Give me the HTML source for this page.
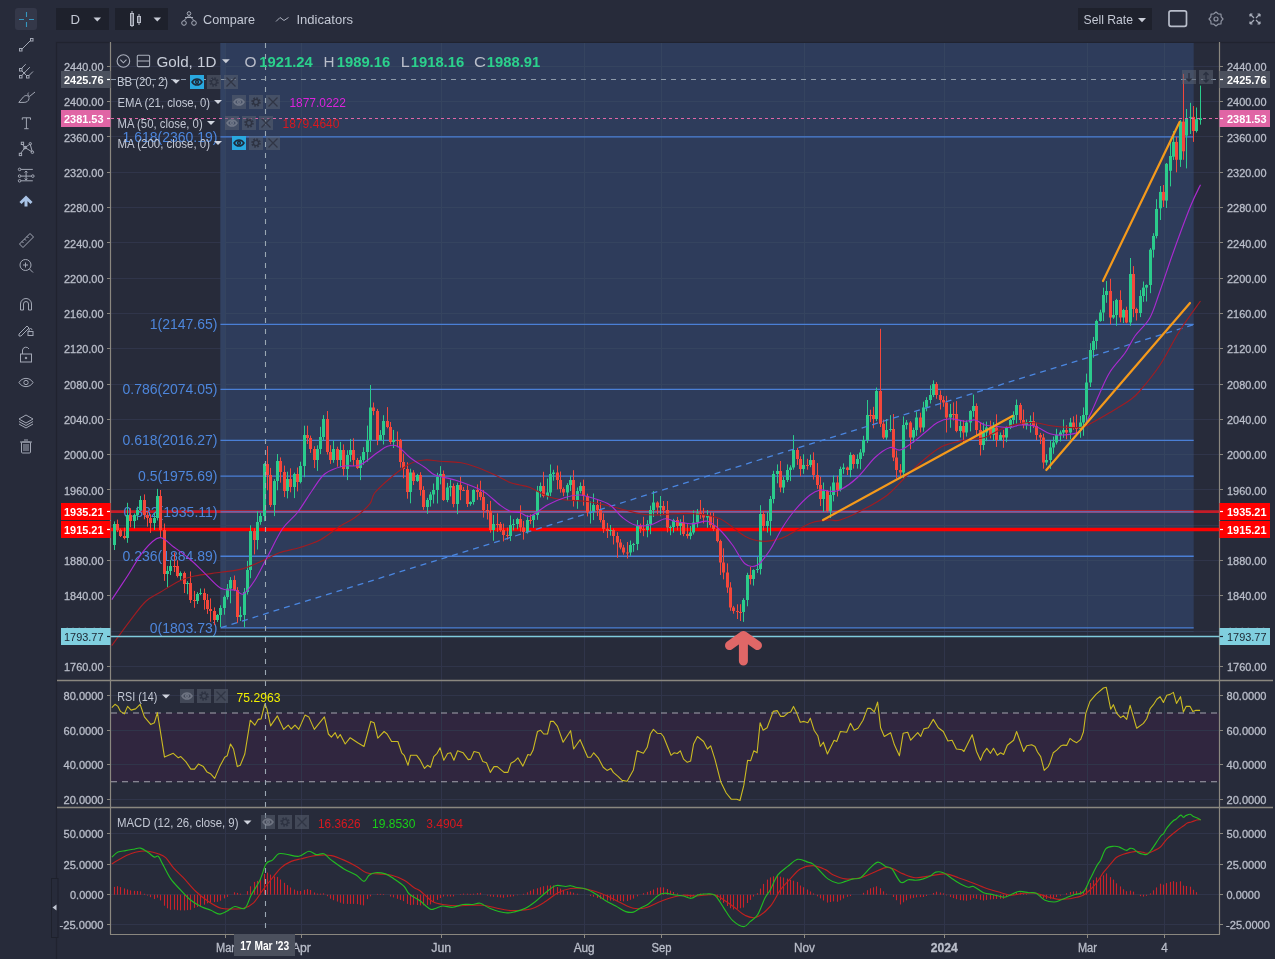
<!DOCTYPE html>
<html><head><meta charset="utf-8"><style>html,body{margin:0;padding:0;background:#272b3a;overflow:hidden;width:1275px;height:959px}svg{display:block;will-change:transform}text{font-family:"Liberation Sans",sans-serif}</style></head><body>
<svg width="1275" height="959" viewBox="0 0 1275 959" font-family="Liberation Sans, sans-serif">
<rect width="1275" height="959" fill="#272b3a"/>
<defs><clipPath id="cm"><rect x="111" y="43" width="1108" height="637"/></clipPath><clipPath id="cr"><rect x="111" y="681" width="1108" height="126"/></clipPath><clipPath id="cd"><rect x="111" y="808" width="1108" height="126"/></clipPath></defs>
<rect x="56.5" y="42.5" width="1300" height="1000" fill="none" stroke="#20232f" stroke-width="1.2"/>
<rect x="220.5" y="136.8" width="973.2" height="0" fill="none"/>
<rect x="220.5" y="43" width="973.2" height="584.8" fill="#2e3c5b"/>
<line x1="225.5" y1="43" x2="225.5" y2="934" stroke="#30354a" stroke-width="1"/>
<line x1="301.5" y1="43" x2="301.5" y2="934" stroke="#30354a" stroke-width="1"/>
<line x1="441.5" y1="43" x2="441.5" y2="934" stroke="#30354a" stroke-width="1"/>
<line x1="584.5" y1="43" x2="584.5" y2="934" stroke="#30354a" stroke-width="1"/>
<line x1="661.5" y1="43" x2="661.5" y2="934" stroke="#30354a" stroke-width="1"/>
<line x1="804.5" y1="43" x2="804.5" y2="934" stroke="#30354a" stroke-width="1"/>
<line x1="944.5" y1="43" x2="944.5" y2="934" stroke="#30354a" stroke-width="1"/>
<line x1="1087.5" y1="43" x2="1087.5" y2="934" stroke="#30354a" stroke-width="1"/>
<line x1="1164.5" y1="43" x2="1164.5" y2="934" stroke="#30354a" stroke-width="1"/>
<line x1="111" y1="666.5" x2="1219" y2="666.5" stroke="#30354a" stroke-width="1"/>
<line x1="111" y1="631.5" x2="1219" y2="631.5" stroke="#30354a" stroke-width="1"/>
<line x1="111" y1="595.5" x2="1219" y2="595.5" stroke="#30354a" stroke-width="1"/>
<line x1="111" y1="560.5" x2="1219" y2="560.5" stroke="#30354a" stroke-width="1"/>
<line x1="111" y1="525.5" x2="1219" y2="525.5" stroke="#30354a" stroke-width="1"/>
<line x1="111" y1="489.5" x2="1219" y2="489.5" stroke="#30354a" stroke-width="1"/>
<line x1="111" y1="454.5" x2="1219" y2="454.5" stroke="#30354a" stroke-width="1"/>
<line x1="111" y1="419.5" x2="1219" y2="419.5" stroke="#30354a" stroke-width="1"/>
<line x1="111" y1="384.5" x2="1219" y2="384.5" stroke="#30354a" stroke-width="1"/>
<line x1="111" y1="348.5" x2="1219" y2="348.5" stroke="#30354a" stroke-width="1"/>
<line x1="111" y1="313.5" x2="1219" y2="313.5" stroke="#30354a" stroke-width="1"/>
<line x1="111" y1="278.5" x2="1219" y2="278.5" stroke="#30354a" stroke-width="1"/>
<line x1="111" y1="242.5" x2="1219" y2="242.5" stroke="#30354a" stroke-width="1"/>
<line x1="111" y1="207.5" x2="1219" y2="207.5" stroke="#30354a" stroke-width="1"/>
<line x1="111" y1="172.5" x2="1219" y2="172.5" stroke="#30354a" stroke-width="1"/>
<line x1="111" y1="136.5" x2="1219" y2="136.5" stroke="#30354a" stroke-width="1"/>
<line x1="111" y1="101.5" x2="1219" y2="101.5" stroke="#30354a" stroke-width="1"/>
<line x1="111" y1="66.5" x2="1219" y2="66.5" stroke="#30354a" stroke-width="1"/>
<line x1="220.5" y1="631.5" x2="1193.7" y2="631.5" stroke="#35445f" stroke-width="1"/>
<line x1="220.5" y1="595.5" x2="1193.7" y2="595.5" stroke="#35445f" stroke-width="1"/>
<line x1="220.5" y1="560.5" x2="1193.7" y2="560.5" stroke="#35445f" stroke-width="1"/>
<line x1="220.5" y1="525.5" x2="1193.7" y2="525.5" stroke="#35445f" stroke-width="1"/>
<line x1="220.5" y1="489.5" x2="1193.7" y2="489.5" stroke="#35445f" stroke-width="1"/>
<line x1="220.5" y1="454.5" x2="1193.7" y2="454.5" stroke="#35445f" stroke-width="1"/>
<line x1="220.5" y1="419.5" x2="1193.7" y2="419.5" stroke="#35445f" stroke-width="1"/>
<line x1="220.5" y1="384.5" x2="1193.7" y2="384.5" stroke="#35445f" stroke-width="1"/>
<line x1="220.5" y1="348.5" x2="1193.7" y2="348.5" stroke="#35445f" stroke-width="1"/>
<line x1="220.5" y1="313.5" x2="1193.7" y2="313.5" stroke="#35445f" stroke-width="1"/>
<line x1="220.5" y1="278.5" x2="1193.7" y2="278.5" stroke="#35445f" stroke-width="1"/>
<line x1="220.5" y1="242.5" x2="1193.7" y2="242.5" stroke="#35445f" stroke-width="1"/>
<line x1="220.5" y1="207.5" x2="1193.7" y2="207.5" stroke="#35445f" stroke-width="1"/>
<line x1="220.5" y1="172.5" x2="1193.7" y2="172.5" stroke="#35445f" stroke-width="1"/>
<line x1="220.5" y1="136.5" x2="1193.7" y2="136.5" stroke="#35445f" stroke-width="1"/>
<line x1="220.5" y1="101.5" x2="1193.7" y2="101.5" stroke="#35445f" stroke-width="1"/>
<line x1="220.5" y1="66.5" x2="1193.7" y2="66.5" stroke="#35445f" stroke-width="1"/>
<rect x="220.5" y="43" width="5" height="584.8" fill="#324262"/>
<line x1="225.5" y1="43" x2="225.5" y2="627.8" stroke="#35445f" stroke-width="1"/>
<line x1="301.5" y1="43" x2="301.5" y2="627.8" stroke="#35445f" stroke-width="1"/>
<line x1="441.5" y1="43" x2="441.5" y2="627.8" stroke="#35445f" stroke-width="1"/>
<line x1="584.5" y1="43" x2="584.5" y2="627.8" stroke="#35445f" stroke-width="1"/>
<line x1="661.5" y1="43" x2="661.5" y2="627.8" stroke="#35445f" stroke-width="1"/>
<line x1="804.5" y1="43" x2="804.5" y2="627.8" stroke="#35445f" stroke-width="1"/>
<line x1="944.5" y1="43" x2="944.5" y2="627.8" stroke="#35445f" stroke-width="1"/>
<line x1="1087.5" y1="43" x2="1087.5" y2="627.8" stroke="#35445f" stroke-width="1"/>
<line x1="1164.5" y1="43" x2="1164.5" y2="627.8" stroke="#35445f" stroke-width="1"/>
<g clip-path="url(#cm)">
<line x1="111" y1="511.6" x2="1219" y2="511.6" stroke="#e01a26" stroke-width="2.6" opacity="0.85"/>
<line x1="111" y1="529.5" x2="1219" y2="529.5" stroke="#ff0000" stroke-width="3.4"/>
<line x1="220.5" y1="136.8" x2="1193.7" y2="136.8" stroke="#4a7fd6" stroke-width="1.35"/>
<line x1="220.5" y1="324.4" x2="1193.7" y2="324.4" stroke="#4a7fd6" stroke-width="1.35"/>
<line x1="220.5" y1="389.3" x2="1193.7" y2="389.3" stroke="#4a7fd6" stroke-width="1.35"/>
<line x1="220.5" y1="440.3" x2="1193.7" y2="440.3" stroke="#4a7fd6" stroke-width="1.35"/>
<line x1="220.5" y1="476.1" x2="1193.7" y2="476.1" stroke="#4a7fd6" stroke-width="1.35"/>
<line x1="220.5" y1="511.9" x2="1193.7" y2="511.9" stroke="#4a7fd6" stroke-width="1.35"/>
<line x1="220.5" y1="556.2" x2="1193.7" y2="556.2" stroke="#4a7fd6" stroke-width="1.35"/>
<line x1="220.5" y1="627.8" x2="1193.7" y2="627.8" stroke="#4a7fd6" stroke-width="1.35"/>
<text x="217.5" y="141.8" font-size="14" fill="#4d86dc" text-anchor="end" font-weight="normal" >1.618(2360.19)</text>
<text x="217.5" y="329.4" font-size="14" fill="#4d86dc" text-anchor="end" font-weight="normal" >1(2147.65)</text>
<text x="217.5" y="394.3" font-size="14" fill="#4d86dc" text-anchor="end" font-weight="normal" >0.786(2074.05)</text>
<text x="217.5" y="445.3" font-size="14" fill="#4d86dc" text-anchor="end" font-weight="normal" >0.618(2016.27)</text>
<text x="217.5" y="481.1" font-size="14" fill="#4d86dc" text-anchor="end" font-weight="normal" >0.5(1975.69)</text>
<text x="217.5" y="516.9" font-size="14" fill="#4d86dc" text-anchor="end" font-weight="normal" >0.382(1935.11)</text>
<text x="217.5" y="561.2" font-size="14" fill="#4d86dc" text-anchor="end" font-weight="normal" >0.236(1884.89)</text>
<text x="217.5" y="632.8" font-size="14" fill="#4d86dc" text-anchor="end" font-weight="normal" >0(1803.73)</text>
<line x1="114.5" y1="521.4" x2="114.5" y2="550.0" stroke="#2bcb8c" stroke-width="1"/>
<rect x="113.0" y="524.0" width="3" height="21.0" fill="#2bcb8c"/>
<line x1="117.5" y1="519.6" x2="117.5" y2="532.1" stroke="#f4473b" stroke-width="1"/>
<rect x="116.0" y="524.0" width="3" height="6.0" fill="#f4473b"/>
<line x1="120.5" y1="528.5" x2="120.5" y2="537.0" stroke="#f4473b" stroke-width="1"/>
<rect x="119.0" y="530.0" width="3" height="6.0" fill="#f4473b"/>
<line x1="124.5" y1="527.7" x2="124.5" y2="539.4" stroke="#f4473b" stroke-width="1"/>
<rect x="123.0" y="536.0" width="3" height="2.0" fill="#f4473b"/>
<line x1="127.5" y1="502.8" x2="127.5" y2="542.8" stroke="#2bcb8c" stroke-width="1"/>
<rect x="126.0" y="515.0" width="3" height="23.0" fill="#2bcb8c"/>
<line x1="130.5" y1="508.2" x2="130.5" y2="527.3" stroke="#f4473b" stroke-width="1"/>
<rect x="129.0" y="515.0" width="3" height="6.0" fill="#f4473b"/>
<line x1="134.5" y1="513.5" x2="134.5" y2="528.4" stroke="#2bcb8c" stroke-width="1"/>
<rect x="133.0" y="515.0" width="3" height="6.0" fill="#2bcb8c"/>
<line x1="137.5" y1="506.6" x2="137.5" y2="520.1" stroke="#2bcb8c" stroke-width="1"/>
<rect x="136.0" y="510.0" width="3" height="5.0" fill="#2bcb8c"/>
<line x1="140.5" y1="495.9" x2="140.5" y2="511.0" stroke="#2bcb8c" stroke-width="1"/>
<rect x="139.0" y="500.0" width="3" height="10.0" fill="#2bcb8c"/>
<line x1="144.5" y1="494.4" x2="144.5" y2="519.3" stroke="#f4473b" stroke-width="1"/>
<rect x="143.0" y="500.0" width="3" height="15.0" fill="#f4473b"/>
<line x1="147.5" y1="511.3" x2="147.5" y2="526.7" stroke="#f4473b" stroke-width="1"/>
<rect x="146.0" y="515.0" width="3" height="3.0" fill="#f4473b"/>
<line x1="150.5" y1="514.2" x2="150.5" y2="532.9" stroke="#f4473b" stroke-width="1"/>
<rect x="149.0" y="518.0" width="3" height="5.0" fill="#f4473b"/>
<line x1="154.5" y1="512.5" x2="154.5" y2="529.9" stroke="#2bcb8c" stroke-width="1"/>
<rect x="153.0" y="518.0" width="3" height="5.0" fill="#2bcb8c"/>
<line x1="157.5" y1="488.9" x2="157.5" y2="520.5" stroke="#2bcb8c" stroke-width="1"/>
<rect x="156.0" y="496.0" width="3" height="22.0" fill="#2bcb8c"/>
<line x1="160.5" y1="490.0" x2="160.5" y2="537.2" stroke="#f4473b" stroke-width="1"/>
<rect x="159.0" y="496.0" width="3" height="34.0" fill="#f4473b"/>
<line x1="164.5" y1="523.5" x2="164.5" y2="580.9" stroke="#f4473b" stroke-width="1"/>
<rect x="163.0" y="530.0" width="3" height="44.0" fill="#f4473b"/>
<line x1="167.5" y1="565.9" x2="167.5" y2="587.5" stroke="#2bcb8c" stroke-width="1"/>
<rect x="166.0" y="571.0" width="3" height="3.0" fill="#2bcb8c"/>
<line x1="170.5" y1="559.8" x2="170.5" y2="575.0" stroke="#2bcb8c" stroke-width="1"/>
<rect x="169.0" y="566.0" width="3" height="5.0" fill="#2bcb8c"/>
<line x1="174.5" y1="552.5" x2="174.5" y2="572.0" stroke="#f4473b" stroke-width="1"/>
<rect x="173.0" y="566.0" width="3" height="1.0" fill="#f4473b"/>
<line x1="177.5" y1="560.3" x2="177.5" y2="577.5" stroke="#f4473b" stroke-width="1"/>
<rect x="176.0" y="566.0" width="3" height="10.0" fill="#f4473b"/>
<line x1="180.5" y1="571.4" x2="180.5" y2="581.0" stroke="#2bcb8c" stroke-width="1"/>
<rect x="179.0" y="573.0" width="3" height="3.0" fill="#2bcb8c"/>
<line x1="184.5" y1="571.5" x2="184.5" y2="593.0" stroke="#f4473b" stroke-width="1"/>
<rect x="183.0" y="573.0" width="3" height="11.0" fill="#f4473b"/>
<line x1="187.5" y1="581.2" x2="187.5" y2="594.3" stroke="#2bcb8c" stroke-width="1"/>
<rect x="186.0" y="583.0" width="3" height="1.0" fill="#2bcb8c"/>
<line x1="190.5" y1="571.4" x2="190.5" y2="603.0" stroke="#f4473b" stroke-width="1"/>
<rect x="189.0" y="583.0" width="3" height="17.0" fill="#f4473b"/>
<line x1="194.5" y1="590.9" x2="194.5" y2="607.8" stroke="#f4473b" stroke-width="1"/>
<rect x="193.0" y="600.0" width="3" height="1.0" fill="#f4473b"/>
<line x1="197.5" y1="592.2" x2="197.5" y2="604.0" stroke="#2bcb8c" stroke-width="1"/>
<rect x="196.0" y="594.0" width="3" height="7.0" fill="#2bcb8c"/>
<line x1="200.5" y1="588.5" x2="200.5" y2="595.2" stroke="#2bcb8c" stroke-width="1"/>
<rect x="199.0" y="593.0" width="3" height="1.0" fill="#2bcb8c"/>
<line x1="204.5" y1="588.5" x2="204.5" y2="609.7" stroke="#f4473b" stroke-width="1"/>
<rect x="203.0" y="593.0" width="3" height="7.0" fill="#f4473b"/>
<line x1="207.5" y1="594.0" x2="207.5" y2="613.9" stroke="#f4473b" stroke-width="1"/>
<rect x="206.0" y="600.0" width="3" height="9.0" fill="#f4473b"/>
<line x1="210.5" y1="598.4" x2="210.5" y2="621.8" stroke="#f4473b" stroke-width="1"/>
<rect x="209.0" y="609.0" width="3" height="2.0" fill="#f4473b"/>
<line x1="214.5" y1="607.4" x2="214.5" y2="625.0" stroke="#f4473b" stroke-width="1"/>
<rect x="213.0" y="611.0" width="3" height="9.0" fill="#f4473b"/>
<line x1="217.5" y1="614.1" x2="217.5" y2="621.9" stroke="#2bcb8c" stroke-width="1"/>
<rect x="216.0" y="615.0" width="3" height="5.0" fill="#2bcb8c"/>
<line x1="220.5" y1="605.3" x2="220.5" y2="627.0" stroke="#2bcb8c" stroke-width="1"/>
<rect x="219.0" y="608.0" width="3" height="7.0" fill="#2bcb8c"/>
<line x1="224.5" y1="595.4" x2="224.5" y2="614.7" stroke="#2bcb8c" stroke-width="1"/>
<rect x="223.0" y="597.0" width="3" height="11.0" fill="#2bcb8c"/>
<line x1="227.5" y1="584.0" x2="227.5" y2="599.5" stroke="#2bcb8c" stroke-width="1"/>
<rect x="226.0" y="588.5" width="3" height="8.5" fill="#2bcb8c"/>
<line x1="230.5" y1="577.1" x2="230.5" y2="603.3" stroke="#2bcb8c" stroke-width="1"/>
<rect x="229.0" y="580.0" width="3" height="8.5" fill="#2bcb8c"/>
<line x1="234.5" y1="575.5" x2="234.5" y2="591.1" stroke="#f4473b" stroke-width="1"/>
<rect x="233.0" y="580.0" width="3" height="10.0" fill="#f4473b"/>
<line x1="237.5" y1="587.1" x2="237.5" y2="622.9" stroke="#f4473b" stroke-width="1"/>
<rect x="236.0" y="590.0" width="3" height="27.0" fill="#f4473b"/>
<line x1="240.5" y1="606.6" x2="240.5" y2="621.0" stroke="#2bcb8c" stroke-width="1"/>
<rect x="239.0" y="615.0" width="3" height="2.0" fill="#2bcb8c"/>
<line x1="244.5" y1="588.0" x2="244.5" y2="627.4" stroke="#2bcb8c" stroke-width="1"/>
<rect x="243.0" y="592.0" width="3" height="23.0" fill="#2bcb8c"/>
<line x1="247.5" y1="560.9" x2="247.5" y2="594.6" stroke="#2bcb8c" stroke-width="1"/>
<rect x="246.0" y="570.0" width="3" height="22.0" fill="#2bcb8c"/>
<line x1="250.5" y1="525.3" x2="250.5" y2="578.2" stroke="#2bcb8c" stroke-width="1"/>
<rect x="249.0" y="531.0" width="3" height="39.0" fill="#2bcb8c"/>
<line x1="254.5" y1="528.3" x2="254.5" y2="554.4" stroke="#f4473b" stroke-width="1"/>
<rect x="253.0" y="531.0" width="3" height="9.0" fill="#f4473b"/>
<line x1="257.5" y1="511.2" x2="257.5" y2="549.5" stroke="#2bcb8c" stroke-width="1"/>
<rect x="256.0" y="522.0" width="3" height="18.0" fill="#2bcb8c"/>
<line x1="260.5" y1="512.8" x2="260.5" y2="524.8" stroke="#2bcb8c" stroke-width="1"/>
<rect x="259.0" y="516.0" width="3" height="6.0" fill="#2bcb8c"/>
<line x1="264.5" y1="463.1" x2="264.5" y2="521.2" stroke="#2bcb8c" stroke-width="1"/>
<rect x="263.0" y="464.0" width="3" height="52.0" fill="#2bcb8c"/>
<line x1="267.5" y1="446.0" x2="267.5" y2="490.3" stroke="#f4473b" stroke-width="1"/>
<rect x="266.0" y="464.0" width="3" height="11.0" fill="#f4473b"/>
<line x1="270.5" y1="467.9" x2="270.5" y2="507.0" stroke="#f4473b" stroke-width="1"/>
<rect x="269.0" y="475.0" width="3" height="30.0" fill="#f4473b"/>
<line x1="274.5" y1="479.1" x2="274.5" y2="516.1" stroke="#2bcb8c" stroke-width="1"/>
<rect x="273.0" y="481.0" width="3" height="24.0" fill="#2bcb8c"/>
<line x1="277.5" y1="454.0" x2="277.5" y2="490.3" stroke="#2bcb8c" stroke-width="1"/>
<rect x="276.0" y="461.0" width="3" height="20.0" fill="#2bcb8c"/>
<line x1="280.5" y1="457.4" x2="280.5" y2="482.7" stroke="#f4473b" stroke-width="1"/>
<rect x="279.0" y="461.0" width="3" height="11.0" fill="#f4473b"/>
<line x1="284.5" y1="465.6" x2="284.5" y2="497.1" stroke="#f4473b" stroke-width="1"/>
<rect x="283.0" y="472.0" width="3" height="19.0" fill="#f4473b"/>
<line x1="287.5" y1="471.7" x2="287.5" y2="498.4" stroke="#2bcb8c" stroke-width="1"/>
<rect x="286.0" y="479.0" width="3" height="12.0" fill="#2bcb8c"/>
<line x1="290.5" y1="468.3" x2="290.5" y2="492.3" stroke="#f4473b" stroke-width="1"/>
<rect x="289.0" y="479.0" width="3" height="8.0" fill="#f4473b"/>
<line x1="294.5" y1="472.6" x2="294.5" y2="498.1" stroke="#2bcb8c" stroke-width="1"/>
<rect x="293.0" y="474.0" width="3" height="13.0" fill="#2bcb8c"/>
<line x1="297.5" y1="467.5" x2="297.5" y2="491.4" stroke="#f4473b" stroke-width="1"/>
<rect x="296.0" y="474.0" width="3" height="8.0" fill="#f4473b"/>
<line x1="300.5" y1="461.7" x2="300.5" y2="483.4" stroke="#2bcb8c" stroke-width="1"/>
<rect x="299.0" y="466.0" width="3" height="16.0" fill="#2bcb8c"/>
<line x1="304.5" y1="425.7" x2="304.5" y2="477.2" stroke="#2bcb8c" stroke-width="1"/>
<rect x="303.0" y="435.0" width="3" height="31.0" fill="#2bcb8c"/>
<line x1="307.5" y1="425.7" x2="307.5" y2="444.0" stroke="#f4473b" stroke-width="1"/>
<rect x="306.0" y="435.0" width="3" height="3.0" fill="#f4473b"/>
<line x1="310.5" y1="435.6" x2="310.5" y2="452.9" stroke="#f4473b" stroke-width="1"/>
<rect x="309.0" y="438.0" width="3" height="11.0" fill="#f4473b"/>
<line x1="314.5" y1="446.2" x2="314.5" y2="468.1" stroke="#f4473b" stroke-width="1"/>
<rect x="313.0" y="449.0" width="3" height="11.0" fill="#f4473b"/>
<line x1="317.5" y1="445.3" x2="317.5" y2="470.9" stroke="#2bcb8c" stroke-width="1"/>
<rect x="316.0" y="449.0" width="3" height="11.0" fill="#2bcb8c"/>
<line x1="320.5" y1="426.8" x2="320.5" y2="454.1" stroke="#2bcb8c" stroke-width="1"/>
<rect x="319.0" y="437.0" width="3" height="12.0" fill="#2bcb8c"/>
<line x1="323.5" y1="415.1" x2="323.5" y2="440.4" stroke="#2bcb8c" stroke-width="1"/>
<rect x="322.0" y="419.0" width="3" height="18.0" fill="#2bcb8c"/>
<line x1="327.5" y1="411.0" x2="327.5" y2="454.6" stroke="#f4473b" stroke-width="1"/>
<rect x="326.0" y="419.0" width="3" height="33.0" fill="#f4473b"/>
<line x1="330.5" y1="445.2" x2="330.5" y2="463.9" stroke="#f4473b" stroke-width="1"/>
<rect x="329.0" y="452.0" width="3" height="8.0" fill="#f4473b"/>
<line x1="333.5" y1="440.5" x2="333.5" y2="462.8" stroke="#2bcb8c" stroke-width="1"/>
<rect x="332.0" y="449.0" width="3" height="11.0" fill="#2bcb8c"/>
<line x1="337.5" y1="446.7" x2="337.5" y2="466.7" stroke="#f4473b" stroke-width="1"/>
<rect x="336.0" y="449.0" width="3" height="11.0" fill="#f4473b"/>
<line x1="340.5" y1="441.9" x2="340.5" y2="467.2" stroke="#2bcb8c" stroke-width="1"/>
<rect x="339.0" y="450.0" width="3" height="10.0" fill="#2bcb8c"/>
<line x1="343.5" y1="444.4" x2="343.5" y2="475.8" stroke="#f4473b" stroke-width="1"/>
<rect x="342.0" y="450.0" width="3" height="19.0" fill="#f4473b"/>
<line x1="347.5" y1="450.2" x2="347.5" y2="480.1" stroke="#2bcb8c" stroke-width="1"/>
<rect x="346.0" y="455.0" width="3" height="14.0" fill="#2bcb8c"/>
<line x1="350.5" y1="438.9" x2="350.5" y2="461.8" stroke="#2bcb8c" stroke-width="1"/>
<rect x="349.0" y="450.0" width="3" height="5.0" fill="#2bcb8c"/>
<line x1="353.5" y1="438.3" x2="353.5" y2="466.0" stroke="#f4473b" stroke-width="1"/>
<rect x="352.0" y="450.0" width="3" height="10.0" fill="#f4473b"/>
<line x1="357.5" y1="457.9" x2="357.5" y2="469.1" stroke="#f4473b" stroke-width="1"/>
<rect x="356.0" y="460.0" width="3" height="8.0" fill="#f4473b"/>
<line x1="360.5" y1="456.3" x2="360.5" y2="480.1" stroke="#2bcb8c" stroke-width="1"/>
<rect x="359.0" y="460.0" width="3" height="8.0" fill="#2bcb8c"/>
<line x1="363.5" y1="447.2" x2="363.5" y2="464.8" stroke="#2bcb8c" stroke-width="1"/>
<rect x="362.0" y="452.0" width="3" height="8.0" fill="#2bcb8c"/>
<line x1="367.5" y1="425.6" x2="367.5" y2="461.7" stroke="#2bcb8c" stroke-width="1"/>
<rect x="366.0" y="440.0" width="3" height="12.0" fill="#2bcb8c"/>
<line x1="370.5" y1="385.0" x2="370.5" y2="452.1" stroke="#2bcb8c" stroke-width="1"/>
<rect x="369.0" y="407.5" width="3" height="32.5" fill="#2bcb8c"/>
<line x1="373.5" y1="402.5" x2="373.5" y2="415.2" stroke="#f4473b" stroke-width="1"/>
<rect x="372.0" y="407.5" width="3" height="3.5" fill="#f4473b"/>
<line x1="377.5" y1="408.9" x2="377.5" y2="445.2" stroke="#f4473b" stroke-width="1"/>
<rect x="376.0" y="411.0" width="3" height="29.0" fill="#f4473b"/>
<line x1="380.5" y1="430.1" x2="380.5" y2="440.9" stroke="#2bcb8c" stroke-width="1"/>
<rect x="379.0" y="435.0" width="3" height="5.0" fill="#2bcb8c"/>
<line x1="383.5" y1="415.2" x2="383.5" y2="444.5" stroke="#2bcb8c" stroke-width="1"/>
<rect x="382.0" y="421.0" width="3" height="14.0" fill="#2bcb8c"/>
<line x1="387.5" y1="407.1" x2="387.5" y2="428.3" stroke="#f4473b" stroke-width="1"/>
<rect x="386.0" y="421.0" width="3" height="6.0" fill="#f4473b"/>
<line x1="390.5" y1="422.0" x2="390.5" y2="444.3" stroke="#f4473b" stroke-width="1"/>
<rect x="389.0" y="427.0" width="3" height="15.0" fill="#f4473b"/>
<line x1="393.5" y1="429.9" x2="393.5" y2="448.0" stroke="#2bcb8c" stroke-width="1"/>
<rect x="392.0" y="440.0" width="3" height="2.0" fill="#2bcb8c"/>
<line x1="397.5" y1="431.5" x2="397.5" y2="447.3" stroke="#f4473b" stroke-width="1"/>
<rect x="396.0" y="440.0" width="3" height="1.0" fill="#f4473b"/>
<line x1="400.5" y1="438.9" x2="400.5" y2="467.7" stroke="#f4473b" stroke-width="1"/>
<rect x="399.0" y="440.0" width="3" height="22.0" fill="#f4473b"/>
<line x1="403.5" y1="453.6" x2="403.5" y2="478.3" stroke="#f4473b" stroke-width="1"/>
<rect x="402.0" y="462.0" width="3" height="7.0" fill="#f4473b"/>
<line x1="407.5" y1="462.3" x2="407.5" y2="498.7" stroke="#f4473b" stroke-width="1"/>
<rect x="406.0" y="469.0" width="3" height="23.0" fill="#f4473b"/>
<line x1="410.5" y1="468.7" x2="410.5" y2="503.3" stroke="#2bcb8c" stroke-width="1"/>
<rect x="409.0" y="472.5" width="3" height="19.5" fill="#2bcb8c"/>
<line x1="413.5" y1="470.2" x2="413.5" y2="485.0" stroke="#f4473b" stroke-width="1"/>
<rect x="412.0" y="472.5" width="3" height="8.5" fill="#f4473b"/>
<line x1="417.5" y1="473.8" x2="417.5" y2="481.9" stroke="#2bcb8c" stroke-width="1"/>
<rect x="416.0" y="475.0" width="3" height="6.0" fill="#2bcb8c"/>
<line x1="420.5" y1="472.2" x2="420.5" y2="495.7" stroke="#f4473b" stroke-width="1"/>
<rect x="419.0" y="475.0" width="3" height="15.0" fill="#f4473b"/>
<line x1="423.5" y1="486.2" x2="423.5" y2="509.8" stroke="#f4473b" stroke-width="1"/>
<rect x="422.0" y="490.0" width="3" height="17.0" fill="#f4473b"/>
<line x1="427.5" y1="497.9" x2="427.5" y2="513.8" stroke="#2bcb8c" stroke-width="1"/>
<rect x="426.0" y="500.0" width="3" height="7.0" fill="#2bcb8c"/>
<line x1="430.5" y1="491.9" x2="430.5" y2="506.6" stroke="#2bcb8c" stroke-width="1"/>
<rect x="429.0" y="494.5" width="3" height="5.5" fill="#2bcb8c"/>
<line x1="433.5" y1="483.5" x2="433.5" y2="503.5" stroke="#2bcb8c" stroke-width="1"/>
<rect x="432.0" y="490.0" width="3" height="4.5" fill="#2bcb8c"/>
<line x1="437.5" y1="472.8" x2="437.5" y2="503.5" stroke="#2bcb8c" stroke-width="1"/>
<rect x="436.0" y="477.0" width="3" height="13.0" fill="#2bcb8c"/>
<line x1="440.5" y1="466.1" x2="440.5" y2="484.4" stroke="#2bcb8c" stroke-width="1"/>
<rect x="439.0" y="474.0" width="3" height="3.0" fill="#2bcb8c"/>
<line x1="443.5" y1="470.5" x2="443.5" y2="500.9" stroke="#f4473b" stroke-width="1"/>
<rect x="442.0" y="474.0" width="3" height="26.0" fill="#f4473b"/>
<line x1="447.5" y1="482.9" x2="447.5" y2="502.2" stroke="#2bcb8c" stroke-width="1"/>
<rect x="446.0" y="487.5" width="3" height="12.5" fill="#2bcb8c"/>
<line x1="450.5" y1="479.6" x2="450.5" y2="496.4" stroke="#2bcb8c" stroke-width="1"/>
<rect x="449.0" y="486.0" width="3" height="1.5" fill="#2bcb8c"/>
<line x1="453.5" y1="483.5" x2="453.5" y2="507.3" stroke="#f4473b" stroke-width="1"/>
<rect x="452.0" y="486.0" width="3" height="18.0" fill="#f4473b"/>
<line x1="457.5" y1="482.7" x2="457.5" y2="514.2" stroke="#2bcb8c" stroke-width="1"/>
<rect x="456.0" y="485.0" width="3" height="19.0" fill="#2bcb8c"/>
<line x1="460.5" y1="476.7" x2="460.5" y2="500.2" stroke="#f4473b" stroke-width="1"/>
<rect x="459.0" y="485.0" width="3" height="5.0" fill="#f4473b"/>
<line x1="463.5" y1="487.1" x2="463.5" y2="491.0" stroke="#f4473b" stroke-width="1"/>
<rect x="462.0" y="490.0" width="3" height="1.0" fill="#f4473b"/>
<line x1="467.5" y1="485.3" x2="467.5" y2="507.0" stroke="#f4473b" stroke-width="1"/>
<rect x="466.0" y="490.0" width="3" height="14.0" fill="#f4473b"/>
<line x1="470.5" y1="501.3" x2="470.5" y2="505.7" stroke="#2bcb8c" stroke-width="1"/>
<rect x="469.0" y="502.0" width="3" height="2.0" fill="#2bcb8c"/>
<line x1="473.5" y1="489.2" x2="473.5" y2="504.6" stroke="#2bcb8c" stroke-width="1"/>
<rect x="472.0" y="490.0" width="3" height="12.0" fill="#2bcb8c"/>
<line x1="477.5" y1="484.4" x2="477.5" y2="499.9" stroke="#f4473b" stroke-width="1"/>
<rect x="476.0" y="490.0" width="3" height="2.0" fill="#f4473b"/>
<line x1="480.5" y1="480.7" x2="480.5" y2="500.3" stroke="#f4473b" stroke-width="1"/>
<rect x="479.0" y="492.0" width="3" height="5.0" fill="#f4473b"/>
<line x1="483.5" y1="490.1" x2="483.5" y2="517.6" stroke="#f4473b" stroke-width="1"/>
<rect x="482.0" y="497.0" width="3" height="13.0" fill="#f4473b"/>
<line x1="487.5" y1="504.0" x2="487.5" y2="519.5" stroke="#f4473b" stroke-width="1"/>
<rect x="486.0" y="510.0" width="3" height="1.0" fill="#f4473b"/>
<line x1="490.5" y1="500.9" x2="490.5" y2="532.7" stroke="#f4473b" stroke-width="1"/>
<rect x="489.0" y="511.0" width="3" height="19.0" fill="#f4473b"/>
<line x1="493.5" y1="515.0" x2="493.5" y2="540.8" stroke="#2bcb8c" stroke-width="1"/>
<rect x="492.0" y="524.0" width="3" height="6.0" fill="#2bcb8c"/>
<line x1="497.5" y1="513.3" x2="497.5" y2="531.9" stroke="#f4473b" stroke-width="1"/>
<rect x="496.0" y="524.0" width="3" height="1.0" fill="#f4473b"/>
<line x1="500.5" y1="522.0" x2="500.5" y2="531.8" stroke="#f4473b" stroke-width="1"/>
<rect x="499.0" y="524.0" width="3" height="6.0" fill="#f4473b"/>
<line x1="503.5" y1="523.6" x2="503.5" y2="541.4" stroke="#f4473b" stroke-width="1"/>
<rect x="502.0" y="530.0" width="3" height="5.0" fill="#f4473b"/>
<line x1="507.5" y1="527.6" x2="507.5" y2="539.7" stroke="#f4473b" stroke-width="1"/>
<rect x="506.0" y="535.0" width="3" height="1.0" fill="#f4473b"/>
<line x1="510.5" y1="515.5" x2="510.5" y2="541.1" stroke="#2bcb8c" stroke-width="1"/>
<rect x="509.0" y="525.0" width="3" height="11.0" fill="#2bcb8c"/>
<line x1="513.5" y1="519.2" x2="513.5" y2="530.4" stroke="#2bcb8c" stroke-width="1"/>
<rect x="512.0" y="524.0" width="3" height="1.0" fill="#2bcb8c"/>
<line x1="517.5" y1="517.8" x2="517.5" y2="529.3" stroke="#2bcb8c" stroke-width="1"/>
<rect x="516.0" y="519.0" width="3" height="5.0" fill="#2bcb8c"/>
<line x1="520.5" y1="505.3" x2="520.5" y2="531.7" stroke="#f4473b" stroke-width="1"/>
<rect x="519.0" y="519.0" width="3" height="8.5" fill="#f4473b"/>
<line x1="523.5" y1="521.0" x2="523.5" y2="539.6" stroke="#f4473b" stroke-width="1"/>
<rect x="522.0" y="527.5" width="3" height="4.5" fill="#f4473b"/>
<line x1="527.5" y1="515.3" x2="527.5" y2="533.6" stroke="#2bcb8c" stroke-width="1"/>
<rect x="526.0" y="520.0" width="3" height="12.0" fill="#2bcb8c"/>
<line x1="530.5" y1="514.4" x2="530.5" y2="524.2" stroke="#f4473b" stroke-width="1"/>
<rect x="529.0" y="520.0" width="3" height="1.0" fill="#f4473b"/>
<line x1="533.5" y1="513.9" x2="533.5" y2="527.9" stroke="#2bcb8c" stroke-width="1"/>
<rect x="532.0" y="515.0" width="3" height="5.0" fill="#2bcb8c"/>
<line x1="537.5" y1="485.9" x2="537.5" y2="519.8" stroke="#2bcb8c" stroke-width="1"/>
<rect x="536.0" y="491.0" width="3" height="24.0" fill="#2bcb8c"/>
<line x1="540.5" y1="482.5" x2="540.5" y2="497.4" stroke="#2bcb8c" stroke-width="1"/>
<rect x="539.0" y="486.0" width="3" height="5.0" fill="#2bcb8c"/>
<line x1="543.5" y1="471.8" x2="543.5" y2="497.5" stroke="#f4473b" stroke-width="1"/>
<rect x="542.0" y="486.0" width="3" height="10.0" fill="#f4473b"/>
<line x1="547.5" y1="478.5" x2="547.5" y2="499.6" stroke="#2bcb8c" stroke-width="1"/>
<rect x="546.0" y="492.5" width="3" height="3.5" fill="#2bcb8c"/>
<line x1="550.5" y1="464.5" x2="550.5" y2="496.1" stroke="#2bcb8c" stroke-width="1"/>
<rect x="549.0" y="474.0" width="3" height="18.5" fill="#2bcb8c"/>
<line x1="553.5" y1="469.8" x2="553.5" y2="480.7" stroke="#2bcb8c" stroke-width="1"/>
<rect x="552.0" y="472.5" width="3" height="1.5" fill="#2bcb8c"/>
<line x1="557.5" y1="465.5" x2="557.5" y2="489.4" stroke="#f4473b" stroke-width="1"/>
<rect x="556.0" y="472.5" width="3" height="7.5" fill="#f4473b"/>
<line x1="560.5" y1="471.5" x2="560.5" y2="492.7" stroke="#f4473b" stroke-width="1"/>
<rect x="559.0" y="480.0" width="3" height="9.0" fill="#f4473b"/>
<line x1="563.5" y1="487.4" x2="563.5" y2="496.2" stroke="#f4473b" stroke-width="1"/>
<rect x="562.0" y="489.0" width="3" height="3.5" fill="#f4473b"/>
<line x1="567.5" y1="483.2" x2="567.5" y2="500.4" stroke="#2bcb8c" stroke-width="1"/>
<rect x="566.0" y="485.0" width="3" height="7.5" fill="#2bcb8c"/>
<line x1="570.5" y1="475.7" x2="570.5" y2="491.0" stroke="#2bcb8c" stroke-width="1"/>
<rect x="569.0" y="480.0" width="3" height="5.0" fill="#2bcb8c"/>
<line x1="573.5" y1="470.2" x2="573.5" y2="506.6" stroke="#f4473b" stroke-width="1"/>
<rect x="572.0" y="480.0" width="3" height="20.0" fill="#f4473b"/>
<line x1="577.5" y1="487.5" x2="577.5" y2="508.8" stroke="#2bcb8c" stroke-width="1"/>
<rect x="576.0" y="491.0" width="3" height="9.0" fill="#2bcb8c"/>
<line x1="580.5" y1="482.4" x2="580.5" y2="493.3" stroke="#2bcb8c" stroke-width="1"/>
<rect x="579.0" y="486.0" width="3" height="5.0" fill="#2bcb8c"/>
<line x1="583.5" y1="479.6" x2="583.5" y2="505.7" stroke="#f4473b" stroke-width="1"/>
<rect x="582.0" y="486.0" width="3" height="10.0" fill="#f4473b"/>
<line x1="587.5" y1="493.7" x2="587.5" y2="516.4" stroke="#f4473b" stroke-width="1"/>
<rect x="586.0" y="496.0" width="3" height="16.5" fill="#f4473b"/>
<line x1="590.5" y1="501.2" x2="590.5" y2="523.6" stroke="#2bcb8c" stroke-width="1"/>
<rect x="589.0" y="512.0" width="3" height="1.0" fill="#2bcb8c"/>
<line x1="593.5" y1="493.5" x2="593.5" y2="520.1" stroke="#2bcb8c" stroke-width="1"/>
<rect x="592.0" y="505.0" width="3" height="7.0" fill="#2bcb8c"/>
<line x1="597.5" y1="499.8" x2="597.5" y2="516.1" stroke="#f4473b" stroke-width="1"/>
<rect x="596.0" y="505.0" width="3" height="5.0" fill="#f4473b"/>
<line x1="600.5" y1="502.2" x2="600.5" y2="522.4" stroke="#f4473b" stroke-width="1"/>
<rect x="599.0" y="510.0" width="3" height="10.0" fill="#f4473b"/>
<line x1="603.5" y1="513.5" x2="603.5" y2="532.9" stroke="#f4473b" stroke-width="1"/>
<rect x="602.0" y="520.0" width="3" height="9.0" fill="#f4473b"/>
<line x1="607.5" y1="522.9" x2="607.5" y2="538.0" stroke="#f4473b" stroke-width="1"/>
<rect x="606.0" y="529.0" width="3" height="2.0" fill="#f4473b"/>
<line x1="610.5" y1="525.0" x2="610.5" y2="535.7" stroke="#2bcb8c" stroke-width="1"/>
<rect x="609.0" y="530.0" width="3" height="1.0" fill="#2bcb8c"/>
<line x1="613.5" y1="528.4" x2="613.5" y2="544.5" stroke="#f4473b" stroke-width="1"/>
<rect x="612.0" y="530.0" width="3" height="6.0" fill="#f4473b"/>
<line x1="617.5" y1="532.2" x2="617.5" y2="557.8" stroke="#f4473b" stroke-width="1"/>
<rect x="616.0" y="536.0" width="3" height="6.5" fill="#f4473b"/>
<line x1="620.5" y1="539.1" x2="620.5" y2="549.3" stroke="#f4473b" stroke-width="1"/>
<rect x="619.0" y="542.5" width="3" height="5.0" fill="#f4473b"/>
<line x1="623.5" y1="544.8" x2="623.5" y2="554.7" stroke="#f4473b" stroke-width="1"/>
<rect x="622.0" y="547.5" width="3" height="5.0" fill="#f4473b"/>
<line x1="627.5" y1="542.0" x2="627.5" y2="558.5" stroke="#f4473b" stroke-width="1"/>
<rect x="626.0" y="552.5" width="3" height="1.0" fill="#f4473b"/>
<line x1="630.5" y1="540.5" x2="630.5" y2="555.8" stroke="#2bcb8c" stroke-width="1"/>
<rect x="629.0" y="545.0" width="3" height="7.5" fill="#2bcb8c"/>
<line x1="633.5" y1="542.9" x2="633.5" y2="551.8" stroke="#2bcb8c" stroke-width="1"/>
<rect x="632.0" y="544.0" width="3" height="1.0" fill="#2bcb8c"/>
<line x1="637.5" y1="520.0" x2="637.5" y2="550.2" stroke="#2bcb8c" stroke-width="1"/>
<rect x="636.0" y="526.0" width="3" height="18.0" fill="#2bcb8c"/>
<line x1="640.5" y1="523.6" x2="640.5" y2="532.9" stroke="#f4473b" stroke-width="1"/>
<rect x="639.0" y="526.0" width="3" height="3.0" fill="#f4473b"/>
<line x1="643.5" y1="516.8" x2="643.5" y2="536.2" stroke="#f4473b" stroke-width="1"/>
<rect x="642.0" y="529.0" width="3" height="1.0" fill="#f4473b"/>
<line x1="647.5" y1="520.1" x2="647.5" y2="537.3" stroke="#2bcb8c" stroke-width="1"/>
<rect x="646.0" y="524.0" width="3" height="6.0" fill="#2bcb8c"/>
<line x1="650.5" y1="505.7" x2="650.5" y2="534.2" stroke="#2bcb8c" stroke-width="1"/>
<rect x="649.0" y="510.0" width="3" height="14.0" fill="#2bcb8c"/>
<line x1="653.5" y1="491.0" x2="653.5" y2="517.0" stroke="#2bcb8c" stroke-width="1"/>
<rect x="652.0" y="502.5" width="3" height="7.5" fill="#2bcb8c"/>
<line x1="657.5" y1="501.3" x2="657.5" y2="514.3" stroke="#f4473b" stroke-width="1"/>
<rect x="656.0" y="502.5" width="3" height="5.0" fill="#f4473b"/>
<line x1="660.5" y1="496.0" x2="660.5" y2="516.2" stroke="#2bcb8c" stroke-width="1"/>
<rect x="659.0" y="506.0" width="3" height="1.5" fill="#2bcb8c"/>
<line x1="663.5" y1="501.0" x2="663.5" y2="515.1" stroke="#f4473b" stroke-width="1"/>
<rect x="662.0" y="506.0" width="3" height="4.0" fill="#f4473b"/>
<line x1="667.5" y1="501.0" x2="667.5" y2="532.4" stroke="#f4473b" stroke-width="1"/>
<rect x="666.0" y="510.0" width="3" height="17.5" fill="#f4473b"/>
<line x1="670.5" y1="525.5" x2="670.5" y2="535.2" stroke="#2bcb8c" stroke-width="1"/>
<rect x="669.0" y="527.0" width="3" height="1.0" fill="#2bcb8c"/>
<line x1="673.5" y1="518.8" x2="673.5" y2="532.7" stroke="#2bcb8c" stroke-width="1"/>
<rect x="672.0" y="520.0" width="3" height="7.0" fill="#2bcb8c"/>
<line x1="677.5" y1="516.9" x2="677.5" y2="530.4" stroke="#f4473b" stroke-width="1"/>
<rect x="676.0" y="520.0" width="3" height="6.0" fill="#f4473b"/>
<line x1="680.5" y1="519.2" x2="680.5" y2="535.1" stroke="#2bcb8c" stroke-width="1"/>
<rect x="679.0" y="522.5" width="3" height="3.5" fill="#2bcb8c"/>
<line x1="683.5" y1="515.3" x2="683.5" y2="536.2" stroke="#f4473b" stroke-width="1"/>
<rect x="682.0" y="522.5" width="3" height="11.5" fill="#f4473b"/>
<line x1="687.5" y1="524.1" x2="687.5" y2="538.5" stroke="#f4473b" stroke-width="1"/>
<rect x="686.0" y="534.0" width="3" height="2.0" fill="#f4473b"/>
<line x1="690.5" y1="526.0" x2="690.5" y2="539.4" stroke="#2bcb8c" stroke-width="1"/>
<rect x="689.0" y="532.5" width="3" height="3.5" fill="#2bcb8c"/>
<line x1="693.5" y1="510.5" x2="693.5" y2="534.5" stroke="#2bcb8c" stroke-width="1"/>
<rect x="692.0" y="522.5" width="3" height="10.0" fill="#2bcb8c"/>
<line x1="697.5" y1="509.1" x2="697.5" y2="527.5" stroke="#2bcb8c" stroke-width="1"/>
<rect x="696.0" y="512.5" width="3" height="10.0" fill="#2bcb8c"/>
<line x1="700.5" y1="500.0" x2="700.5" y2="518.9" stroke="#f4473b" stroke-width="1"/>
<rect x="699.0" y="512.5" width="3" height="2.5" fill="#f4473b"/>
<line x1="703.5" y1="507.9" x2="703.5" y2="523.4" stroke="#f4473b" stroke-width="1"/>
<rect x="702.0" y="515.0" width="3" height="2.5" fill="#f4473b"/>
<line x1="707.5" y1="510.1" x2="707.5" y2="527.7" stroke="#2bcb8c" stroke-width="1"/>
<rect x="706.0" y="516.0" width="3" height="1.5" fill="#2bcb8c"/>
<line x1="710.5" y1="512.2" x2="710.5" y2="527.6" stroke="#f4473b" stroke-width="1"/>
<rect x="709.0" y="516.0" width="3" height="9.0" fill="#f4473b"/>
<line x1="713.5" y1="512.5" x2="713.5" y2="531.0" stroke="#f4473b" stroke-width="1"/>
<rect x="712.0" y="525.0" width="3" height="4.0" fill="#f4473b"/>
<line x1="717.5" y1="518.8" x2="717.5" y2="542.4" stroke="#f4473b" stroke-width="1"/>
<rect x="716.0" y="529.0" width="3" height="12.0" fill="#f4473b"/>
<line x1="720.5" y1="539.6" x2="720.5" y2="575.0" stroke="#f4473b" stroke-width="1"/>
<rect x="719.0" y="541.0" width="3" height="21.5" fill="#f4473b"/>
<line x1="723.5" y1="548.3" x2="723.5" y2="579.4" stroke="#f4473b" stroke-width="1"/>
<rect x="722.0" y="562.5" width="3" height="10.0" fill="#f4473b"/>
<line x1="727.5" y1="563.4" x2="727.5" y2="592.9" stroke="#f4473b" stroke-width="1"/>
<rect x="726.0" y="572.5" width="3" height="15.0" fill="#f4473b"/>
<line x1="730.5" y1="582.2" x2="730.5" y2="610.8" stroke="#f4473b" stroke-width="1"/>
<rect x="729.0" y="587.5" width="3" height="20.0" fill="#f4473b"/>
<line x1="733.5" y1="605.9" x2="733.5" y2="613.7" stroke="#f4473b" stroke-width="1"/>
<rect x="732.0" y="607.5" width="3" height="3.5" fill="#f4473b"/>
<line x1="737.5" y1="604.3" x2="737.5" y2="619.0" stroke="#f4473b" stroke-width="1"/>
<rect x="736.0" y="611.0" width="3" height="1.0" fill="#f4473b"/>
<line x1="740.5" y1="604.2" x2="740.5" y2="621.0" stroke="#f4473b" stroke-width="1"/>
<rect x="739.0" y="612.0" width="3" height="1.0" fill="#f4473b"/>
<line x1="743.5" y1="598.2" x2="743.5" y2="621.9" stroke="#2bcb8c" stroke-width="1"/>
<rect x="742.0" y="600.0" width="3" height="12.0" fill="#2bcb8c"/>
<line x1="747.5" y1="572.8" x2="747.5" y2="606.3" stroke="#2bcb8c" stroke-width="1"/>
<rect x="746.0" y="575.0" width="3" height="25.0" fill="#2bcb8c"/>
<line x1="750.5" y1="567.0" x2="750.5" y2="584.5" stroke="#f4473b" stroke-width="1"/>
<rect x="749.0" y="575.0" width="3" height="4.0" fill="#f4473b"/>
<line x1="753.5" y1="569.3" x2="753.5" y2="585.6" stroke="#2bcb8c" stroke-width="1"/>
<rect x="752.0" y="570.0" width="3" height="9.0" fill="#2bcb8c"/>
<line x1="757.5" y1="557.1" x2="757.5" y2="572.9" stroke="#2bcb8c" stroke-width="1"/>
<rect x="756.0" y="569.0" width="3" height="1.0" fill="#2bcb8c"/>
<line x1="760.5" y1="505.2" x2="760.5" y2="574.5" stroke="#2bcb8c" stroke-width="1"/>
<rect x="759.0" y="514.0" width="3" height="55.0" fill="#2bcb8c"/>
<line x1="763.5" y1="511.3" x2="763.5" y2="530.4" stroke="#f4473b" stroke-width="1"/>
<rect x="762.0" y="514.0" width="3" height="12.0" fill="#f4473b"/>
<line x1="767.5" y1="512.2" x2="767.5" y2="532.6" stroke="#2bcb8c" stroke-width="1"/>
<rect x="766.0" y="521.0" width="3" height="5.0" fill="#2bcb8c"/>
<line x1="770.5" y1="496.0" x2="770.5" y2="535.5" stroke="#2bcb8c" stroke-width="1"/>
<rect x="769.0" y="499.0" width="3" height="22.0" fill="#2bcb8c"/>
<line x1="773.5" y1="470.8" x2="773.5" y2="503.4" stroke="#2bcb8c" stroke-width="1"/>
<rect x="772.0" y="474.0" width="3" height="25.0" fill="#2bcb8c"/>
<line x1="777.5" y1="464.4" x2="777.5" y2="483.3" stroke="#2bcb8c" stroke-width="1"/>
<rect x="776.0" y="471.0" width="3" height="3.0" fill="#2bcb8c"/>
<line x1="780.5" y1="461.0" x2="780.5" y2="492.3" stroke="#f4473b" stroke-width="1"/>
<rect x="779.0" y="471.0" width="3" height="16.5" fill="#f4473b"/>
<line x1="783.5" y1="477.0" x2="783.5" y2="493.1" stroke="#2bcb8c" stroke-width="1"/>
<rect x="782.0" y="480.0" width="3" height="7.5" fill="#2bcb8c"/>
<line x1="787.5" y1="464.4" x2="787.5" y2="482.1" stroke="#2bcb8c" stroke-width="1"/>
<rect x="786.0" y="470.0" width="3" height="10.0" fill="#2bcb8c"/>
<line x1="790.5" y1="465.3" x2="790.5" y2="481.1" stroke="#2bcb8c" stroke-width="1"/>
<rect x="789.0" y="467.5" width="3" height="2.5" fill="#2bcb8c"/>
<line x1="793.5" y1="435.1" x2="793.5" y2="469.7" stroke="#2bcb8c" stroke-width="1"/>
<rect x="792.0" y="450.0" width="3" height="17.5" fill="#2bcb8c"/>
<line x1="797.5" y1="447.8" x2="797.5" y2="464.9" stroke="#f4473b" stroke-width="1"/>
<rect x="796.0" y="450.0" width="3" height="9.0" fill="#f4473b"/>
<line x1="800.5" y1="456.3" x2="800.5" y2="476.3" stroke="#f4473b" stroke-width="1"/>
<rect x="799.0" y="459.0" width="3" height="10.0" fill="#f4473b"/>
<line x1="803.5" y1="454.2" x2="803.5" y2="473.8" stroke="#2bcb8c" stroke-width="1"/>
<rect x="802.0" y="465.0" width="3" height="4.0" fill="#2bcb8c"/>
<line x1="807.5" y1="458.8" x2="807.5" y2="469.7" stroke="#f4473b" stroke-width="1"/>
<rect x="806.0" y="465.0" width="3" height="1.0" fill="#f4473b"/>
<line x1="810.5" y1="454.6" x2="810.5" y2="467.2" stroke="#2bcb8c" stroke-width="1"/>
<rect x="809.0" y="460.0" width="3" height="5.0" fill="#2bcb8c"/>
<line x1="813.5" y1="452.3" x2="813.5" y2="479.6" stroke="#f4473b" stroke-width="1"/>
<rect x="812.0" y="460.0" width="3" height="15.0" fill="#f4473b"/>
<line x1="817.5" y1="463.1" x2="817.5" y2="488.9" stroke="#f4473b" stroke-width="1"/>
<rect x="816.0" y="475.0" width="3" height="10.0" fill="#f4473b"/>
<line x1="820.5" y1="476.7" x2="820.5" y2="506.0" stroke="#f4473b" stroke-width="1"/>
<rect x="819.0" y="485.0" width="3" height="14.0" fill="#f4473b"/>
<line x1="823.5" y1="482.5" x2="823.5" y2="511.8" stroke="#2bcb8c" stroke-width="1"/>
<rect x="822.0" y="491.0" width="3" height="8.0" fill="#2bcb8c"/>
<line x1="827.5" y1="490.0" x2="827.5" y2="512.3" stroke="#f4473b" stroke-width="1"/>
<rect x="826.0" y="491.0" width="3" height="20.0" fill="#f4473b"/>
<line x1="830.5" y1="486.4" x2="830.5" y2="518.0" stroke="#2bcb8c" stroke-width="1"/>
<rect x="829.0" y="495.0" width="3" height="16.0" fill="#2bcb8c"/>
<line x1="833.5" y1="475.6" x2="833.5" y2="501.4" stroke="#2bcb8c" stroke-width="1"/>
<rect x="832.0" y="482.5" width="3" height="12.5" fill="#2bcb8c"/>
<line x1="837.5" y1="475.8" x2="837.5" y2="496.5" stroke="#f4473b" stroke-width="1"/>
<rect x="836.0" y="482.5" width="3" height="7.5" fill="#f4473b"/>
<line x1="840.5" y1="466.6" x2="840.5" y2="491.5" stroke="#2bcb8c" stroke-width="1"/>
<rect x="839.0" y="469.0" width="3" height="21.0" fill="#2bcb8c"/>
<line x1="843.5" y1="463.4" x2="843.5" y2="473.8" stroke="#2bcb8c" stroke-width="1"/>
<rect x="842.0" y="467.5" width="3" height="1.5" fill="#2bcb8c"/>
<line x1="847.5" y1="466.6" x2="847.5" y2="475.0" stroke="#f4473b" stroke-width="1"/>
<rect x="846.0" y="467.5" width="3" height="2.5" fill="#f4473b"/>
<line x1="850.5" y1="452.4" x2="850.5" y2="477.2" stroke="#2bcb8c" stroke-width="1"/>
<rect x="849.0" y="455.0" width="3" height="15.0" fill="#2bcb8c"/>
<line x1="853.5" y1="454.1" x2="853.5" y2="468.6" stroke="#f4473b" stroke-width="1"/>
<rect x="852.0" y="455.0" width="3" height="9.0" fill="#f4473b"/>
<line x1="857.5" y1="454.3" x2="857.5" y2="468.6" stroke="#2bcb8c" stroke-width="1"/>
<rect x="856.0" y="459.0" width="3" height="5.0" fill="#2bcb8c"/>
<line x1="860.5" y1="449.1" x2="860.5" y2="469.3" stroke="#2bcb8c" stroke-width="1"/>
<rect x="859.0" y="452.5" width="3" height="6.5" fill="#2bcb8c"/>
<line x1="863.5" y1="435.8" x2="863.5" y2="456.0" stroke="#2bcb8c" stroke-width="1"/>
<rect x="862.0" y="440.0" width="3" height="12.5" fill="#2bcb8c"/>
<line x1="867.5" y1="400.0" x2="867.5" y2="442.9" stroke="#2bcb8c" stroke-width="1"/>
<rect x="866.0" y="415.0" width="3" height="25.0" fill="#2bcb8c"/>
<line x1="870.5" y1="409.7" x2="870.5" y2="422.1" stroke="#f4473b" stroke-width="1"/>
<rect x="869.0" y="415.0" width="3" height="1.0" fill="#f4473b"/>
<line x1="873.5" y1="406.8" x2="873.5" y2="428.3" stroke="#f4473b" stroke-width="1"/>
<rect x="872.0" y="415.0" width="3" height="4.0" fill="#f4473b"/>
<line x1="876.5" y1="387.5" x2="876.5" y2="421.1" stroke="#2bcb8c" stroke-width="1"/>
<rect x="875.0" y="391.0" width="3" height="28.0" fill="#2bcb8c"/>
<line x1="880.5" y1="328.8" x2="880.5" y2="427.0" stroke="#f4473b" stroke-width="1"/>
<rect x="879.0" y="391.0" width="3" height="32.8" fill="#f4473b"/>
<line x1="883.5" y1="419.7" x2="883.5" y2="439.2" stroke="#f4473b" stroke-width="1"/>
<rect x="882.0" y="423.8" width="3" height="13.8" fill="#f4473b"/>
<line x1="886.5" y1="419.0" x2="886.5" y2="439.8" stroke="#2bcb8c" stroke-width="1"/>
<rect x="885.0" y="430.0" width="3" height="7.5" fill="#2bcb8c"/>
<line x1="890.5" y1="415.1" x2="890.5" y2="431.8" stroke="#2bcb8c" stroke-width="1"/>
<rect x="889.0" y="429.0" width="3" height="1.0" fill="#2bcb8c"/>
<line x1="893.5" y1="414.0" x2="893.5" y2="461.1" stroke="#f4473b" stroke-width="1"/>
<rect x="892.0" y="429.0" width="3" height="28.5" fill="#f4473b"/>
<line x1="896.5" y1="450.5" x2="896.5" y2="478.5" stroke="#f4473b" stroke-width="1"/>
<rect x="895.0" y="457.5" width="3" height="12.5" fill="#f4473b"/>
<line x1="900.5" y1="464.1" x2="900.5" y2="478.2" stroke="#f4473b" stroke-width="1"/>
<rect x="899.0" y="470.0" width="3" height="2.5" fill="#f4473b"/>
<line x1="903.5" y1="416.4" x2="903.5" y2="478.4" stroke="#2bcb8c" stroke-width="1"/>
<rect x="902.0" y="425.0" width="3" height="47.5" fill="#2bcb8c"/>
<line x1="906.5" y1="420.0" x2="906.5" y2="429.4" stroke="#2bcb8c" stroke-width="1"/>
<rect x="905.0" y="422.5" width="3" height="2.5" fill="#2bcb8c"/>
<line x1="910.5" y1="421.1" x2="910.5" y2="449.2" stroke="#f4473b" stroke-width="1"/>
<rect x="909.0" y="422.5" width="3" height="15.0" fill="#f4473b"/>
<line x1="913.5" y1="427.6" x2="913.5" y2="442.9" stroke="#2bcb8c" stroke-width="1"/>
<rect x="912.0" y="430.0" width="3" height="7.5" fill="#2bcb8c"/>
<line x1="916.5" y1="411.5" x2="916.5" y2="435.9" stroke="#2bcb8c" stroke-width="1"/>
<rect x="915.0" y="417.5" width="3" height="12.5" fill="#2bcb8c"/>
<line x1="920.5" y1="412.7" x2="920.5" y2="432.5" stroke="#f4473b" stroke-width="1"/>
<rect x="919.0" y="417.5" width="3" height="10.0" fill="#f4473b"/>
<line x1="923.5" y1="401.7" x2="923.5" y2="431.7" stroke="#2bcb8c" stroke-width="1"/>
<rect x="922.0" y="407.5" width="3" height="20.0" fill="#2bcb8c"/>
<line x1="926.5" y1="397.2" x2="926.5" y2="411.3" stroke="#2bcb8c" stroke-width="1"/>
<rect x="925.0" y="400.0" width="3" height="7.5" fill="#2bcb8c"/>
<line x1="930.5" y1="385.3" x2="930.5" y2="403.5" stroke="#2bcb8c" stroke-width="1"/>
<rect x="929.0" y="395.0" width="3" height="5.0" fill="#2bcb8c"/>
<line x1="933.5" y1="380.4" x2="933.5" y2="397.1" stroke="#2bcb8c" stroke-width="1"/>
<rect x="932.0" y="384.0" width="3" height="11.0" fill="#2bcb8c"/>
<line x1="936.5" y1="382.1" x2="936.5" y2="398.8" stroke="#f4473b" stroke-width="1"/>
<rect x="935.0" y="384.0" width="3" height="11.0" fill="#f4473b"/>
<line x1="940.5" y1="390.4" x2="940.5" y2="409.5" stroke="#f4473b" stroke-width="1"/>
<rect x="939.0" y="395.0" width="3" height="5.0" fill="#f4473b"/>
<line x1="943.5" y1="396.2" x2="943.5" y2="406.8" stroke="#f4473b" stroke-width="1"/>
<rect x="942.0" y="400.0" width="3" height="2.5" fill="#f4473b"/>
<line x1="946.5" y1="395.8" x2="946.5" y2="432.5" stroke="#f4473b" stroke-width="1"/>
<rect x="945.0" y="402.5" width="3" height="15.0" fill="#f4473b"/>
<line x1="950.5" y1="403.9" x2="950.5" y2="427.8" stroke="#2bcb8c" stroke-width="1"/>
<rect x="949.0" y="414.0" width="3" height="3.5" fill="#2bcb8c"/>
<line x1="953.5" y1="402.4" x2="953.5" y2="420.5" stroke="#f4473b" stroke-width="1"/>
<rect x="952.0" y="414.0" width="3" height="1.0" fill="#f4473b"/>
<line x1="956.5" y1="401.1" x2="956.5" y2="432.3" stroke="#f4473b" stroke-width="1"/>
<rect x="955.0" y="414.0" width="3" height="17.0" fill="#f4473b"/>
<line x1="960.5" y1="420.5" x2="960.5" y2="437.5" stroke="#2bcb8c" stroke-width="1"/>
<rect x="959.0" y="426.0" width="3" height="5.0" fill="#2bcb8c"/>
<line x1="963.5" y1="420.2" x2="963.5" y2="443.3" stroke="#f4473b" stroke-width="1"/>
<rect x="962.0" y="426.0" width="3" height="6.5" fill="#f4473b"/>
<line x1="966.5" y1="420.5" x2="966.5" y2="436.6" stroke="#2bcb8c" stroke-width="1"/>
<rect x="965.0" y="422.5" width="3" height="10.0" fill="#2bcb8c"/>
<line x1="970.5" y1="410.2" x2="970.5" y2="431.4" stroke="#2bcb8c" stroke-width="1"/>
<rect x="969.0" y="411.0" width="3" height="11.5" fill="#2bcb8c"/>
<line x1="973.5" y1="394.6" x2="973.5" y2="416.9" stroke="#2bcb8c" stroke-width="1"/>
<rect x="972.0" y="406.0" width="3" height="5.0" fill="#2bcb8c"/>
<line x1="976.5" y1="403.4" x2="976.5" y2="435.1" stroke="#f4473b" stroke-width="1"/>
<rect x="975.0" y="406.0" width="3" height="24.0" fill="#f4473b"/>
<line x1="980.5" y1="422.3" x2="980.5" y2="455.5" stroke="#f4473b" stroke-width="1"/>
<rect x="979.0" y="430.0" width="3" height="15.0" fill="#f4473b"/>
<line x1="983.5" y1="422.5" x2="983.5" y2="450.1" stroke="#2bcb8c" stroke-width="1"/>
<rect x="982.0" y="432.5" width="3" height="12.5" fill="#2bcb8c"/>
<line x1="986.5" y1="421.6" x2="986.5" y2="441.2" stroke="#2bcb8c" stroke-width="1"/>
<rect x="985.0" y="427.5" width="3" height="5.0" fill="#2bcb8c"/>
<line x1="990.5" y1="420.6" x2="990.5" y2="438.4" stroke="#f4473b" stroke-width="1"/>
<rect x="989.0" y="427.5" width="3" height="7.5" fill="#f4473b"/>
<line x1="993.5" y1="422.2" x2="993.5" y2="441.0" stroke="#2bcb8c" stroke-width="1"/>
<rect x="992.0" y="427.5" width="3" height="7.5" fill="#2bcb8c"/>
<line x1="996.5" y1="414.3" x2="996.5" y2="446.9" stroke="#f4473b" stroke-width="1"/>
<rect x="995.0" y="427.5" width="3" height="12.5" fill="#f4473b"/>
<line x1="1000.5" y1="432.5" x2="1000.5" y2="440.7" stroke="#2bcb8c" stroke-width="1"/>
<rect x="999.0" y="435.0" width="3" height="5.0" fill="#2bcb8c"/>
<line x1="1003.5" y1="429.8" x2="1003.5" y2="447.8" stroke="#f4473b" stroke-width="1"/>
<rect x="1002.0" y="435.0" width="3" height="2.5" fill="#f4473b"/>
<line x1="1006.5" y1="426.0" x2="1006.5" y2="442.2" stroke="#2bcb8c" stroke-width="1"/>
<rect x="1005.0" y="427.5" width="3" height="10.0" fill="#2bcb8c"/>
<line x1="1010.5" y1="419.1" x2="1010.5" y2="429.1" stroke="#2bcb8c" stroke-width="1"/>
<rect x="1009.0" y="420.0" width="3" height="7.5" fill="#2bcb8c"/>
<line x1="1013.5" y1="411.3" x2="1013.5" y2="424.4" stroke="#2bcb8c" stroke-width="1"/>
<rect x="1012.0" y="415.0" width="3" height="5.0" fill="#2bcb8c"/>
<line x1="1016.5" y1="399.5" x2="1016.5" y2="423.8" stroke="#2bcb8c" stroke-width="1"/>
<rect x="1015.0" y="405.0" width="3" height="10.0" fill="#2bcb8c"/>
<line x1="1020.5" y1="402.9" x2="1020.5" y2="423.5" stroke="#f4473b" stroke-width="1"/>
<rect x="1019.0" y="405.0" width="3" height="15.0" fill="#f4473b"/>
<line x1="1023.5" y1="409.5" x2="1023.5" y2="428.3" stroke="#f4473b" stroke-width="1"/>
<rect x="1022.0" y="420.0" width="3" height="5.0" fill="#f4473b"/>
<line x1="1026.5" y1="419.5" x2="1026.5" y2="429.5" stroke="#2bcb8c" stroke-width="1"/>
<rect x="1025.0" y="422.5" width="3" height="2.5" fill="#2bcb8c"/>
<line x1="1030.5" y1="415.5" x2="1030.5" y2="432.6" stroke="#2bcb8c" stroke-width="1"/>
<rect x="1029.0" y="421.0" width="3" height="1.5" fill="#2bcb8c"/>
<line x1="1033.5" y1="412.2" x2="1033.5" y2="428.1" stroke="#f4473b" stroke-width="1"/>
<rect x="1032.0" y="421.0" width="3" height="5.0" fill="#f4473b"/>
<line x1="1036.5" y1="422.7" x2="1036.5" y2="440.1" stroke="#f4473b" stroke-width="1"/>
<rect x="1035.0" y="426.0" width="3" height="9.0" fill="#f4473b"/>
<line x1="1040.5" y1="432.9" x2="1040.5" y2="444.1" stroke="#f4473b" stroke-width="1"/>
<rect x="1039.0" y="435.0" width="3" height="2.5" fill="#f4473b"/>
<line x1="1043.5" y1="433.7" x2="1043.5" y2="468.7" stroke="#f4473b" stroke-width="1"/>
<rect x="1042.0" y="437.5" width="3" height="25.0" fill="#f4473b"/>
<line x1="1046.5" y1="454.2" x2="1046.5" y2="465.3" stroke="#2bcb8c" stroke-width="1"/>
<rect x="1045.0" y="460.0" width="3" height="2.5" fill="#2bcb8c"/>
<line x1="1050.5" y1="440.4" x2="1050.5" y2="468.9" stroke="#2bcb8c" stroke-width="1"/>
<rect x="1049.0" y="447.5" width="3" height="12.5" fill="#2bcb8c"/>
<line x1="1053.5" y1="436.5" x2="1053.5" y2="453.8" stroke="#2bcb8c" stroke-width="1"/>
<rect x="1052.0" y="442.5" width="3" height="5.0" fill="#2bcb8c"/>
<line x1="1056.5" y1="428.8" x2="1056.5" y2="444.5" stroke="#2bcb8c" stroke-width="1"/>
<rect x="1055.0" y="435.0" width="3" height="7.5" fill="#2bcb8c"/>
<line x1="1060.5" y1="430.5" x2="1060.5" y2="441.5" stroke="#2bcb8c" stroke-width="1"/>
<rect x="1059.0" y="432.5" width="3" height="2.5" fill="#2bcb8c"/>
<line x1="1063.5" y1="419.5" x2="1063.5" y2="437.8" stroke="#2bcb8c" stroke-width="1"/>
<rect x="1062.0" y="430.0" width="3" height="2.5" fill="#2bcb8c"/>
<line x1="1066.5" y1="425.2" x2="1066.5" y2="439.4" stroke="#f4473b" stroke-width="1"/>
<rect x="1065.0" y="430.0" width="3" height="2.5" fill="#f4473b"/>
<line x1="1070.5" y1="417.9" x2="1070.5" y2="439.4" stroke="#2bcb8c" stroke-width="1"/>
<rect x="1069.0" y="422.5" width="3" height="10.0" fill="#2bcb8c"/>
<line x1="1073.5" y1="416.3" x2="1073.5" y2="429.8" stroke="#f4473b" stroke-width="1"/>
<rect x="1072.0" y="422.5" width="3" height="5.0" fill="#f4473b"/>
<line x1="1076.5" y1="414.6" x2="1076.5" y2="434.7" stroke="#f4473b" stroke-width="1"/>
<rect x="1075.0" y="427.5" width="3" height="1.5" fill="#f4473b"/>
<line x1="1080.5" y1="416.0" x2="1080.5" y2="437.8" stroke="#2bcb8c" stroke-width="1"/>
<rect x="1079.0" y="422.5" width="3" height="6.5" fill="#2bcb8c"/>
<line x1="1083.5" y1="407.4" x2="1083.5" y2="435.8" stroke="#2bcb8c" stroke-width="1"/>
<rect x="1082.0" y="415.0" width="3" height="7.5" fill="#2bcb8c"/>
<line x1="1086.5" y1="373.6" x2="1086.5" y2="425.7" stroke="#2bcb8c" stroke-width="1"/>
<rect x="1085.0" y="382.5" width="3" height="32.5" fill="#2bcb8c"/>
<line x1="1090.5" y1="343.2" x2="1090.5" y2="387.0" stroke="#2bcb8c" stroke-width="1"/>
<rect x="1089.0" y="350.0" width="3" height="32.5" fill="#2bcb8c"/>
<line x1="1093.5" y1="336.9" x2="1093.5" y2="357.8" stroke="#2bcb8c" stroke-width="1"/>
<rect x="1092.0" y="341.0" width="3" height="9.0" fill="#2bcb8c"/>
<line x1="1096.5" y1="319.6" x2="1096.5" y2="349.4" stroke="#2bcb8c" stroke-width="1"/>
<rect x="1095.0" y="321.0" width="3" height="20.0" fill="#2bcb8c"/>
<line x1="1100.5" y1="309.7" x2="1100.5" y2="321.7" stroke="#2bcb8c" stroke-width="1"/>
<rect x="1099.0" y="312.5" width="3" height="8.5" fill="#2bcb8c"/>
<line x1="1103.5" y1="287.7" x2="1103.5" y2="321.1" stroke="#2bcb8c" stroke-width="1"/>
<rect x="1102.0" y="295.0" width="3" height="17.5" fill="#2bcb8c"/>
<line x1="1106.5" y1="281.0" x2="1106.5" y2="302.8" stroke="#2bcb8c" stroke-width="1"/>
<rect x="1105.0" y="291.0" width="3" height="4.0" fill="#2bcb8c"/>
<line x1="1110.5" y1="278.8" x2="1110.5" y2="324.3" stroke="#f4473b" stroke-width="1"/>
<rect x="1109.0" y="291.0" width="3" height="26.5" fill="#f4473b"/>
<line x1="1113.5" y1="301.0" x2="1113.5" y2="318.8" stroke="#2bcb8c" stroke-width="1"/>
<rect x="1112.0" y="315.0" width="3" height="2.5" fill="#2bcb8c"/>
<line x1="1116.5" y1="298.8" x2="1116.5" y2="325.8" stroke="#2bcb8c" stroke-width="1"/>
<rect x="1115.0" y="300.0" width="3" height="15.0" fill="#2bcb8c"/>
<line x1="1120.5" y1="290.3" x2="1120.5" y2="322.3" stroke="#f4473b" stroke-width="1"/>
<rect x="1119.0" y="300.0" width="3" height="17.5" fill="#f4473b"/>
<line x1="1123.5" y1="308.8" x2="1123.5" y2="323.0" stroke="#2bcb8c" stroke-width="1"/>
<rect x="1122.0" y="310.0" width="3" height="7.5" fill="#2bcb8c"/>
<line x1="1126.5" y1="306.7" x2="1126.5" y2="323.3" stroke="#f4473b" stroke-width="1"/>
<rect x="1125.0" y="310.0" width="3" height="12.5" fill="#f4473b"/>
<line x1="1130.5" y1="258.0" x2="1130.5" y2="325.7" stroke="#2bcb8c" stroke-width="1"/>
<rect x="1129.0" y="274.0" width="3" height="48.5" fill="#2bcb8c"/>
<line x1="1133.5" y1="266.1" x2="1133.5" y2="317.2" stroke="#f4473b" stroke-width="1"/>
<rect x="1132.0" y="274.0" width="3" height="35.0" fill="#f4473b"/>
<line x1="1136.5" y1="307.7" x2="1136.5" y2="320.5" stroke="#f4473b" stroke-width="1"/>
<rect x="1135.0" y="309.0" width="3" height="4.0" fill="#f4473b"/>
<line x1="1140.5" y1="290.1" x2="1140.5" y2="317.1" stroke="#2bcb8c" stroke-width="1"/>
<rect x="1139.0" y="296.0" width="3" height="17.0" fill="#2bcb8c"/>
<line x1="1143.5" y1="281.5" x2="1143.5" y2="301.9" stroke="#2bcb8c" stroke-width="1"/>
<rect x="1142.0" y="287.6" width="3" height="8.4" fill="#2bcb8c"/>
<line x1="1146.5" y1="284.4" x2="1146.5" y2="301.5" stroke="#2bcb8c" stroke-width="1"/>
<rect x="1145.0" y="285.0" width="3" height="2.6" fill="#2bcb8c"/>
<line x1="1150.5" y1="248.1" x2="1150.5" y2="293.2" stroke="#2bcb8c" stroke-width="1"/>
<rect x="1149.0" y="249.7" width="3" height="35.3" fill="#2bcb8c"/>
<line x1="1153.5" y1="233.2" x2="1153.5" y2="257.6" stroke="#2bcb8c" stroke-width="1"/>
<rect x="1152.0" y="236.0" width="3" height="13.7" fill="#2bcb8c"/>
<line x1="1156.5" y1="199.2" x2="1156.5" y2="238.4" stroke="#2bcb8c" stroke-width="1"/>
<rect x="1155.0" y="209.0" width="3" height="27.0" fill="#2bcb8c"/>
<line x1="1160.5" y1="186.0" x2="1160.5" y2="220.0" stroke="#2bcb8c" stroke-width="1"/>
<rect x="1159.0" y="191.9" width="3" height="16.4" fill="#2bcb8c"/>
<line x1="1163.5" y1="185.0" x2="1163.5" y2="207.0" stroke="#f4473b" stroke-width="1"/>
<rect x="1162.0" y="191.9" width="3" height="8.6" fill="#f4473b"/>
<line x1="1166.5" y1="163.0" x2="1166.5" y2="208.0" stroke="#2bcb8c" stroke-width="1"/>
<rect x="1165.0" y="163.8" width="3" height="36.8" fill="#2bcb8c"/>
<line x1="1170.5" y1="141.9" x2="1170.5" y2="186.4" stroke="#2bcb8c" stroke-width="1"/>
<rect x="1169.0" y="156.0" width="3" height="14.8" fill="#2bcb8c"/>
<line x1="1173.5" y1="131.0" x2="1173.5" y2="160.0" stroke="#2bcb8c" stroke-width="1"/>
<rect x="1172.0" y="141.9" width="3" height="14.8" fill="#2bcb8c"/>
<line x1="1176.5" y1="137.0" x2="1176.5" y2="172.3" stroke="#f4473b" stroke-width="1"/>
<rect x="1175.0" y="141.9" width="3" height="17.9" fill="#f4473b"/>
<line x1="1180.5" y1="120.0" x2="1180.5" y2="166.9" stroke="#2bcb8c" stroke-width="1"/>
<rect x="1179.0" y="121.6" width="3" height="38.2" fill="#2bcb8c"/>
<line x1="1183.5" y1="73.9" x2="1183.5" y2="159.8" stroke="#f4473b" stroke-width="1"/>
<rect x="1182.0" y="121.6" width="3" height="29.7" fill="#f4473b"/>
<line x1="1186.5" y1="109.0" x2="1186.5" y2="168.4" stroke="#2bcb8c" stroke-width="1"/>
<rect x="1185.0" y="118.4" width="3" height="17.2" fill="#2bcb8c"/>
<line x1="1190.5" y1="102.8" x2="1190.5" y2="134.0" stroke="#2bcb8c" stroke-width="1"/>
<rect x="1189.0" y="116.9" width="3" height="1.0" fill="#2bcb8c"/>
<line x1="1193.5" y1="106.0" x2="1193.5" y2="141.9" stroke="#f4473b" stroke-width="1"/>
<rect x="1192.0" y="116.9" width="3" height="14.1" fill="#f4473b"/>
<line x1="1196.5" y1="107.5" x2="1196.5" y2="132.5" stroke="#2bcb8c" stroke-width="1"/>
<rect x="1195.0" y="119.2" width="3" height="11.8" fill="#2bcb8c"/>
<line x1="1200.5" y1="85.6" x2="1200.5" y2="124.7" stroke="#2bcb8c" stroke-width="1"/>
<rect x="1199.0" y="118.4" width="3" height="1.6" fill="#2bcb8c"/>
<line x1="221" y1="627.6" x2="1193.7" y2="324.6" stroke="#4a86e0" stroke-width="1.3" stroke-dasharray="6 5"/>
<path d="M111.8 645.6 C114.9 641.4 124.9 627.6 130.5 620.2 C136.1 612.9 140.6 606.2 145.6 601.5 C150.6 596.8 155.0 595.4 160.6 592.0 C166.2 588.6 173.8 583.7 179.4 581.0 C185.0 578.3 187.5 577.5 194.4 576.0 C201.3 574.5 212.6 573.5 220.7 572.3 C228.8 571.1 235.3 570.9 243.2 568.6 C251.1 566.3 261.9 561.0 268.0 558.3 C274.1 555.6 274.7 554.3 280.0 552.5 C285.3 550.7 293.3 549.6 300.0 547.5 C306.7 545.4 313.3 543.5 320.0 540.0 C326.7 536.5 334.2 530.0 340.0 526.2 C345.8 522.5 350.0 521.2 355.0 517.5 C360.0 513.8 366.4 507.9 369.8 503.8 C373.1 499.6 371.2 497.1 375.0 492.5 C378.8 487.9 386.7 481.0 392.5 476.2 C398.3 471.5 404.6 466.5 410.0 463.8 C415.4 461.0 420.0 460.4 425.0 460.0 C430.0 459.6 434.2 460.8 440.0 461.2 C445.8 461.7 453.8 461.5 460.0 462.5 C466.2 463.5 471.7 465.4 477.5 467.5 C483.3 469.6 489.6 472.5 495.0 475.0 C500.4 477.5 505.9 480.8 510.0 482.5 C514.1 484.2 516.4 484.2 519.8 485.0 C523.1 485.8 525.4 485.6 530.0 487.5 C534.6 489.4 541.7 494.2 547.5 496.2 C553.3 498.3 558.8 499.2 565.0 500.0 C571.2 500.8 578.3 500.4 585.0 501.2 C591.7 502.1 598.3 503.5 605.0 505.0 C611.7 506.5 619.2 508.5 625.0 510.0 C630.8 511.5 635.0 512.9 640.0 513.8 C645.0 514.6 649.2 515.0 655.0 515.0 C660.8 515.0 668.1 514.0 674.8 513.8 C681.4 513.5 687.5 512.9 695.0 513.8 C702.5 514.6 711.7 515.0 720.0 518.8 C728.3 522.5 737.9 532.5 745.0 536.2 C752.1 540.0 756.7 540.8 762.5 541.2 C768.3 541.7 774.6 540.4 780.0 538.8 C785.4 537.1 789.6 534.0 795.0 531.2 C800.4 528.5 806.7 524.4 812.5 522.5 C818.3 520.6 825.2 520.4 829.8 520.0 C834.3 519.6 834.5 521.7 840.0 520.0 C845.5 518.3 854.6 514.2 862.5 510.0 C870.4 505.8 880.0 500.8 887.5 495.0 C895.0 489.2 901.2 481.0 907.5 475.0 C913.8 469.0 919.2 463.5 925.0 458.8 C930.8 454.0 935.8 449.4 942.5 446.2 C949.2 443.1 958.0 441.5 965.0 440.0 C972.0 438.5 978.1 439.6 984.8 437.5 C991.4 435.4 997.5 430.0 1005.0 427.5 C1012.5 425.0 1021.7 422.7 1030.0 422.5 C1038.3 422.3 1046.7 425.4 1055.0 426.2 C1063.3 427.1 1073.8 428.1 1080.0 427.5 C1086.2 426.9 1087.5 425.0 1092.5 422.5 C1097.5 420.0 1103.8 416.2 1110.0 412.5 C1116.2 408.8 1125.0 403.6 1130.0 400.0 C1135.0 396.4 1134.8 396.8 1139.8 391.0 C1144.8 385.2 1153.4 375.0 1160.0 365.0 C1166.6 355.0 1172.8 341.7 1179.6 331.0 C1186.3 320.3 1197.0 306.0 1200.5 301.0" fill="none" stroke="#a01c22" stroke-width="1.15" stroke-linejoin="round" />
<path d="M111.8 599.6 C114.3 595.8 121.5 585.1 126.8 577.0 C132.1 568.9 138.2 557.4 143.7 550.8 C149.2 544.2 154.6 538.2 159.6 537.6 C164.6 537.0 168.8 543.5 173.7 547.0 C178.6 550.5 183.8 554.1 188.8 558.3 C193.8 562.5 198.5 567.3 203.8 572.3 C209.1 577.3 215.4 585.3 220.7 588.3 C226.0 591.3 231.9 589.2 235.7 590.2 C239.4 591.2 240.1 595.6 243.2 594.0 C246.3 592.4 250.4 587.1 254.5 580.8 C258.6 574.5 262.9 565.1 267.6 556.4 C272.3 547.7 277.5 536.1 282.5 528.8 C287.5 521.4 292.5 519.0 297.5 512.5 C302.5 506.0 307.9 496.5 312.5 490.0 C317.1 483.5 320.0 477.7 325.0 473.8 C330.0 469.8 336.7 467.7 342.5 466.2 C348.3 464.8 354.2 467.3 360.0 465.0 C365.8 462.7 372.9 455.6 377.5 452.5 C382.1 449.4 384.2 447.3 387.5 446.2 C390.8 445.2 393.8 444.4 397.5 446.2 C401.2 448.1 405.4 454.0 410.0 457.5 C414.6 461.0 420.8 464.6 425.0 467.5 C429.2 470.4 430.0 472.9 435.0 475.0 C440.0 477.1 448.8 478.1 455.0 480.0 C461.2 481.9 467.5 484.2 472.5 486.2 C477.5 488.3 480.4 489.4 485.0 492.5 C489.6 495.6 495.8 501.9 500.0 505.0 C504.2 508.1 506.7 510.0 510.0 511.2 C513.3 512.5 516.4 511.7 519.8 512.5 C523.1 513.3 525.4 517.5 530.0 516.2 C534.6 515.0 541.7 508.1 547.5 505.0 C553.3 501.9 559.6 499.2 565.0 497.5 C570.4 495.8 575.0 494.8 580.0 495.0 C585.0 495.2 590.0 497.1 595.0 498.8 C600.0 500.4 605.4 501.9 610.0 505.0 C614.6 508.1 618.3 514.2 622.5 517.5 C626.7 520.8 630.4 523.8 635.0 525.0 C639.6 526.2 645.0 526.0 650.0 525.0 C655.0 524.0 660.9 519.4 665.0 518.8 C669.1 518.1 670.2 520.4 674.8 521.2 C679.3 522.1 687.0 523.8 692.5 523.8 C698.0 523.8 702.9 520.2 707.5 521.2 C712.1 522.3 715.8 526.0 720.0 530.0 C724.2 534.0 728.3 539.4 732.5 545.0 C736.7 550.6 740.8 560.4 745.0 563.8 C749.2 567.1 753.3 567.3 757.5 565.0 C761.7 562.7 765.8 556.2 770.0 550.0 C774.2 543.8 778.3 534.2 782.5 527.5 C786.7 520.8 790.4 515.4 795.0 510.0 C799.6 504.6 805.8 498.3 810.0 495.0 C814.2 491.7 816.7 490.6 820.0 490.0 C823.3 489.4 826.4 491.2 829.8 491.2 C833.1 491.2 835.4 492.3 840.0 490.0 C844.6 487.7 851.7 482.9 857.5 477.5 C863.3 472.1 869.6 462.5 875.0 457.5 C880.4 452.5 885.8 448.8 890.0 447.5 C894.2 446.2 896.2 450.8 900.0 450.0 C903.8 449.2 908.3 445.4 912.5 442.5 C916.7 439.6 920.8 435.8 925.0 432.5 C929.2 429.2 933.3 424.8 937.5 422.5 C941.7 420.2 945.4 419.0 950.0 418.8 C954.6 418.5 960.8 421.0 965.0 421.2 C969.2 421.5 971.7 419.4 975.0 420.0 C978.3 420.6 981.4 424.0 984.8 425.0 C988.1 426.0 990.8 425.8 995.0 426.2 C999.2 426.7 1005.8 427.7 1010.0 427.5 C1014.2 427.3 1015.8 425.2 1020.0 425.0 C1024.2 424.8 1030.0 424.8 1035.0 426.2 C1040.0 427.7 1045.4 432.3 1050.0 433.8 C1054.6 435.2 1057.5 435.4 1062.5 435.0 C1067.5 434.6 1075.4 434.6 1080.0 431.2 C1084.6 427.9 1086.7 421.5 1090.0 415.0 C1093.3 408.5 1096.7 399.7 1100.0 392.5 C1103.3 385.3 1105.8 378.6 1110.0 372.0 C1114.2 365.4 1120.8 359.0 1125.0 353.0 C1129.2 347.0 1130.9 341.8 1135.0 336.0 C1139.1 330.2 1145.6 325.5 1149.8 318.0 C1154.0 310.5 1155.9 302.4 1160.0 291.0 C1164.1 279.6 1169.1 263.8 1174.2 249.7 C1179.3 235.6 1186.1 217.1 1190.5 206.3 C1194.9 195.5 1198.8 188.3 1200.5 184.7" fill="none" stroke="#aa2ad0" stroke-width="1.15" stroke-linejoin="round" />
<line x1="823" y1="520" x2="1012.5" y2="416" stroke="#f59a1b" stroke-width="2.2" stroke-linecap="round"/>
<line x1="1046.3" y1="470" x2="1190" y2="303" stroke="#f59a1b" stroke-width="2.2" stroke-linecap="round"/>
<line x1="1103" y1="281" x2="1179.6" y2="122" stroke="#f59a1b" stroke-width="2.2" stroke-linecap="round"/>
<line x1="111" y1="79.5" x2="1219" y2="79.5" stroke="#8d9aaa" stroke-width="1.2" stroke-dasharray="5 5"/>
<line x1="111" y1="118.5" x2="1219" y2="118.5" stroke="#e066a6" stroke-width="1.2" stroke-dasharray="3 3"/>
<line x1="111" y1="636.4" x2="1219" y2="636.4" stroke="#7fcbdc" stroke-width="1.5"/>
<path d="M743.4 661 L743.4 636.5 M729.5 645.5 L743.4 635.5 L757.5 645.5" fill="none" stroke="#e06767" stroke-width="9" stroke-linecap="round" stroke-linejoin="round"/>
<rect x="1182" y="70" width="14" height="14" fill="#5a6170" opacity="0.55"/>
<rect x="1199" y="70" width="14" height="14" fill="#5a6170" opacity="0.55"/>
<path d="M1189 73 V81 M1186.5 78.5 L1189 81 L1191.5 78.5" stroke="#2a3040" stroke-width="1.4" fill="none"/>
<path d="M1206 72.5 V82 M1203.5 75 L1206 72.5 L1208.5 75 M1203.5 79.5 L1206 82 L1208.5 79.5" stroke="#2a3040" stroke-width="1.4" fill="none"/>
</g>
<g clip-path="url(#cr)">
<rect x="111" y="713.0" width="1108" height="68.8" fill="#30263f"/>
<line x1="111" y1="695.5" x2="1219" y2="695.5" stroke="#30354a" stroke-width="1"/>
<line x1="111" y1="730.5" x2="1219" y2="730.5" stroke="#30354a" stroke-width="1"/>
<line x1="111" y1="764.5" x2="1219" y2="764.5" stroke="#30354a" stroke-width="1"/>
<line x1="111" y1="799.5" x2="1219" y2="799.5" stroke="#30354a" stroke-width="1"/>
<line x1="225.5" y1="681" x2="225.5" y2="807" stroke="#30354a" stroke-width="1"/>
<line x1="301.5" y1="681" x2="301.5" y2="807" stroke="#30354a" stroke-width="1"/>
<line x1="441.5" y1="681" x2="441.5" y2="807" stroke="#30354a" stroke-width="1"/>
<line x1="584.5" y1="681" x2="584.5" y2="807" stroke="#30354a" stroke-width="1"/>
<line x1="661.5" y1="681" x2="661.5" y2="807" stroke="#30354a" stroke-width="1"/>
<line x1="804.5" y1="681" x2="804.5" y2="807" stroke="#30354a" stroke-width="1"/>
<line x1="944.5" y1="681" x2="944.5" y2="807" stroke="#30354a" stroke-width="1"/>
<line x1="1087.5" y1="681" x2="1087.5" y2="807" stroke="#30354a" stroke-width="1"/>
<line x1="1164.5" y1="681" x2="1164.5" y2="807" stroke="#30354a" stroke-width="1"/>
<line x1="111" y1="713.0" x2="1219" y2="713.0" stroke="#a3a3ad" stroke-width="1.1" stroke-dasharray="6 5"/>
<line x1="111" y1="781.8" x2="1219" y2="781.8" stroke="#a3a3ad" stroke-width="1.1" stroke-dasharray="6 5"/>
<path d="M111.8 707.6 L115.0 704.3 L118.0 706.4 L120.5 711.4 L124.3 713.9 L127.6 706.4 L131.1 710.1 L135.6 708.9 L140.1 704.3 L144.4 716.9 L150.7 724.4 L154.4 722.7 L157.4 712.6 L164.5 757.1 L173.3 753.3 L178.3 757.8 L180.8 756.6 L185.8 761.6 L190.8 769.1 L194.6 769.1 L198.4 764.1 L203.4 766.6 L207.1 772.1 L210.9 774.1 L214.7 778.4 L219.7 766.6 L224.7 757.3 L227.2 755.8 L230.5 744.0 L233.5 749.0 L237.3 766.6 L240.3 765.3 L244.8 754.0 L250.3 720.2 L254.8 725.2 L258.1 719.4 L261.1 718.9 L264.9 703.8 L266.9 708.9 L270.6 725.9 L277.4 715.9 L283.7 729.4 L288.2 725.2 L291.2 729.0 L295.0 725.2 L298.8 729.4 L305.0 715.1 L308.8 716.9 L314.3 729.4 L324.4 716.9 L328.4 734.0 L331.4 737.2 L335.2 732.7 L337.7 738.2 L340.2 734.5 L345.2 744.0 L350.2 737.7 L357.7 742.8 L364.0 746.5 L370.8 721.4 L374.1 722.7 L377.8 738.2 L384.1 731.5 L387.1 734.0 L391.6 741.5 L397.9 741.5 L401.7 752.8 L404.2 755.3 L408.0 765.3 L410.5 755.3 L416.7 755.3 L420.0 759.8 L424.5 768.4 L427.5 765.3 L430.5 767.3 L433.8 756.6 L437.1 753.3 L440.1 747.8 L443.8 760.3 L447.6 753.5 L450.6 752.8 L453.9 760.3 L457.6 750.8 L463.2 752.8 L468.2 759.6 L470.7 759.1 L474.0 751.5 L479.0 752.8 L482.8 761.6 L486.5 762.8 L490.3 772.4 L494.0 766.6 L497.3 766.6 L504.1 772.4 L507.9 772.4 L510.9 763.3 L514.1 761.6 L517.9 757.8 L522.9 766.1 L527.9 754.5 L530.4 755.3 L533.0 750.3 L537.5 731.5 L540.5 730.2 L543.7 734.0 L547.5 734.0 L550.5 721.4 L553.5 721.4 L557.5 726.4 L563.1 742.2 L570.6 730.7 L573.6 749.0 L580.1 739.7 L587.7 757.3 L590.7 757.3 L593.7 752.8 L598.2 757.8 L603.2 767.3 L607.0 770.4 L610.8 768.4 L613.3 772.4 L618.3 776.6 L622.1 780.4 L627.1 781.2 L633.4 769.9 L637.1 750.8 L643.4 753.3 L647.2 747.3 L650.4 734.0 L653.4 729.4 L657.2 733.2 L661.0 733.5 L663.5 736.5 L671.0 755.3 L674.0 752.8 L677.3 753.5 L680.3 750.8 L683.6 759.1 L687.3 762.3 L690.6 761.1 L693.6 744.0 L697.4 736.5 L703.6 741.5 L707.4 749.0 L710.7 745.8 L714.9 759.1 L720.7 781.7 L726.2 793.0 L731.2 799.2 L736.8 799.2 L740.0 800.5 L743.8 785.4 L747.6 760.3 L750.6 760.8 L753.8 750.8 L757.1 752.8 L760.1 722.7 L763.1 730.2 L767.1 727.7 L773.2 711.4 L777.2 710.6 L780.7 716.4 L783.9 716.4 L787.7 713.1 L790.7 712.1 L793.5 706.4 L796.5 712.6 L800.3 722.2 L804.0 721.4 L807.8 722.7 L810.3 718.2 L814.1 730.2 L817.8 735.7 L820.3 746.5 L823.4 742.2 L827.4 754.0 L834.1 740.2 L836.7 741.5 L840.4 731.5 L846.7 732.2 L850.5 723.2 L854.2 730.2 L858.0 728.2 L863.0 720.2 L867.5 708.4 L870.5 708.4 L874.3 711.9 L877.6 702.1 L880.6 727.7 L884.3 736.5 L890.6 732.7 L894.4 744.8 L899.4 755.8 L903.2 733.2 L907.7 732.2 L910.7 740.2 L917.7 732.7 L920.7 736.5 L923.8 728.9 L928.3 727.7 L933.3 719.4 L938.3 727.7 L943.3 731.5 L947.9 741.0 L952.1 740.2 L956.4 749.0 L962.2 749.8 L963.9 751.5 L972.2 734.7 L976.5 751.5 L980.5 760.3 L983.5 752.8 L986.8 748.3 L990.5 753.3 L993.5 748.3 L997.3 755.3 L1000.6 752.8 L1003.6 754.5 L1007.3 745.3 L1013.6 740.2 L1016.6 731.5 L1023.7 751.5 L1026.7 745.8 L1031.7 744.8 L1035.0 746.5 L1037.5 752.0 L1040.7 756.6 L1044.2 770.4 L1048.2 766.6 L1050.0 762.7 L1053.3 752.7 L1056.7 750.1 L1060.7 746.1 L1063.3 745.1 L1066.7 745.4 L1070.0 738.4 L1073.4 741.1 L1076.7 742.7 L1080.7 739.4 L1083.4 732.0 L1085.8 713.4 L1090.0 701.4 L1096.0 694.4 L1103.4 688.0 L1106.3 687.3 L1110.7 709.1 L1113.4 704.7 L1116.7 713.4 L1120.7 717.6 L1123.4 715.8 L1126.7 719.4 L1130.1 705.4 L1136.7 728.3 L1143.4 723.4 L1146.7 718.7 L1150.1 708.7 L1153.4 704.7 L1156.8 699.3 L1160.1 696.7 L1163.4 702.4 L1166.8 695.3 L1170.1 694.4 L1173.4 692.4 L1176.5 703.4 L1180.5 696.7 L1183.4 712.0 L1186.1 706.4 L1190.1 706.4 L1192.8 711.4 L1195.5 710.4 L1200.1 710.4" fill="none" stroke="#cbbb22" stroke-width="1.1" stroke-linejoin="round" />
</g>
<g clip-path="url(#cd)">
<line x1="111" y1="833.5" x2="1219" y2="833.5" stroke="#30354a" stroke-width="1"/>
<line x1="111" y1="864.5" x2="1219" y2="864.5" stroke="#30354a" stroke-width="1"/>
<line x1="111" y1="894.5" x2="1219" y2="894.5" stroke="#30354a" stroke-width="1"/>
<line x1="111" y1="924.5" x2="1219" y2="924.5" stroke="#30354a" stroke-width="1"/>
<line x1="114.50" y1="894.7" x2="114.50" y2="886.9" stroke="#c8222a" stroke-width="1.1"/>
<line x1="117.50" y1="894.7" x2="117.50" y2="886.2" stroke="#c8222a" stroke-width="1.1"/>
<line x1="120.50" y1="894.7" x2="120.50" y2="887.1" stroke="#c8222a" stroke-width="1.1"/>
<line x1="124.50" y1="894.7" x2="124.50" y2="888.4" stroke="#c8222a" stroke-width="1.1"/>
<line x1="127.50" y1="894.7" x2="127.50" y2="889.4" stroke="#c8222a" stroke-width="1.1"/>
<line x1="130.50" y1="894.7" x2="130.50" y2="890.4" stroke="#c8222a" stroke-width="1.1"/>
<line x1="134.50" y1="894.7" x2="134.50" y2="890.8" stroke="#c8222a" stroke-width="1.1"/>
<line x1="137.50" y1="894.7" x2="137.50" y2="891.0" stroke="#c8222a" stroke-width="1.1"/>
<line x1="140.50" y1="894.7" x2="140.50" y2="891.3" stroke="#c8222a" stroke-width="1.1"/>
<line x1="144.50" y1="894.7" x2="144.50" y2="893.8" stroke="#c8222a" stroke-width="1.1"/>
<line x1="147.50" y1="894.7" x2="147.50" y2="895.6" stroke="#c8222a" stroke-width="1.1"/>
<line x1="150.50" y1="894.7" x2="150.50" y2="897.2" stroke="#c8222a" stroke-width="1.1"/>
<line x1="154.50" y1="894.7" x2="154.50" y2="899.1" stroke="#c8222a" stroke-width="1.1"/>
<line x1="157.50" y1="894.7" x2="157.50" y2="897.7" stroke="#c8222a" stroke-width="1.1"/>
<line x1="160.50" y1="894.7" x2="160.50" y2="900.4" stroke="#c8222a" stroke-width="1.1"/>
<line x1="164.50" y1="894.7" x2="164.50" y2="905.7" stroke="#c8222a" stroke-width="1.1"/>
<line x1="167.50" y1="894.7" x2="167.50" y2="908.3" stroke="#c8222a" stroke-width="1.1"/>
<line x1="170.50" y1="894.7" x2="170.50" y2="909.9" stroke="#c8222a" stroke-width="1.1"/>
<line x1="174.50" y1="894.7" x2="174.50" y2="909.7" stroke="#c8222a" stroke-width="1.1"/>
<line x1="177.50" y1="894.7" x2="177.50" y2="910.1" stroke="#c8222a" stroke-width="1.1"/>
<line x1="180.50" y1="894.7" x2="180.50" y2="910.4" stroke="#c8222a" stroke-width="1.1"/>
<line x1="184.50" y1="894.7" x2="184.50" y2="910.4" stroke="#c8222a" stroke-width="1.1"/>
<line x1="187.50" y1="894.7" x2="187.50" y2="910.1" stroke="#c8222a" stroke-width="1.1"/>
<line x1="190.50" y1="894.7" x2="190.50" y2="909.8" stroke="#c8222a" stroke-width="1.1"/>
<line x1="194.50" y1="894.7" x2="194.50" y2="907.9" stroke="#c8222a" stroke-width="1.1"/>
<line x1="197.50" y1="894.7" x2="197.50" y2="906.9" stroke="#c8222a" stroke-width="1.1"/>
<line x1="200.50" y1="894.7" x2="200.50" y2="906.3" stroke="#c8222a" stroke-width="1.1"/>
<line x1="204.50" y1="894.7" x2="204.50" y2="904.7" stroke="#c8222a" stroke-width="1.1"/>
<line x1="207.50" y1="894.7" x2="207.50" y2="903.3" stroke="#c8222a" stroke-width="1.1"/>
<line x1="210.50" y1="894.7" x2="210.50" y2="902.6" stroke="#c8222a" stroke-width="1.1"/>
<line x1="214.50" y1="894.7" x2="214.50" y2="902.1" stroke="#c8222a" stroke-width="1.1"/>
<line x1="217.50" y1="894.7" x2="217.50" y2="901.8" stroke="#c8222a" stroke-width="1.1"/>
<line x1="220.50" y1="894.7" x2="220.50" y2="900.7" stroke="#c8222a" stroke-width="1.1"/>
<line x1="224.50" y1="894.7" x2="224.50" y2="898.4" stroke="#c8222a" stroke-width="1.1"/>
<line x1="227.50" y1="894.7" x2="227.50" y2="896.9" stroke="#c8222a" stroke-width="1.1"/>
<line x1="234.50" y1="894.7" x2="234.50" y2="892.3" stroke="#c8222a" stroke-width="1.1"/>
<line x1="237.50" y1="894.7" x2="237.50" y2="892.9" stroke="#c8222a" stroke-width="1.1"/>
<line x1="240.50" y1="894.7" x2="240.50" y2="893.7" stroke="#c8222a" stroke-width="1.1"/>
<line x1="247.50" y1="894.7" x2="247.50" y2="891.1" stroke="#c8222a" stroke-width="1.1"/>
<line x1="250.50" y1="894.7" x2="250.50" y2="886.3" stroke="#c8222a" stroke-width="1.1"/>
<line x1="254.50" y1="894.7" x2="254.50" y2="881.9" stroke="#c8222a" stroke-width="1.1"/>
<line x1="257.50" y1="894.7" x2="257.50" y2="880.9" stroke="#c8222a" stroke-width="1.1"/>
<line x1="260.50" y1="894.7" x2="260.50" y2="879.3" stroke="#c8222a" stroke-width="1.1"/>
<line x1="264.50" y1="894.7" x2="264.50" y2="873.9" stroke="#c8222a" stroke-width="1.1"/>
<line x1="267.50" y1="894.7" x2="267.50" y2="872.6" stroke="#c8222a" stroke-width="1.1"/>
<line x1="270.50" y1="894.7" x2="270.50" y2="874.6" stroke="#c8222a" stroke-width="1.1"/>
<line x1="274.50" y1="894.7" x2="274.50" y2="876.4" stroke="#c8222a" stroke-width="1.1"/>
<line x1="277.50" y1="894.7" x2="277.50" y2="876.9" stroke="#c8222a" stroke-width="1.1"/>
<line x1="280.50" y1="894.7" x2="280.50" y2="879.5" stroke="#c8222a" stroke-width="1.1"/>
<line x1="284.50" y1="894.7" x2="284.50" y2="882.8" stroke="#c8222a" stroke-width="1.1"/>
<line x1="287.50" y1="894.7" x2="287.50" y2="885.1" stroke="#c8222a" stroke-width="1.1"/>
<line x1="290.50" y1="894.7" x2="290.50" y2="887.5" stroke="#c8222a" stroke-width="1.1"/>
<line x1="294.50" y1="894.7" x2="294.50" y2="889.5" stroke="#c8222a" stroke-width="1.1"/>
<line x1="297.50" y1="894.7" x2="297.50" y2="890.8" stroke="#c8222a" stroke-width="1.1"/>
<line x1="300.50" y1="894.7" x2="300.50" y2="891.0" stroke="#c8222a" stroke-width="1.1"/>
<line x1="304.50" y1="894.7" x2="304.50" y2="889.9" stroke="#c8222a" stroke-width="1.1"/>
<line x1="307.50" y1="894.7" x2="307.50" y2="889.1" stroke="#c8222a" stroke-width="1.1"/>
<line x1="310.50" y1="894.7" x2="310.50" y2="890.0" stroke="#c8222a" stroke-width="1.1"/>
<line x1="314.50" y1="894.7" x2="314.50" y2="892.5" stroke="#c8222a" stroke-width="1.1"/>
<line x1="317.50" y1="894.7" x2="317.50" y2="893.6" stroke="#c8222a" stroke-width="1.1"/>
<line x1="320.50" y1="894.7" x2="320.50" y2="893.6" stroke="#c8222a" stroke-width="1.1"/>
<line x1="323.50" y1="894.7" x2="323.50" y2="893.3" stroke="#c8222a" stroke-width="1.1"/>
<line x1="327.50" y1="894.7" x2="327.50" y2="896.2" stroke="#c8222a" stroke-width="1.1"/>
<line x1="330.50" y1="894.7" x2="330.50" y2="898.7" stroke="#c8222a" stroke-width="1.1"/>
<line x1="333.50" y1="894.7" x2="333.50" y2="900.2" stroke="#c8222a" stroke-width="1.1"/>
<line x1="337.50" y1="894.7" x2="337.50" y2="901.6" stroke="#c8222a" stroke-width="1.1"/>
<line x1="340.50" y1="894.7" x2="340.50" y2="902.7" stroke="#c8222a" stroke-width="1.1"/>
<line x1="343.50" y1="894.7" x2="343.50" y2="903.8" stroke="#c8222a" stroke-width="1.1"/>
<line x1="347.50" y1="894.7" x2="347.50" y2="903.9" stroke="#c8222a" stroke-width="1.1"/>
<line x1="350.50" y1="894.7" x2="350.50" y2="903.9" stroke="#c8222a" stroke-width="1.1"/>
<line x1="353.50" y1="894.7" x2="353.50" y2="903.9" stroke="#c8222a" stroke-width="1.1"/>
<line x1="357.50" y1="894.7" x2="357.50" y2="904.1" stroke="#c8222a" stroke-width="1.1"/>
<line x1="360.50" y1="894.7" x2="360.50" y2="904.8" stroke="#c8222a" stroke-width="1.1"/>
<line x1="363.50" y1="894.7" x2="363.50" y2="905.4" stroke="#c8222a" stroke-width="1.1"/>
<line x1="367.50" y1="894.7" x2="367.50" y2="899.2" stroke="#c8222a" stroke-width="1.1"/>
<line x1="370.50" y1="894.7" x2="370.50" y2="896.3" stroke="#c8222a" stroke-width="1.1"/>
<line x1="377.50" y1="894.7" x2="377.50" y2="893.9" stroke="#c8222a" stroke-width="1.1"/>
<line x1="380.50" y1="894.7" x2="380.50" y2="893.9" stroke="#c8222a" stroke-width="1.1"/>
<line x1="383.50" y1="894.7" x2="383.50" y2="894.0" stroke="#c8222a" stroke-width="1.1"/>
<line x1="390.50" y1="894.7" x2="390.50" y2="896.5" stroke="#c8222a" stroke-width="1.1"/>
<line x1="393.50" y1="894.7" x2="393.50" y2="897.4" stroke="#c8222a" stroke-width="1.1"/>
<line x1="397.50" y1="894.7" x2="397.50" y2="898.8" stroke="#c8222a" stroke-width="1.1"/>
<line x1="400.50" y1="894.7" x2="400.50" y2="899.9" stroke="#c8222a" stroke-width="1.1"/>
<line x1="403.50" y1="894.7" x2="403.50" y2="901.1" stroke="#c8222a" stroke-width="1.1"/>
<line x1="407.50" y1="894.7" x2="407.50" y2="903.9" stroke="#c8222a" stroke-width="1.1"/>
<line x1="410.50" y1="894.7" x2="410.50" y2="905.1" stroke="#c8222a" stroke-width="1.1"/>
<line x1="413.50" y1="894.7" x2="413.50" y2="904.7" stroke="#c8222a" stroke-width="1.1"/>
<line x1="417.50" y1="894.7" x2="417.50" y2="905.0" stroke="#c8222a" stroke-width="1.1"/>
<line x1="420.50" y1="894.7" x2="420.50" y2="905.4" stroke="#c8222a" stroke-width="1.1"/>
<line x1="423.50" y1="894.7" x2="423.50" y2="905.3" stroke="#c8222a" stroke-width="1.1"/>
<line x1="427.50" y1="894.7" x2="427.50" y2="905.1" stroke="#c8222a" stroke-width="1.1"/>
<line x1="430.50" y1="894.7" x2="430.50" y2="904.4" stroke="#c8222a" stroke-width="1.1"/>
<line x1="433.50" y1="894.7" x2="433.50" y2="902.0" stroke="#c8222a" stroke-width="1.1"/>
<line x1="437.50" y1="894.7" x2="437.50" y2="899.9" stroke="#c8222a" stroke-width="1.1"/>
<line x1="440.50" y1="894.7" x2="440.50" y2="898.0" stroke="#c8222a" stroke-width="1.1"/>
<line x1="443.50" y1="894.7" x2="443.50" y2="896.5" stroke="#c8222a" stroke-width="1.1"/>
<line x1="447.50" y1="894.7" x2="447.50" y2="896.4" stroke="#c8222a" stroke-width="1.1"/>
<line x1="450.50" y1="894.7" x2="450.50" y2="896.6" stroke="#c8222a" stroke-width="1.1"/>
<line x1="453.50" y1="894.7" x2="453.50" y2="896.4" stroke="#c8222a" stroke-width="1.1"/>
<line x1="460.50" y1="894.7" x2="460.50" y2="894.1" stroke="#c8222a" stroke-width="1.1"/>
<line x1="463.50" y1="894.7" x2="463.50" y2="893.6" stroke="#c8222a" stroke-width="1.1"/>
<line x1="467.50" y1="894.7" x2="467.50" y2="893.7" stroke="#c8222a" stroke-width="1.1"/>
<line x1="470.50" y1="894.7" x2="470.50" y2="893.9" stroke="#c8222a" stroke-width="1.1"/>
<line x1="473.50" y1="894.7" x2="473.50" y2="893.7" stroke="#c8222a" stroke-width="1.1"/>
<line x1="477.50" y1="894.7" x2="477.50" y2="893.1" stroke="#c8222a" stroke-width="1.1"/>
<line x1="480.50" y1="894.7" x2="480.50" y2="892.8" stroke="#c8222a" stroke-width="1.1"/>
<line x1="487.50" y1="894.7" x2="487.50" y2="895.6" stroke="#c8222a" stroke-width="1.1"/>
<line x1="490.50" y1="894.7" x2="490.50" y2="896.5" stroke="#c8222a" stroke-width="1.1"/>
<line x1="493.50" y1="894.7" x2="493.50" y2="896.8" stroke="#c8222a" stroke-width="1.1"/>
<line x1="497.50" y1="894.7" x2="497.50" y2="897.1" stroke="#c8222a" stroke-width="1.1"/>
<line x1="500.50" y1="894.7" x2="500.50" y2="897.4" stroke="#c8222a" stroke-width="1.1"/>
<line x1="503.50" y1="894.7" x2="503.50" y2="897.7" stroke="#c8222a" stroke-width="1.1"/>
<line x1="507.50" y1="894.7" x2="507.50" y2="897.1" stroke="#c8222a" stroke-width="1.1"/>
<line x1="510.50" y1="894.7" x2="510.50" y2="896.7" stroke="#c8222a" stroke-width="1.1"/>
<line x1="513.50" y1="894.7" x2="513.50" y2="896.3" stroke="#c8222a" stroke-width="1.1"/>
<line x1="517.50" y1="894.7" x2="517.50" y2="895.3" stroke="#c8222a" stroke-width="1.1"/>
<line x1="523.50" y1="894.7" x2="523.50" y2="893.8" stroke="#c8222a" stroke-width="1.1"/>
<line x1="527.50" y1="894.7" x2="527.50" y2="892.3" stroke="#c8222a" stroke-width="1.1"/>
<line x1="530.50" y1="894.7" x2="530.50" y2="890.7" stroke="#c8222a" stroke-width="1.1"/>
<line x1="533.50" y1="894.7" x2="533.50" y2="889.3" stroke="#c8222a" stroke-width="1.1"/>
<line x1="537.50" y1="894.7" x2="537.50" y2="888.3" stroke="#c8222a" stroke-width="1.1"/>
<line x1="540.50" y1="894.7" x2="540.50" y2="887.2" stroke="#c8222a" stroke-width="1.1"/>
<line x1="543.50" y1="894.7" x2="543.50" y2="886.2" stroke="#c8222a" stroke-width="1.1"/>
<line x1="547.50" y1="894.7" x2="547.50" y2="885.5" stroke="#c8222a" stroke-width="1.1"/>
<line x1="550.50" y1="894.7" x2="550.50" y2="885.5" stroke="#c8222a" stroke-width="1.1"/>
<line x1="553.50" y1="894.7" x2="553.50" y2="885.5" stroke="#c8222a" stroke-width="1.1"/>
<line x1="557.50" y1="894.7" x2="557.50" y2="887.1" stroke="#c8222a" stroke-width="1.1"/>
<line x1="560.50" y1="894.7" x2="560.50" y2="888.6" stroke="#c8222a" stroke-width="1.1"/>
<line x1="563.50" y1="894.7" x2="563.50" y2="889.9" stroke="#c8222a" stroke-width="1.1"/>
<line x1="567.50" y1="894.7" x2="567.50" y2="891.2" stroke="#c8222a" stroke-width="1.1"/>
<line x1="570.50" y1="894.7" x2="570.50" y2="891.7" stroke="#c8222a" stroke-width="1.1"/>
<line x1="573.50" y1="894.7" x2="573.50" y2="892.7" stroke="#c8222a" stroke-width="1.1"/>
<line x1="577.50" y1="894.7" x2="577.50" y2="893.7" stroke="#c8222a" stroke-width="1.1"/>
<line x1="590.50" y1="894.7" x2="590.50" y2="895.9" stroke="#c8222a" stroke-width="1.1"/>
<line x1="593.50" y1="894.7" x2="593.50" y2="896.7" stroke="#c8222a" stroke-width="1.1"/>
<line x1="597.50" y1="894.7" x2="597.50" y2="897.9" stroke="#c8222a" stroke-width="1.1"/>
<line x1="600.50" y1="894.7" x2="600.50" y2="898.8" stroke="#c8222a" stroke-width="1.1"/>
<line x1="603.50" y1="894.7" x2="603.50" y2="899.6" stroke="#c8222a" stroke-width="1.1"/>
<line x1="607.50" y1="894.7" x2="607.50" y2="900.5" stroke="#c8222a" stroke-width="1.1"/>
<line x1="610.50" y1="894.7" x2="610.50" y2="900.6" stroke="#c8222a" stroke-width="1.1"/>
<line x1="613.50" y1="894.7" x2="613.50" y2="900.7" stroke="#c8222a" stroke-width="1.1"/>
<line x1="617.50" y1="894.7" x2="617.50" y2="900.8" stroke="#c8222a" stroke-width="1.1"/>
<line x1="620.50" y1="894.7" x2="620.50" y2="901.0" stroke="#c8222a" stroke-width="1.1"/>
<line x1="623.50" y1="894.7" x2="623.50" y2="901.4" stroke="#c8222a" stroke-width="1.1"/>
<line x1="627.50" y1="894.7" x2="627.50" y2="901.0" stroke="#c8222a" stroke-width="1.1"/>
<line x1="630.50" y1="894.7" x2="630.50" y2="899.8" stroke="#c8222a" stroke-width="1.1"/>
<line x1="633.50" y1="894.7" x2="633.50" y2="898.6" stroke="#c8222a" stroke-width="1.1"/>
<line x1="637.50" y1="894.7" x2="637.50" y2="896.4" stroke="#c8222a" stroke-width="1.1"/>
<line x1="643.50" y1="894.7" x2="643.50" y2="893.2" stroke="#c8222a" stroke-width="1.1"/>
<line x1="647.50" y1="894.7" x2="647.50" y2="891.9" stroke="#c8222a" stroke-width="1.1"/>
<line x1="650.50" y1="894.7" x2="650.50" y2="890.9" stroke="#c8222a" stroke-width="1.1"/>
<line x1="653.50" y1="894.7" x2="653.50" y2="889.5" stroke="#c8222a" stroke-width="1.1"/>
<line x1="657.50" y1="894.7" x2="657.50" y2="887.7" stroke="#c8222a" stroke-width="1.1"/>
<line x1="660.50" y1="894.7" x2="660.50" y2="887.3" stroke="#c8222a" stroke-width="1.1"/>
<line x1="663.50" y1="894.7" x2="663.50" y2="887.4" stroke="#c8222a" stroke-width="1.1"/>
<line x1="667.50" y1="894.7" x2="667.50" y2="889.0" stroke="#c8222a" stroke-width="1.1"/>
<line x1="670.50" y1="894.7" x2="670.50" y2="890.7" stroke="#c8222a" stroke-width="1.1"/>
<line x1="673.50" y1="894.7" x2="673.50" y2="892.0" stroke="#c8222a" stroke-width="1.1"/>
<line x1="677.50" y1="894.7" x2="677.50" y2="893.4" stroke="#c8222a" stroke-width="1.1"/>
<line x1="683.50" y1="894.7" x2="683.50" y2="895.5" stroke="#c8222a" stroke-width="1.1"/>
<line x1="687.50" y1="894.7" x2="687.50" y2="896.5" stroke="#c8222a" stroke-width="1.1"/>
<line x1="690.50" y1="894.7" x2="690.50" y2="897.3" stroke="#c8222a" stroke-width="1.1"/>
<line x1="693.50" y1="894.7" x2="693.50" y2="896.1" stroke="#c8222a" stroke-width="1.1"/>
<line x1="697.50" y1="894.7" x2="697.50" y2="894.0" stroke="#c8222a" stroke-width="1.1"/>
<line x1="700.50" y1="894.7" x2="700.50" y2="893.6" stroke="#c8222a" stroke-width="1.1"/>
<line x1="703.50" y1="894.7" x2="703.50" y2="893.7" stroke="#c8222a" stroke-width="1.1"/>
<line x1="707.50" y1="894.7" x2="707.50" y2="894.0" stroke="#c8222a" stroke-width="1.1"/>
<line x1="717.50" y1="894.7" x2="717.50" y2="897.7" stroke="#c8222a" stroke-width="1.1"/>
<line x1="720.50" y1="894.7" x2="720.50" y2="900.3" stroke="#c8222a" stroke-width="1.1"/>
<line x1="723.50" y1="894.7" x2="723.50" y2="902.8" stroke="#c8222a" stroke-width="1.1"/>
<line x1="727.50" y1="894.7" x2="727.50" y2="906.0" stroke="#c8222a" stroke-width="1.1"/>
<line x1="730.50" y1="894.7" x2="730.50" y2="908.2" stroke="#c8222a" stroke-width="1.1"/>
<line x1="733.50" y1="894.7" x2="733.50" y2="909.5" stroke="#c8222a" stroke-width="1.1"/>
<line x1="737.50" y1="894.7" x2="737.50" y2="908.8" stroke="#c8222a" stroke-width="1.1"/>
<line x1="740.50" y1="894.7" x2="740.50" y2="908.2" stroke="#c8222a" stroke-width="1.1"/>
<line x1="743.50" y1="894.7" x2="743.50" y2="907.6" stroke="#c8222a" stroke-width="1.1"/>
<line x1="747.50" y1="894.7" x2="747.50" y2="903.0" stroke="#c8222a" stroke-width="1.1"/>
<line x1="750.50" y1="894.7" x2="750.50" y2="899.9" stroke="#c8222a" stroke-width="1.1"/>
<line x1="753.50" y1="894.7" x2="753.50" y2="896.5" stroke="#c8222a" stroke-width="1.1"/>
<line x1="757.50" y1="894.7" x2="757.50" y2="893.2" stroke="#c8222a" stroke-width="1.1"/>
<line x1="760.50" y1="894.7" x2="760.50" y2="888.6" stroke="#c8222a" stroke-width="1.1"/>
<line x1="763.50" y1="894.7" x2="763.50" y2="883.9" stroke="#c8222a" stroke-width="1.1"/>
<line x1="767.50" y1="894.7" x2="767.50" y2="879.6" stroke="#c8222a" stroke-width="1.1"/>
<line x1="770.50" y1="894.7" x2="770.50" y2="877.4" stroke="#c8222a" stroke-width="1.1"/>
<line x1="773.50" y1="894.7" x2="773.50" y2="876.3" stroke="#c8222a" stroke-width="1.1"/>
<line x1="777.50" y1="894.7" x2="777.50" y2="874.8" stroke="#c8222a" stroke-width="1.1"/>
<line x1="780.50" y1="894.7" x2="780.50" y2="876.7" stroke="#c8222a" stroke-width="1.1"/>
<line x1="783.50" y1="894.7" x2="783.50" y2="877.5" stroke="#c8222a" stroke-width="1.1"/>
<line x1="787.50" y1="894.7" x2="787.50" y2="878.6" stroke="#c8222a" stroke-width="1.1"/>
<line x1="790.50" y1="894.7" x2="790.50" y2="879.8" stroke="#c8222a" stroke-width="1.1"/>
<line x1="793.50" y1="894.7" x2="793.50" y2="880.7" stroke="#c8222a" stroke-width="1.1"/>
<line x1="797.50" y1="894.7" x2="797.50" y2="881.9" stroke="#c8222a" stroke-width="1.1"/>
<line x1="800.50" y1="894.7" x2="800.50" y2="885.5" stroke="#c8222a" stroke-width="1.1"/>
<line x1="803.50" y1="894.7" x2="803.50" y2="887.2" stroke="#c8222a" stroke-width="1.1"/>
<line x1="807.50" y1="894.7" x2="807.50" y2="889.5" stroke="#c8222a" stroke-width="1.1"/>
<line x1="810.50" y1="894.7" x2="810.50" y2="891.4" stroke="#c8222a" stroke-width="1.1"/>
<line x1="813.50" y1="894.7" x2="813.50" y2="893.4" stroke="#c8222a" stroke-width="1.1"/>
<line x1="817.50" y1="894.7" x2="817.50" y2="896.3" stroke="#c8222a" stroke-width="1.1"/>
<line x1="820.50" y1="894.7" x2="820.50" y2="898.4" stroke="#c8222a" stroke-width="1.1"/>
<line x1="823.50" y1="894.7" x2="823.50" y2="900.5" stroke="#c8222a" stroke-width="1.1"/>
<line x1="827.50" y1="894.7" x2="827.50" y2="902.6" stroke="#c8222a" stroke-width="1.1"/>
<line x1="830.50" y1="894.7" x2="830.50" y2="902.0" stroke="#c8222a" stroke-width="1.1"/>
<line x1="833.50" y1="894.7" x2="833.50" y2="901.4" stroke="#c8222a" stroke-width="1.1"/>
<line x1="837.50" y1="894.7" x2="837.50" y2="901.8" stroke="#c8222a" stroke-width="1.1"/>
<line x1="840.50" y1="894.7" x2="840.50" y2="900.3" stroke="#c8222a" stroke-width="1.1"/>
<line x1="843.50" y1="894.7" x2="843.50" y2="898.5" stroke="#c8222a" stroke-width="1.1"/>
<line x1="847.50" y1="894.7" x2="847.50" y2="896.8" stroke="#c8222a" stroke-width="1.1"/>
<line x1="850.50" y1="894.7" x2="850.50" y2="896.0" stroke="#c8222a" stroke-width="1.1"/>
<line x1="863.50" y1="894.7" x2="863.50" y2="892.8" stroke="#c8222a" stroke-width="1.1"/>
<line x1="867.50" y1="894.7" x2="867.50" y2="890.2" stroke="#c8222a" stroke-width="1.1"/>
<line x1="870.50" y1="894.7" x2="870.50" y2="888.3" stroke="#c8222a" stroke-width="1.1"/>
<line x1="873.50" y1="894.7" x2="873.50" y2="887.3" stroke="#c8222a" stroke-width="1.1"/>
<line x1="876.50" y1="894.7" x2="876.50" y2="886.3" stroke="#c8222a" stroke-width="1.1"/>
<line x1="880.50" y1="894.7" x2="880.50" y2="888.2" stroke="#c8222a" stroke-width="1.1"/>
<line x1="883.50" y1="894.7" x2="883.50" y2="891.3" stroke="#c8222a" stroke-width="1.1"/>
<line x1="886.50" y1="894.7" x2="886.50" y2="893.7" stroke="#c8222a" stroke-width="1.1"/>
<line x1="893.50" y1="894.7" x2="893.50" y2="897.0" stroke="#c8222a" stroke-width="1.1"/>
<line x1="896.50" y1="894.7" x2="896.50" y2="900.2" stroke="#c8222a" stroke-width="1.1"/>
<line x1="900.50" y1="894.7" x2="900.50" y2="904.5" stroke="#c8222a" stroke-width="1.1"/>
<line x1="903.50" y1="894.7" x2="903.50" y2="902.3" stroke="#c8222a" stroke-width="1.1"/>
<line x1="906.50" y1="894.7" x2="906.50" y2="900.3" stroke="#c8222a" stroke-width="1.1"/>
<line x1="910.50" y1="894.7" x2="910.50" y2="898.6" stroke="#c8222a" stroke-width="1.1"/>
<line x1="913.50" y1="894.7" x2="913.50" y2="897.9" stroke="#c8222a" stroke-width="1.1"/>
<line x1="916.50" y1="894.7" x2="916.50" y2="897.3" stroke="#c8222a" stroke-width="1.1"/>
<line x1="920.50" y1="894.7" x2="920.50" y2="897.1" stroke="#c8222a" stroke-width="1.1"/>
<line x1="923.50" y1="894.7" x2="923.50" y2="897.0" stroke="#c8222a" stroke-width="1.1"/>
<line x1="926.50" y1="894.7" x2="926.50" y2="896.0" stroke="#c8222a" stroke-width="1.1"/>
<line x1="933.50" y1="894.7" x2="933.50" y2="893.0" stroke="#c8222a" stroke-width="1.1"/>
<line x1="936.50" y1="894.7" x2="936.50" y2="891.7" stroke="#c8222a" stroke-width="1.1"/>
<line x1="940.50" y1="894.7" x2="940.50" y2="892.5" stroke="#c8222a" stroke-width="1.1"/>
<line x1="943.50" y1="894.7" x2="943.50" y2="893.3" stroke="#c8222a" stroke-width="1.1"/>
<line x1="946.50" y1="894.7" x2="946.50" y2="895.4" stroke="#c8222a" stroke-width="1.1"/>
<line x1="950.50" y1="894.7" x2="950.50" y2="896.9" stroke="#c8222a" stroke-width="1.1"/>
<line x1="953.50" y1="894.7" x2="953.50" y2="898.1" stroke="#c8222a" stroke-width="1.1"/>
<line x1="956.50" y1="894.7" x2="956.50" y2="899.2" stroke="#c8222a" stroke-width="1.1"/>
<line x1="960.50" y1="894.7" x2="960.50" y2="900.1" stroke="#c8222a" stroke-width="1.1"/>
<line x1="963.50" y1="894.7" x2="963.50" y2="900.4" stroke="#c8222a" stroke-width="1.1"/>
<line x1="966.50" y1="894.7" x2="966.50" y2="900.7" stroke="#c8222a" stroke-width="1.1"/>
<line x1="970.50" y1="894.7" x2="970.50" y2="899.8" stroke="#c8222a" stroke-width="1.1"/>
<line x1="973.50" y1="894.7" x2="973.50" y2="898.1" stroke="#c8222a" stroke-width="1.1"/>
<line x1="976.50" y1="894.7" x2="976.50" y2="898.8" stroke="#c8222a" stroke-width="1.1"/>
<line x1="980.50" y1="894.7" x2="980.50" y2="899.8" stroke="#c8222a" stroke-width="1.1"/>
<line x1="983.50" y1="894.7" x2="983.50" y2="900.5" stroke="#c8222a" stroke-width="1.1"/>
<line x1="986.50" y1="894.7" x2="986.50" y2="899.9" stroke="#c8222a" stroke-width="1.1"/>
<line x1="990.50" y1="894.7" x2="990.50" y2="899.5" stroke="#c8222a" stroke-width="1.1"/>
<line x1="993.50" y1="894.7" x2="993.50" y2="899.2" stroke="#c8222a" stroke-width="1.1"/>
<line x1="996.50" y1="894.7" x2="996.50" y2="899.0" stroke="#c8222a" stroke-width="1.1"/>
<line x1="1000.50" y1="894.7" x2="1000.50" y2="898.8" stroke="#c8222a" stroke-width="1.1"/>
<line x1="1003.50" y1="894.7" x2="1003.50" y2="898.8" stroke="#c8222a" stroke-width="1.1"/>
<line x1="1006.50" y1="894.7" x2="1006.50" y2="897.1" stroke="#c8222a" stroke-width="1.1"/>
<line x1="1013.50" y1="894.7" x2="1013.50" y2="893.5" stroke="#c8222a" stroke-width="1.1"/>
<line x1="1016.50" y1="894.7" x2="1016.50" y2="892.6" stroke="#c8222a" stroke-width="1.1"/>
<line x1="1020.50" y1="894.7" x2="1020.50" y2="892.6" stroke="#c8222a" stroke-width="1.1"/>
<line x1="1023.50" y1="894.7" x2="1023.50" y2="893.5" stroke="#c8222a" stroke-width="1.1"/>
<line x1="1026.50" y1="894.7" x2="1026.50" y2="893.9" stroke="#c8222a" stroke-width="1.1"/>
<line x1="1040.50" y1="894.7" x2="1040.50" y2="896.9" stroke="#c8222a" stroke-width="1.1"/>
<line x1="1043.50" y1="894.7" x2="1043.50" y2="898.4" stroke="#c8222a" stroke-width="1.1"/>
<line x1="1046.50" y1="894.7" x2="1046.50" y2="898.9" stroke="#c8222a" stroke-width="1.1"/>
<line x1="1050.50" y1="894.7" x2="1050.50" y2="898.7" stroke="#c8222a" stroke-width="1.1"/>
<line x1="1053.50" y1="894.7" x2="1053.50" y2="898.5" stroke="#c8222a" stroke-width="1.1"/>
<line x1="1056.50" y1="894.7" x2="1056.50" y2="897.0" stroke="#c8222a" stroke-width="1.1"/>
<line x1="1060.50" y1="894.7" x2="1060.50" y2="895.6" stroke="#c8222a" stroke-width="1.1"/>
<line x1="1066.50" y1="894.7" x2="1066.50" y2="893.2" stroke="#c8222a" stroke-width="1.1"/>
<line x1="1070.50" y1="894.7" x2="1070.50" y2="892.0" stroke="#c8222a" stroke-width="1.1"/>
<line x1="1073.50" y1="894.7" x2="1073.50" y2="891.5" stroke="#c8222a" stroke-width="1.1"/>
<line x1="1076.50" y1="894.7" x2="1076.50" y2="891.2" stroke="#c8222a" stroke-width="1.1"/>
<line x1="1080.50" y1="894.7" x2="1080.50" y2="891.2" stroke="#c8222a" stroke-width="1.1"/>
<line x1="1083.50" y1="894.7" x2="1083.50" y2="891.0" stroke="#c8222a" stroke-width="1.1"/>
<line x1="1086.50" y1="894.7" x2="1086.50" y2="887.5" stroke="#c8222a" stroke-width="1.1"/>
<line x1="1090.50" y1="894.7" x2="1090.50" y2="883.0" stroke="#c8222a" stroke-width="1.1"/>
<line x1="1093.50" y1="894.7" x2="1093.50" y2="880.2" stroke="#c8222a" stroke-width="1.1"/>
<line x1="1096.50" y1="894.7" x2="1096.50" y2="877.4" stroke="#c8222a" stroke-width="1.1"/>
<line x1="1100.50" y1="894.7" x2="1100.50" y2="877.2" stroke="#c8222a" stroke-width="1.1"/>
<line x1="1103.50" y1="894.7" x2="1103.50" y2="875.3" stroke="#c8222a" stroke-width="1.1"/>
<line x1="1106.50" y1="894.7" x2="1106.50" y2="873.4" stroke="#c8222a" stroke-width="1.1"/>
<line x1="1110.50" y1="894.7" x2="1110.50" y2="877.1" stroke="#c8222a" stroke-width="1.1"/>
<line x1="1113.50" y1="894.7" x2="1113.50" y2="879.6" stroke="#c8222a" stroke-width="1.1"/>
<line x1="1116.50" y1="894.7" x2="1116.50" y2="883.3" stroke="#c8222a" stroke-width="1.1"/>
<line x1="1120.50" y1="894.7" x2="1120.50" y2="886.4" stroke="#c8222a" stroke-width="1.1"/>
<line x1="1123.50" y1="894.7" x2="1123.50" y2="889.3" stroke="#c8222a" stroke-width="1.1"/>
<line x1="1126.50" y1="894.7" x2="1126.50" y2="891.2" stroke="#c8222a" stroke-width="1.1"/>
<line x1="1130.50" y1="894.7" x2="1130.50" y2="890.6" stroke="#c8222a" stroke-width="1.1"/>
<line x1="1133.50" y1="894.7" x2="1133.50" y2="891.6" stroke="#c8222a" stroke-width="1.1"/>
<line x1="1140.50" y1="894.7" x2="1140.50" y2="896.1" stroke="#c8222a" stroke-width="1.1"/>
<line x1="1143.50" y1="894.7" x2="1143.50" y2="896.6" stroke="#c8222a" stroke-width="1.1"/>
<line x1="1146.50" y1="894.7" x2="1146.50" y2="895.9" stroke="#c8222a" stroke-width="1.1"/>
<line x1="1150.50" y1="894.7" x2="1150.50" y2="893.4" stroke="#c8222a" stroke-width="1.1"/>
<line x1="1153.50" y1="894.7" x2="1153.50" y2="890.3" stroke="#c8222a" stroke-width="1.1"/>
<line x1="1156.50" y1="894.7" x2="1156.50" y2="887.4" stroke="#c8222a" stroke-width="1.1"/>
<line x1="1160.50" y1="894.7" x2="1160.50" y2="883.7" stroke="#c8222a" stroke-width="1.1"/>
<line x1="1163.50" y1="894.7" x2="1163.50" y2="884.6" stroke="#c8222a" stroke-width="1.1"/>
<line x1="1166.50" y1="894.7" x2="1166.50" y2="883.1" stroke="#c8222a" stroke-width="1.1"/>
<line x1="1170.50" y1="894.7" x2="1170.50" y2="881.9" stroke="#c8222a" stroke-width="1.1"/>
<line x1="1173.50" y1="894.7" x2="1173.50" y2="881.2" stroke="#c8222a" stroke-width="1.1"/>
<line x1="1176.50" y1="894.7" x2="1176.50" y2="882.1" stroke="#c8222a" stroke-width="1.1"/>
<line x1="1180.50" y1="894.7" x2="1180.50" y2="881.3" stroke="#c8222a" stroke-width="1.1"/>
<line x1="1183.50" y1="894.7" x2="1183.50" y2="885.6" stroke="#c8222a" stroke-width="1.1"/>
<line x1="1186.50" y1="894.7" x2="1186.50" y2="886.0" stroke="#c8222a" stroke-width="1.1"/>
<line x1="1190.50" y1="894.7" x2="1190.50" y2="886.7" stroke="#c8222a" stroke-width="1.1"/>
<line x1="1193.50" y1="894.7" x2="1193.50" y2="889.8" stroke="#c8222a" stroke-width="1.1"/>
<line x1="1196.50" y1="894.7" x2="1196.50" y2="892.2" stroke="#c8222a" stroke-width="1.1"/>
<path d="M111.8 863.9 C113.2 863.0 117.4 860.5 120.5 858.8 C123.6 857.1 127.2 855.0 130.6 853.8 C133.9 852.5 137.7 851.7 140.6 851.3 C143.5 850.9 145.3 850.9 148.2 851.3 C151.1 851.7 155.3 852.8 158.2 853.8 C161.1 854.8 163.2 855.3 165.7 857.6 C168.2 859.9 170.4 864.2 173.3 867.6 C176.2 871.0 179.5 873.7 183.3 877.7 C187.1 881.7 191.7 887.5 195.9 891.5 C200.1 895.5 204.2 898.7 208.4 901.5 C212.6 904.3 216.8 907.0 221.0 908.3 C225.2 909.5 229.8 909.0 233.5 909.0 C237.2 909.0 240.2 909.3 243.5 908.3 C246.8 907.3 250.2 906.0 253.6 902.8 C256.9 899.6 260.2 893.4 263.6 889.0 C267.0 884.6 270.8 880.0 273.7 876.4 C276.6 872.8 278.3 870.1 281.2 867.6 C284.1 865.1 287.8 862.9 291.2 861.4 C294.6 859.9 297.9 859.6 301.3 858.8 C304.7 857.9 308.0 856.9 311.3 856.3 C314.6 855.7 318.0 855.2 321.4 855.1 C324.8 855.0 327.6 854.8 331.4 855.6 C335.2 856.4 339.8 858.3 344.0 860.1 C348.2 861.9 352.8 864.3 356.5 866.4 C360.2 868.5 362.7 871.5 366.5 872.7 C370.3 874.0 374.9 873.5 379.1 873.9 C383.3 874.3 387.4 874.2 391.6 875.2 C395.8 876.2 400.4 878.1 404.2 880.2 C408.0 882.3 411.6 886.0 414.2 887.7 C416.8 889.5 416.9 888.4 420.0 890.7 C423.1 893.0 428.4 899.1 432.6 901.5 C436.8 903.9 440.9 904.1 445.1 904.8 C449.3 905.5 453.4 905.7 457.6 905.8 C461.8 905.9 466.0 905.4 470.2 905.3 C474.4 905.2 478.6 904.9 482.8 905.3 C487.0 905.7 491.1 907.0 495.3 907.8 C499.5 908.6 503.7 909.9 507.9 910.3 C512.1 910.7 516.2 910.6 520.4 910.3 C524.6 910.0 528.8 909.8 533.0 908.3 C537.2 906.8 541.3 904.1 545.5 901.5 C549.7 898.9 553.8 894.9 558.0 892.7 C562.2 890.5 566.4 889.2 570.6 888.5 C574.8 887.8 579.0 888.0 583.2 888.5 C587.4 889.0 591.5 890.2 595.7 891.5 C599.9 892.8 604.1 894.6 608.3 896.5 C612.5 898.4 616.6 900.8 620.8 902.8 C625.0 904.8 629.2 907.5 633.4 908.3 C637.6 909.1 641.7 908.8 645.9 907.8 C650.1 906.8 654.3 904.0 658.5 902.3 C662.7 900.6 666.8 899.0 671.0 897.8 C675.2 896.6 679.4 895.5 683.6 895.2 C687.8 894.9 691.9 896.1 696.1 896.0 C700.3 895.9 705.4 894.8 708.7 894.7 C712.1 894.6 713.3 894.1 716.2 895.2 C719.1 896.3 723.1 899.4 726.2 901.5 C729.3 903.6 731.9 905.5 735.0 907.8 C738.1 910.1 741.5 913.7 745.0 915.3 C748.5 916.9 752.1 918.8 756.3 917.3 C760.5 915.8 766.1 911.0 770.1 906.5 C774.1 902.0 776.9 894.8 780.2 890.2 C783.6 885.6 786.9 882.5 790.2 878.9 C793.6 875.3 796.5 871.1 800.3 868.9 C804.1 866.7 808.6 865.5 812.8 865.6 C817.0 865.7 822.0 868.1 825.4 869.6 C828.8 871.1 829.6 873.2 832.9 874.7 C836.2 876.2 840.8 878.4 845.4 878.9 C850.0 879.4 855.9 878.7 860.5 877.7 C865.1 876.7 868.8 874.4 873.0 872.7 C877.2 871.0 882.2 868.2 885.6 867.6 C889.0 867.0 890.2 867.9 893.1 868.9 C896.0 869.9 899.4 872.4 903.2 873.9 C907.0 875.4 911.1 877.4 915.7 877.7 C920.3 878.0 925.8 876.3 930.8 875.7 C935.8 875.1 941.2 873.6 945.8 873.9 C950.4 874.2 954.2 876.3 958.4 877.7 C962.6 879.1 966.3 880.5 970.9 882.2 C975.5 884.0 981.0 886.5 986.0 888.2 C991.0 890.0 996.9 891.5 1001.1 892.7 C1005.3 893.9 1007.3 895.1 1011.1 895.2 C1014.9 895.3 1019.5 893.5 1023.7 893.2 C1027.9 892.9 1032.5 892.7 1036.2 893.2 C1040.0 893.8 1042.8 895.5 1046.2 896.5 C1049.6 897.5 1053.9 898.6 1056.7 899.1 C1059.5 899.6 1061.1 899.4 1063.3 899.3 C1065.5 899.2 1067.8 899.0 1070.0 898.7 C1072.2 898.4 1074.5 897.9 1076.7 897.3 C1078.9 896.7 1081.1 896.5 1083.3 895.3 C1085.5 894.1 1087.8 892.1 1090.0 890.0 C1092.2 887.9 1094.5 885.6 1096.7 882.7 C1098.9 879.8 1101.1 875.7 1103.3 872.7 C1105.5 869.7 1107.8 867.3 1110.0 864.7 C1112.2 862.1 1114.5 859.0 1116.7 857.3 C1118.9 855.6 1121.1 855.1 1123.3 854.3 C1125.5 853.5 1127.8 852.9 1130.0 852.4 C1132.2 851.9 1134.5 851.3 1136.7 851.3 C1138.9 851.3 1141.5 852.1 1143.3 852.4 C1145.1 852.7 1145.5 853.6 1147.3 853.3 C1149.1 853.0 1151.8 851.8 1154.0 850.7 C1156.2 849.6 1158.5 848.7 1160.7 846.7 C1162.9 844.7 1164.6 841.4 1167.3 838.7 C1170.0 836.0 1174.0 832.8 1176.7 830.7 C1179.4 828.6 1181.5 827.3 1183.3 826.0 C1185.1 824.7 1186.0 823.8 1187.3 823.1 C1188.6 822.4 1189.7 822.5 1191.3 822.0 C1192.9 821.5 1195.1 820.4 1196.7 820.0 C1198.3 819.6 1200.0 819.7 1200.7 819.6" fill="none" stroke="#c0201f" stroke-width="1.15" stroke-linejoin="round" />
<path d="M111.8 857.1 C112.8 856.3 115.7 853.2 118.0 852.1 C120.3 851.0 123.1 851.1 125.6 850.6 C128.1 850.1 130.6 849.7 133.1 849.3 C135.6 848.9 138.1 847.5 140.6 848.1 C143.1 848.7 145.9 851.1 148.2 852.6 C150.5 854.1 152.7 856.5 154.4 857.1 C156.1 857.7 156.7 855.0 158.2 856.3 C159.7 857.6 161.1 861.3 163.2 865.1 C165.3 868.9 167.9 874.7 170.8 878.9 C173.7 883.1 177.5 886.6 180.8 890.2 C184.1 893.8 187.5 897.6 190.8 900.3 C194.2 903.0 197.6 904.8 200.9 906.5 C204.2 908.2 207.8 909.0 210.9 910.3 C214.0 911.6 216.8 914.1 219.7 914.1 C222.6 914.1 226.0 911.6 228.5 910.3 C231.0 909.0 232.1 906.8 234.8 906.5 C237.5 906.2 242.1 910.2 244.8 908.3 C247.5 906.4 248.6 899.9 251.1 895.2 C253.6 890.5 257.4 885.4 259.9 880.2 C262.4 875.0 264.0 867.2 266.1 863.9 C268.2 860.5 270.3 861.8 272.4 860.1 C274.5 858.4 276.4 854.8 278.7 853.8 C281.0 852.8 282.8 853.9 286.2 854.3 C289.6 854.7 295.0 856.8 298.8 856.3 C302.6 855.8 305.9 851.6 308.8 851.3 C311.7 851.0 313.8 854.2 316.3 854.6 C318.8 855.0 321.4 852.9 323.9 853.8 C326.4 854.7 328.0 857.6 331.4 860.1 C334.8 862.6 339.8 866.4 344.0 868.9 C348.2 871.4 353.2 873.1 356.5 875.2 C359.8 877.3 361.9 881.4 364.0 881.4 C366.1 881.4 367.1 876.7 369.0 875.2 C370.9 873.8 372.6 872.9 375.3 872.7 C378.0 872.5 382.3 872.9 385.4 873.9 C388.5 874.9 391.0 876.8 394.1 878.9 C397.2 881.0 401.7 884.0 404.2 886.5 C406.7 889.0 406.7 891.7 409.2 894.0 C411.7 896.3 415.7 897.8 419.2 900.3 C422.7 902.8 427.4 907.6 430.0 909.0 C432.6 910.4 433.0 909.0 435.1 908.5 C437.2 908.0 439.7 906.2 442.6 906.0 C445.5 905.8 449.2 907.5 452.6 907.3 C456.0 907.0 459.4 905.0 462.7 904.5 C466.0 904.0 469.8 904.7 472.7 904.5 C475.6 904.3 477.3 902.6 480.2 903.3 C483.1 904.0 486.1 906.9 490.3 908.5 C494.5 910.1 501.1 912.3 505.3 912.8 C509.5 913.3 512.0 912.4 515.4 911.6 C518.8 910.9 522.0 910.0 525.4 908.3 C528.8 906.6 532.1 904.1 535.5 901.5 C538.9 898.9 542.2 895.3 545.5 892.7 C548.8 890.1 552.1 886.7 555.5 885.7 C558.9 884.7 563.1 886.5 565.6 886.5 C568.1 886.5 568.9 885.6 570.6 885.7 C572.3 885.8 573.1 886.7 575.6 887.2 C578.1 887.8 582.4 887.9 585.7 889.0 C589.1 890.1 592.4 892.0 595.7 894.0 C599.0 896.0 602.4 898.8 605.7 900.8 C609.1 902.8 612.4 904.2 615.8 906.0 C619.1 907.8 622.9 910.6 625.8 911.6 C628.7 912.6 630.9 912.7 633.4 912.1 C635.9 911.5 638.4 909.1 640.9 907.8 C643.4 906.4 645.5 906.1 648.4 904.0 C651.3 901.9 655.8 897.0 658.5 895.2 C661.2 893.4 662.2 893.3 664.7 893.2 C667.2 893.1 670.4 894.2 673.5 894.7 C676.6 895.2 680.7 895.4 683.6 896.0 C686.5 896.6 688.6 898.5 691.1 898.3 C693.6 898.1 696.1 895.4 698.6 894.7 C701.1 894.0 703.5 893.9 706.2 894.0 C708.9 894.1 712.0 892.9 714.9 895.2 C717.8 897.5 720.8 903.6 723.7 907.8 C726.6 912.0 729.1 917.2 732.5 920.3 C735.9 923.4 740.9 926.4 743.8 926.6 C746.7 926.8 747.8 923.6 750.1 921.6 C752.4 919.6 755.1 918.8 757.6 914.8 C760.1 910.8 763.0 901.9 765.1 897.8 C767.2 893.7 768.0 894.0 770.1 890.2 C772.2 886.4 774.8 879.2 777.7 875.2 C780.6 871.2 784.4 869.0 787.7 866.4 C791.1 863.8 794.4 860.0 797.8 859.3 C801.1 858.6 805.3 861.3 807.8 862.1 C810.3 862.9 810.7 862.4 812.8 863.9 C814.9 865.4 817.8 868.9 820.3 871.4 C822.8 873.9 825.0 876.9 827.9 878.9 C830.8 880.9 835.0 882.8 837.9 883.2 C840.8 883.6 842.9 882.1 845.4 881.4 C847.9 880.7 850.5 879.5 853.0 878.9 C855.5 878.3 857.6 879.6 860.5 877.7 C863.4 875.8 867.6 870.2 870.5 867.6 C873.4 865.0 875.6 862.3 878.1 862.1 C880.6 861.9 883.3 865.3 885.6 866.4 C887.9 867.5 889.4 866.3 891.9 868.9 C894.4 871.5 898.0 880.4 900.7 882.2 C903.4 884.0 905.7 880.0 908.2 879.7 C910.7 879.4 913.2 880.3 915.7 880.2 C918.2 880.1 920.8 879.6 923.3 878.9 C925.8 878.1 928.7 876.8 930.8 875.7 C932.9 874.6 933.7 872.6 935.8 872.1 C937.9 871.6 940.8 871.8 943.3 872.7 C945.8 873.6 948.4 876.0 950.9 877.7 C953.4 879.4 955.5 881.1 958.4 882.7 C961.3 884.3 965.9 886.6 968.4 887.2 C970.9 887.8 971.0 885.6 973.5 886.5 C976.0 887.4 980.2 891.3 983.5 892.7 C986.8 894.1 990.1 894.0 993.5 894.7 C996.9 895.5 1001.1 897.0 1003.6 897.2 C1006.1 897.4 1006.1 896.7 1008.6 895.7 C1011.1 894.8 1015.2 892.0 1018.6 891.5 C1022.0 891.0 1025.8 892.4 1028.7 892.7 C1031.6 893.0 1033.5 891.9 1036.2 893.2 C1038.9 894.5 1042.0 898.8 1045.0 900.3 C1048.0 901.8 1051.4 902.0 1054.0 902.0 C1056.6 902.0 1058.5 900.8 1060.7 900.0 C1062.9 899.2 1065.1 898.2 1067.3 897.3 C1069.5 896.4 1071.3 895.6 1074.0 894.7 C1076.7 893.8 1080.6 894.6 1083.3 892.0 C1086.0 889.4 1087.8 883.6 1090.0 879.3 C1092.2 875.0 1094.9 869.2 1096.7 866.0 C1098.5 862.8 1099.2 862.9 1100.7 860.0 C1102.2 857.1 1103.8 851.0 1106.0 848.7 C1108.2 846.4 1111.8 846.6 1114.0 846.3 C1116.2 846.0 1117.3 846.4 1119.3 847.1 C1121.3 847.8 1124.2 850.1 1126.0 850.3 C1127.8 850.5 1128.8 848.7 1130.0 848.4 C1131.2 848.1 1132.0 848.0 1133.3 848.7 C1134.6 849.4 1136.3 851.5 1138.0 852.4 C1139.7 853.3 1141.8 854.0 1143.3 854.3 C1144.8 854.6 1146.0 855.0 1147.3 854.3 C1148.6 853.6 1149.1 853.0 1151.3 850.0 C1153.5 847.0 1158.7 838.7 1160.7 836.0 C1162.7 833.3 1162.2 835.5 1163.3 834.0 C1164.4 832.5 1165.6 829.5 1167.3 827.3 C1169.0 825.1 1171.8 822.0 1173.3 820.7 C1174.8 819.4 1174.8 820.2 1176.0 819.3 C1177.2 818.4 1179.5 815.4 1180.7 815.1 C1181.9 814.8 1182.4 817.2 1183.3 817.3 C1184.2 817.4 1184.9 816.1 1186.0 815.6 C1187.1 815.1 1188.8 814.2 1190.0 814.3 C1191.2 814.4 1192.1 815.8 1193.3 816.4 C1194.5 817.0 1196.1 817.4 1197.3 818.0 C1198.5 818.6 1200.1 819.7 1200.7 820.0" fill="none" stroke="#22bb22" stroke-width="1.15" stroke-linejoin="round" />
</g>
<line x1="265.5" y1="43" x2="265.5" y2="934" stroke="#9ba8b3" stroke-width="1.1" stroke-dasharray="5 6"/>
<line x1="110.5" y1="42" x2="110.5" y2="934.5" stroke="#8a877f" stroke-width="1.2"/>
<line x1="1219.5" y1="42" x2="1219.5" y2="934.5" stroke="#8a877f" stroke-width="1.2"/>
<line x1="57" y1="680.5" x2="1273" y2="680.5" stroke="#8a877f" stroke-width="1.4"/>
<line x1="57" y1="807.5" x2="1273" y2="807.5" stroke="#8a877f" stroke-width="1.4"/>
<line x1="110" y1="934.5" x2="1220" y2="934.5" stroke="#8a877f" stroke-width="1.2"/>
<line x1="107" y1="666.5" x2="110" y2="666.5" stroke="#8a877f" stroke-width="1"/>
<line x1="1220" y1="666.5" x2="1223" y2="666.5" stroke="#8a877f" stroke-width="1"/>
<text x="103.5" y="671.0" font-size="11" fill="#b9bdc9" text-anchor="end" font-weight="normal" textLength="39.5" lengthAdjust="spacingAndGlyphs" stroke="#b9bdc9" stroke-width="0.3">1760.00</text>
<text x="1227" y="671.0" font-size="11" fill="#b9bdc9" text-anchor="start" font-weight="normal" textLength="39.5" lengthAdjust="spacingAndGlyphs" stroke="#b9bdc9" stroke-width="0.3">1760.00</text>
<line x1="107" y1="631.5" x2="110" y2="631.5" stroke="#8a877f" stroke-width="1"/>
<line x1="1220" y1="631.5" x2="1223" y2="631.5" stroke="#8a877f" stroke-width="1"/>
<text x="103.5" y="635.7" font-size="11" fill="#b9bdc9" text-anchor="end" font-weight="normal" textLength="39.5" lengthAdjust="spacingAndGlyphs" stroke="#b9bdc9" stroke-width="0.3">1800.00</text>
<text x="1227" y="635.7" font-size="11" fill="#b9bdc9" text-anchor="start" font-weight="normal" textLength="39.5" lengthAdjust="spacingAndGlyphs" stroke="#b9bdc9" stroke-width="0.3">1800.00</text>
<line x1="107" y1="595.5" x2="110" y2="595.5" stroke="#8a877f" stroke-width="1"/>
<line x1="1220" y1="595.5" x2="1223" y2="595.5" stroke="#8a877f" stroke-width="1"/>
<text x="103.5" y="600.4" font-size="11" fill="#b9bdc9" text-anchor="end" font-weight="normal" textLength="39.5" lengthAdjust="spacingAndGlyphs" stroke="#b9bdc9" stroke-width="0.3">1840.00</text>
<text x="1227" y="600.4" font-size="11" fill="#b9bdc9" text-anchor="start" font-weight="normal" textLength="39.5" lengthAdjust="spacingAndGlyphs" stroke="#b9bdc9" stroke-width="0.3">1840.00</text>
<line x1="107" y1="560.5" x2="110" y2="560.5" stroke="#8a877f" stroke-width="1"/>
<line x1="1220" y1="560.5" x2="1223" y2="560.5" stroke="#8a877f" stroke-width="1"/>
<text x="103.5" y="565.1" font-size="11" fill="#b9bdc9" text-anchor="end" font-weight="normal" textLength="39.5" lengthAdjust="spacingAndGlyphs" stroke="#b9bdc9" stroke-width="0.3">1880.00</text>
<text x="1227" y="565.1" font-size="11" fill="#b9bdc9" text-anchor="start" font-weight="normal" textLength="39.5" lengthAdjust="spacingAndGlyphs" stroke="#b9bdc9" stroke-width="0.3">1880.00</text>
<line x1="107" y1="525.5" x2="110" y2="525.5" stroke="#8a877f" stroke-width="1"/>
<line x1="1220" y1="525.5" x2="1223" y2="525.5" stroke="#8a877f" stroke-width="1"/>
<text x="103.5" y="529.8" font-size="11" fill="#b9bdc9" text-anchor="end" font-weight="normal" textLength="39.5" lengthAdjust="spacingAndGlyphs" stroke="#b9bdc9" stroke-width="0.3">1920.00</text>
<text x="1227" y="529.8" font-size="11" fill="#b9bdc9" text-anchor="start" font-weight="normal" textLength="39.5" lengthAdjust="spacingAndGlyphs" stroke="#b9bdc9" stroke-width="0.3">1920.00</text>
<line x1="107" y1="489.5" x2="110" y2="489.5" stroke="#8a877f" stroke-width="1"/>
<line x1="1220" y1="489.5" x2="1223" y2="489.5" stroke="#8a877f" stroke-width="1"/>
<text x="103.5" y="494.5" font-size="11" fill="#b9bdc9" text-anchor="end" font-weight="normal" textLength="39.5" lengthAdjust="spacingAndGlyphs" stroke="#b9bdc9" stroke-width="0.3">1960.00</text>
<text x="1227" y="494.5" font-size="11" fill="#b9bdc9" text-anchor="start" font-weight="normal" textLength="39.5" lengthAdjust="spacingAndGlyphs" stroke="#b9bdc9" stroke-width="0.3">1960.00</text>
<line x1="107" y1="454.5" x2="110" y2="454.5" stroke="#8a877f" stroke-width="1"/>
<line x1="1220" y1="454.5" x2="1223" y2="454.5" stroke="#8a877f" stroke-width="1"/>
<text x="103.5" y="459.2" font-size="11" fill="#b9bdc9" text-anchor="end" font-weight="normal" textLength="39.5" lengthAdjust="spacingAndGlyphs" stroke="#b9bdc9" stroke-width="0.3">2000.00</text>
<text x="1227" y="459.2" font-size="11" fill="#b9bdc9" text-anchor="start" font-weight="normal" textLength="39.5" lengthAdjust="spacingAndGlyphs" stroke="#b9bdc9" stroke-width="0.3">2000.00</text>
<line x1="107" y1="419.5" x2="110" y2="419.5" stroke="#8a877f" stroke-width="1"/>
<line x1="1220" y1="419.5" x2="1223" y2="419.5" stroke="#8a877f" stroke-width="1"/>
<text x="103.5" y="423.9" font-size="11" fill="#b9bdc9" text-anchor="end" font-weight="normal" textLength="39.5" lengthAdjust="spacingAndGlyphs" stroke="#b9bdc9" stroke-width="0.3">2040.00</text>
<text x="1227" y="423.9" font-size="11" fill="#b9bdc9" text-anchor="start" font-weight="normal" textLength="39.5" lengthAdjust="spacingAndGlyphs" stroke="#b9bdc9" stroke-width="0.3">2040.00</text>
<line x1="107" y1="384.5" x2="110" y2="384.5" stroke="#8a877f" stroke-width="1"/>
<line x1="1220" y1="384.5" x2="1223" y2="384.5" stroke="#8a877f" stroke-width="1"/>
<text x="103.5" y="388.6" font-size="11" fill="#b9bdc9" text-anchor="end" font-weight="normal" textLength="39.5" lengthAdjust="spacingAndGlyphs" stroke="#b9bdc9" stroke-width="0.3">2080.00</text>
<text x="1227" y="388.6" font-size="11" fill="#b9bdc9" text-anchor="start" font-weight="normal" textLength="39.5" lengthAdjust="spacingAndGlyphs" stroke="#b9bdc9" stroke-width="0.3">2080.00</text>
<line x1="107" y1="348.5" x2="110" y2="348.5" stroke="#8a877f" stroke-width="1"/>
<line x1="1220" y1="348.5" x2="1223" y2="348.5" stroke="#8a877f" stroke-width="1"/>
<text x="103.5" y="353.4" font-size="11" fill="#b9bdc9" text-anchor="end" font-weight="normal" textLength="39.5" lengthAdjust="spacingAndGlyphs" stroke="#b9bdc9" stroke-width="0.3">2120.00</text>
<text x="1227" y="353.4" font-size="11" fill="#b9bdc9" text-anchor="start" font-weight="normal" textLength="39.5" lengthAdjust="spacingAndGlyphs" stroke="#b9bdc9" stroke-width="0.3">2120.00</text>
<line x1="107" y1="313.5" x2="110" y2="313.5" stroke="#8a877f" stroke-width="1"/>
<line x1="1220" y1="313.5" x2="1223" y2="313.5" stroke="#8a877f" stroke-width="1"/>
<text x="103.5" y="318.1" font-size="11" fill="#b9bdc9" text-anchor="end" font-weight="normal" textLength="39.5" lengthAdjust="spacingAndGlyphs" stroke="#b9bdc9" stroke-width="0.3">2160.00</text>
<text x="1227" y="318.1" font-size="11" fill="#b9bdc9" text-anchor="start" font-weight="normal" textLength="39.5" lengthAdjust="spacingAndGlyphs" stroke="#b9bdc9" stroke-width="0.3">2160.00</text>
<line x1="107" y1="278.5" x2="110" y2="278.5" stroke="#8a877f" stroke-width="1"/>
<line x1="1220" y1="278.5" x2="1223" y2="278.5" stroke="#8a877f" stroke-width="1"/>
<text x="103.5" y="282.8" font-size="11" fill="#b9bdc9" text-anchor="end" font-weight="normal" textLength="39.5" lengthAdjust="spacingAndGlyphs" stroke="#b9bdc9" stroke-width="0.3">2200.00</text>
<text x="1227" y="282.8" font-size="11" fill="#b9bdc9" text-anchor="start" font-weight="normal" textLength="39.5" lengthAdjust="spacingAndGlyphs" stroke="#b9bdc9" stroke-width="0.3">2200.00</text>
<line x1="107" y1="242.5" x2="110" y2="242.5" stroke="#8a877f" stroke-width="1"/>
<line x1="1220" y1="242.5" x2="1223" y2="242.5" stroke="#8a877f" stroke-width="1"/>
<text x="103.5" y="247.5" font-size="11" fill="#b9bdc9" text-anchor="end" font-weight="normal" textLength="39.5" lengthAdjust="spacingAndGlyphs" stroke="#b9bdc9" stroke-width="0.3">2240.00</text>
<text x="1227" y="247.5" font-size="11" fill="#b9bdc9" text-anchor="start" font-weight="normal" textLength="39.5" lengthAdjust="spacingAndGlyphs" stroke="#b9bdc9" stroke-width="0.3">2240.00</text>
<line x1="107" y1="207.5" x2="110" y2="207.5" stroke="#8a877f" stroke-width="1"/>
<line x1="1220" y1="207.5" x2="1223" y2="207.5" stroke="#8a877f" stroke-width="1"/>
<text x="103.5" y="212.2" font-size="11" fill="#b9bdc9" text-anchor="end" font-weight="normal" textLength="39.5" lengthAdjust="spacingAndGlyphs" stroke="#b9bdc9" stroke-width="0.3">2280.00</text>
<text x="1227" y="212.2" font-size="11" fill="#b9bdc9" text-anchor="start" font-weight="normal" textLength="39.5" lengthAdjust="spacingAndGlyphs" stroke="#b9bdc9" stroke-width="0.3">2280.00</text>
<line x1="107" y1="172.5" x2="110" y2="172.5" stroke="#8a877f" stroke-width="1"/>
<line x1="1220" y1="172.5" x2="1223" y2="172.5" stroke="#8a877f" stroke-width="1"/>
<text x="103.5" y="176.9" font-size="11" fill="#b9bdc9" text-anchor="end" font-weight="normal" textLength="39.5" lengthAdjust="spacingAndGlyphs" stroke="#b9bdc9" stroke-width="0.3">2320.00</text>
<text x="1227" y="176.9" font-size="11" fill="#b9bdc9" text-anchor="start" font-weight="normal" textLength="39.5" lengthAdjust="spacingAndGlyphs" stroke="#b9bdc9" stroke-width="0.3">2320.00</text>
<line x1="107" y1="136.5" x2="110" y2="136.5" stroke="#8a877f" stroke-width="1"/>
<line x1="1220" y1="136.5" x2="1223" y2="136.5" stroke="#8a877f" stroke-width="1"/>
<text x="103.5" y="141.6" font-size="11" fill="#b9bdc9" text-anchor="end" font-weight="normal" textLength="39.5" lengthAdjust="spacingAndGlyphs" stroke="#b9bdc9" stroke-width="0.3">2360.00</text>
<text x="1227" y="141.6" font-size="11" fill="#b9bdc9" text-anchor="start" font-weight="normal" textLength="39.5" lengthAdjust="spacingAndGlyphs" stroke="#b9bdc9" stroke-width="0.3">2360.00</text>
<line x1="107" y1="101.5" x2="110" y2="101.5" stroke="#8a877f" stroke-width="1"/>
<line x1="1220" y1="101.5" x2="1223" y2="101.5" stroke="#8a877f" stroke-width="1"/>
<text x="103.5" y="106.3" font-size="11" fill="#b9bdc9" text-anchor="end" font-weight="normal" textLength="39.5" lengthAdjust="spacingAndGlyphs" stroke="#b9bdc9" stroke-width="0.3">2400.00</text>
<text x="1227" y="106.3" font-size="11" fill="#b9bdc9" text-anchor="start" font-weight="normal" textLength="39.5" lengthAdjust="spacingAndGlyphs" stroke="#b9bdc9" stroke-width="0.3">2400.00</text>
<line x1="107" y1="66.5" x2="110" y2="66.5" stroke="#8a877f" stroke-width="1"/>
<line x1="1220" y1="66.5" x2="1223" y2="66.5" stroke="#8a877f" stroke-width="1"/>
<text x="103.5" y="71.0" font-size="11" fill="#b9bdc9" text-anchor="end" font-weight="normal" textLength="39.5" lengthAdjust="spacingAndGlyphs" stroke="#b9bdc9" stroke-width="0.3">2440.00</text>
<text x="1227" y="71.0" font-size="11" fill="#b9bdc9" text-anchor="start" font-weight="normal" textLength="39.5" lengthAdjust="spacingAndGlyphs" stroke="#b9bdc9" stroke-width="0.3">2440.00</text>
<line x1="107" y1="695.5" x2="110" y2="695.5" stroke="#8a877f" stroke-width="1"/>
<line x1="1220" y1="695.5" x2="1223" y2="695.5" stroke="#8a877f" stroke-width="1"/>
<text x="103.5" y="700.4" font-size="11" fill="#b9bdc9" text-anchor="end" font-weight="normal" textLength="40" lengthAdjust="spacingAndGlyphs" stroke="#b9bdc9" stroke-width="0.3">80.0000</text>
<text x="1226.5" y="700.4" font-size="11" fill="#b9bdc9" text-anchor="start" font-weight="normal" textLength="40" lengthAdjust="spacingAndGlyphs" stroke="#b9bdc9" stroke-width="0.3">80.0000</text>
<line x1="107" y1="730.5" x2="110" y2="730.5" stroke="#8a877f" stroke-width="1"/>
<line x1="1220" y1="730.5" x2="1223" y2="730.5" stroke="#8a877f" stroke-width="1"/>
<text x="103.5" y="734.8" font-size="11" fill="#b9bdc9" text-anchor="end" font-weight="normal" textLength="40" lengthAdjust="spacingAndGlyphs" stroke="#b9bdc9" stroke-width="0.3">60.0000</text>
<text x="1226.5" y="734.8" font-size="11" fill="#b9bdc9" text-anchor="start" font-weight="normal" textLength="40" lengthAdjust="spacingAndGlyphs" stroke="#b9bdc9" stroke-width="0.3">60.0000</text>
<line x1="107" y1="764.5" x2="110" y2="764.5" stroke="#8a877f" stroke-width="1"/>
<line x1="1220" y1="764.5" x2="1223" y2="764.5" stroke="#8a877f" stroke-width="1"/>
<text x="103.5" y="769.2" font-size="11" fill="#b9bdc9" text-anchor="end" font-weight="normal" textLength="40" lengthAdjust="spacingAndGlyphs" stroke="#b9bdc9" stroke-width="0.3">40.0000</text>
<text x="1226.5" y="769.2" font-size="11" fill="#b9bdc9" text-anchor="start" font-weight="normal" textLength="40" lengthAdjust="spacingAndGlyphs" stroke="#b9bdc9" stroke-width="0.3">40.0000</text>
<line x1="107" y1="799.5" x2="110" y2="799.5" stroke="#8a877f" stroke-width="1"/>
<line x1="1220" y1="799.5" x2="1223" y2="799.5" stroke="#8a877f" stroke-width="1"/>
<text x="103.5" y="803.6" font-size="11" fill="#b9bdc9" text-anchor="end" font-weight="normal" textLength="40" lengthAdjust="spacingAndGlyphs" stroke="#b9bdc9" stroke-width="0.3">20.0000</text>
<text x="1226.5" y="803.6" font-size="11" fill="#b9bdc9" text-anchor="start" font-weight="normal" textLength="40" lengthAdjust="spacingAndGlyphs" stroke="#b9bdc9" stroke-width="0.3">20.0000</text>
<line x1="107" y1="833.5" x2="110" y2="833.5" stroke="#8a877f" stroke-width="1"/>
<line x1="1220" y1="833.5" x2="1223" y2="833.5" stroke="#8a877f" stroke-width="1"/>
<text x="103.5" y="838.4" font-size="11" fill="#b9bdc9" text-anchor="end" font-weight="normal" textLength="40" lengthAdjust="spacingAndGlyphs" stroke="#b9bdc9" stroke-width="0.3">50.0000</text>
<text x="1226.5" y="838.4" font-size="11" fill="#b9bdc9" text-anchor="start" font-weight="normal" textLength="40" lengthAdjust="spacingAndGlyphs" stroke="#b9bdc9" stroke-width="0.3">50.0000</text>
<line x1="107" y1="864.5" x2="110" y2="864.5" stroke="#8a877f" stroke-width="1"/>
<line x1="1220" y1="864.5" x2="1223" y2="864.5" stroke="#8a877f" stroke-width="1"/>
<text x="103.5" y="868.8" font-size="11" fill="#b9bdc9" text-anchor="end" font-weight="normal" textLength="40" lengthAdjust="spacingAndGlyphs" stroke="#b9bdc9" stroke-width="0.3">25.0000</text>
<text x="1226.5" y="868.8" font-size="11" fill="#b9bdc9" text-anchor="start" font-weight="normal" textLength="40" lengthAdjust="spacingAndGlyphs" stroke="#b9bdc9" stroke-width="0.3">25.0000</text>
<line x1="107" y1="894.5" x2="110" y2="894.5" stroke="#8a877f" stroke-width="1"/>
<line x1="1220" y1="894.5" x2="1223" y2="894.5" stroke="#8a877f" stroke-width="1"/>
<text x="103.5" y="899.1" font-size="11" fill="#b9bdc9" text-anchor="end" font-weight="normal" textLength="33.5" lengthAdjust="spacingAndGlyphs" stroke="#b9bdc9" stroke-width="0.3">0.0000</text>
<text x="1226.5" y="899.1" font-size="11" fill="#b9bdc9" text-anchor="start" font-weight="normal" textLength="33.5" lengthAdjust="spacingAndGlyphs" stroke="#b9bdc9" stroke-width="0.3">0.0000</text>
<line x1="107" y1="924.5" x2="110" y2="924.5" stroke="#8a877f" stroke-width="1"/>
<line x1="1220" y1="924.5" x2="1223" y2="924.5" stroke="#8a877f" stroke-width="1"/>
<text x="103.5" y="929.4" font-size="11" fill="#b9bdc9" text-anchor="end" font-weight="normal" textLength="44" lengthAdjust="spacingAndGlyphs" stroke="#b9bdc9" stroke-width="0.3">-25.0000</text>
<text x="1226" y="929.4" font-size="11" fill="#b9bdc9" text-anchor="start" font-weight="normal" textLength="44" lengthAdjust="spacingAndGlyphs" stroke="#b9bdc9" stroke-width="0.3">-25.0000</text>
<rect x="61" y="71" width="49.5" height="17" fill="#4b505d"/>
<text x="64" y="83.7" font-size="11.8" fill="#ffffff" text-anchor="start" font-weight="bold" textLength="39.5" lengthAdjust="spacingAndGlyphs" >2425.76</text>
<rect x="1219.5" y="71" width="50.5" height="17" fill="#4b505d"/>
<text x="1227" y="83.7" font-size="11.8" fill="#ffffff" text-anchor="start" font-weight="bold" textLength="39.5" lengthAdjust="spacingAndGlyphs" >2425.76</text>
<line x1="107" y1="79.5" x2="110" y2="79.5" stroke="#ffffff" stroke-width="1.2"/>
<line x1="1220" y1="79.5" x2="1223" y2="79.5" stroke="#ffffff" stroke-width="1.2"/>
<rect x="61" y="110" width="49.5" height="17" fill="#e065a5"/>
<text x="64" y="122.7" font-size="11.8" fill="#ffffff" text-anchor="start" font-weight="bold" textLength="39.5" lengthAdjust="spacingAndGlyphs" >2381.53</text>
<rect x="1219.5" y="110" width="50.5" height="17" fill="#e065a5"/>
<text x="1227" y="122.7" font-size="11.8" fill="#ffffff" text-anchor="start" font-weight="bold" textLength="39.5" lengthAdjust="spacingAndGlyphs" >2381.53</text>
<line x1="107" y1="118.5" x2="110" y2="118.5" stroke="#ffffff" stroke-width="1.2"/>
<line x1="1220" y1="118.5" x2="1223" y2="118.5" stroke="#ffffff" stroke-width="1.2"/>
<rect x="61" y="503" width="49.5" height="17" fill="#ff0000"/>
<text x="64" y="515.7" font-size="11.8" fill="#ffffff" text-anchor="start" font-weight="bold" textLength="39.5" lengthAdjust="spacingAndGlyphs" >1935.21</text>
<rect x="1219.5" y="503" width="50.5" height="17" fill="#ff0000"/>
<text x="1227" y="515.7" font-size="11.8" fill="#ffffff" text-anchor="start" font-weight="bold" textLength="39.5" lengthAdjust="spacingAndGlyphs" >1935.21</text>
<line x1="107" y1="511.5" x2="110" y2="511.5" stroke="#ffffff" stroke-width="1.2"/>
<line x1="1220" y1="511.5" x2="1223" y2="511.5" stroke="#ffffff" stroke-width="1.2"/>
<rect x="61" y="521" width="49.5" height="17" fill="#ff0000"/>
<text x="64" y="533.7" font-size="11.8" fill="#ffffff" text-anchor="start" font-weight="bold" textLength="39.5" lengthAdjust="spacingAndGlyphs" >1915.21</text>
<rect x="1219.5" y="521" width="50.5" height="17" fill="#ff0000"/>
<text x="1227" y="533.7" font-size="11.8" fill="#ffffff" text-anchor="start" font-weight="bold" textLength="39.5" lengthAdjust="spacingAndGlyphs" >1915.21</text>
<line x1="107" y1="529.5" x2="110" y2="529.5" stroke="#ffffff" stroke-width="1.2"/>
<line x1="1220" y1="529.5" x2="1223" y2="529.5" stroke="#ffffff" stroke-width="1.2"/>
<rect x="61" y="628" width="49.5" height="17" fill="#80cfdf"/>
<text x="64" y="640.7" font-size="11.8" fill="#1b2430" text-anchor="start" font-weight="normal" textLength="39.5" lengthAdjust="spacingAndGlyphs" >1793.77</text>
<rect x="1219.5" y="628" width="50.5" height="17" fill="#80cfdf"/>
<text x="1227" y="640.7" font-size="11.8" fill="#1b2430" text-anchor="start" font-weight="normal" textLength="39.5" lengthAdjust="spacingAndGlyphs" >1793.77</text>
<line x1="107" y1="636.5" x2="110" y2="636.5" stroke="#1b2430" stroke-width="1.2"/>
<line x1="1220" y1="636.5" x2="1223" y2="636.5" stroke="#1b2430" stroke-width="1.2"/>
<line x1="225.5" y1="934" x2="225.5" y2="938" stroke="#8a877f" stroke-width="1"/>
<text x="225.5" y="952" font-size="12" fill="#b9bdc9" text-anchor="middle" font-weight="normal" textLength="19" lengthAdjust="spacingAndGlyphs" stroke="#b9bdc9" stroke-width="0.3">Mar</text>
<line x1="301.5" y1="934" x2="301.5" y2="938" stroke="#8a877f" stroke-width="1"/>
<text x="301.4" y="952" font-size="12" fill="#b9bdc9" text-anchor="middle" font-weight="normal" textLength="19" lengthAdjust="spacingAndGlyphs" stroke="#b9bdc9" stroke-width="0.3">Apr</text>
<line x1="441.5" y1="934" x2="441.5" y2="938" stroke="#8a877f" stroke-width="1"/>
<text x="441.2" y="952" font-size="12" fill="#b9bdc9" text-anchor="middle" font-weight="normal" textLength="20" lengthAdjust="spacingAndGlyphs" stroke="#b9bdc9" stroke-width="0.3">Jun</text>
<line x1="584.5" y1="934" x2="584.5" y2="938" stroke="#8a877f" stroke-width="1"/>
<text x="584.2" y="952" font-size="12" fill="#b9bdc9" text-anchor="middle" font-weight="normal" textLength="21" lengthAdjust="spacingAndGlyphs" stroke="#b9bdc9" stroke-width="0.3">Aug</text>
<line x1="661.5" y1="934" x2="661.5" y2="938" stroke="#8a877f" stroke-width="1"/>
<text x="661.5" y="952" font-size="12" fill="#b9bdc9" text-anchor="middle" font-weight="normal" textLength="20" lengthAdjust="spacingAndGlyphs" stroke="#b9bdc9" stroke-width="0.3">Sep</text>
<line x1="804.5" y1="934" x2="804.5" y2="938" stroke="#8a877f" stroke-width="1"/>
<text x="804.5" y="952" font-size="12" fill="#b9bdc9" text-anchor="middle" font-weight="normal" textLength="21" lengthAdjust="spacingAndGlyphs" stroke="#b9bdc9" stroke-width="0.3">Nov</text>
<line x1="944.5" y1="934" x2="944.5" y2="938" stroke="#8a877f" stroke-width="1"/>
<text x="944.3" y="952" font-size="12" fill="#b9bdc9" text-anchor="middle" font-weight="bold" textLength="27" lengthAdjust="spacingAndGlyphs" stroke="#b9bdc9" stroke-width="0.3">2024</text>
<line x1="1087.5" y1="934" x2="1087.5" y2="938" stroke="#8a877f" stroke-width="1"/>
<text x="1087.4" y="952" font-size="12" fill="#b9bdc9" text-anchor="middle" font-weight="normal" textLength="19" lengthAdjust="spacingAndGlyphs" stroke="#b9bdc9" stroke-width="0.3">Mar</text>
<line x1="1164.5" y1="934" x2="1164.5" y2="938" stroke="#8a877f" stroke-width="1"/>
<text x="1164.4" y="952" font-size="12" fill="#b9bdc9" text-anchor="middle" font-weight="normal" textLength="6.5" lengthAdjust="spacingAndGlyphs" stroke="#b9bdc9" stroke-width="0.3">4</text>
<rect x="234" y="934" width="61" height="22" fill="#4b505d"/>
<text x="264.7" y="950" font-size="12" fill="#ffffff" text-anchor="middle" font-weight="bold" textLength="49" lengthAdjust="spacingAndGlyphs" >17 Mar '23</text>
<rect x="15" y="8" width="22" height="22" rx="3" fill="#343849"/>
<path d="M19 19.5 H24 M29 19.5 H34 M26.5 12 V17 M26.5 22 V27" stroke="#3596bf" stroke-width="1.1"/>
<rect x="56" y="8" width="53" height="22" fill="#1e212c"/>
<text x="70.5" y="24" font-size="13" fill="#c3c8d4" text-anchor="start" font-weight="normal" textLength="9.5" lengthAdjust="spacingAndGlyphs" >D</text>
<path d="M93.5 17.5 L101 17.5 L97.25 21.5 Z" fill="#c8ccd6"/>
<rect x="115" y="8" width="53" height="22" fill="#1e212c"/>
<g stroke="#b9bdc9" stroke-width="1" fill="none"><rect x="130.5" y="13.5" width="3" height="12"/><line x1="132" y1="11" x2="132" y2="27"/><rect x="137.5" y="16.5" width="3" height="6"/><line x1="139" y1="14" x2="139" y2="25"/></g>
<path d="M153.5 17.5 L161 17.5 L157.25 21.5 Z" fill="#c8ccd6"/>
<g stroke="#a9aebb" stroke-width="1" fill="none"><circle cx="184" cy="23" r="2.3"/><circle cx="194" cy="23" r="2.3"/><circle cx="189" cy="13.5" r="1.8"/><path d="M184 20.5 L189 15.5 L194 20.5 M185 17.5 H193"/></g>
<text x="203" y="24" font-size="13" fill="#c3c8d4" text-anchor="start" font-weight="normal" textLength="52" lengthAdjust="spacingAndGlyphs" >Compare</text>
<path d="M276 21.5 L280 17.5 L284 20.5 L288.5 17.5" stroke="#a9aebb" stroke-width="1" fill="none"/>
<text x="296.5" y="24" font-size="13" fill="#c3c8d4" text-anchor="start" font-weight="normal" textLength="56.5" lengthAdjust="spacingAndGlyphs" >Indicators</text>
<rect x="1078" y="8" width="74" height="22" fill="#1e212c"/>
<text x="1083.5" y="24" font-size="12.8" fill="#c3c8d4" text-anchor="start" font-weight="normal" textLength="49.5" lengthAdjust="spacingAndGlyphs" >Sell Rate</text>
<path d="M1138 18 L1146 18 L1142 22.2 Z" fill="#c8ccd6"/>
<rect x="1169" y="10.8" width="17.5" height="15.5" rx="2" fill="none" stroke="#b8bdca" stroke-width="1.7"/>
<polygon points="1223.00,19.00 1221.17,21.14 1220.95,23.95 1218.14,24.17 1216.00,26.00 1213.86,24.17 1211.05,23.95 1210.83,21.14 1209.00,19.00 1210.83,16.86 1211.05,14.05 1213.86,13.83 1216.00,12.00 1218.14,13.83 1220.95,14.05 1221.17,16.86" fill="none" stroke="#8e93a1" stroke-width="1.2" stroke-linejoin="round"/>
<circle cx="1216" cy="19" r="2" fill="none" stroke="#8e93a1" stroke-width="1.2"/>
<g stroke="#a8adba" stroke-width="1.2" fill="none"><path d="M1250 14 L1254 18 M1250 14 H1252.5 M1250 14 V16.5"/><path d="M1260 14 L1256 18 M1260 14 H1257.5 M1260 14 V16.5"/><path d="M1250 24 L1254 20 M1250 24 H1252.5 M1250 24 V21.5"/><path d="M1260 24 L1256 20 M1260 24 H1257.5 M1260 24 V21.5"/></g>
<g stroke="#a3a8b5" stroke-width="1" fill="none"><line x1="21.5" y1="49.5" x2="31" y2="40"/><rect x="19.5" y="48.5" width="2.5" height="2.5"/><rect x="30.5" y="38.5" width="2.5" height="2.5"/></g>
<g stroke="#a3a8b5" stroke-width="1" fill="none"><path d="M21.8 68.2 L25.7 64.2 M21.8 75.5 L29.8 67.2 M29 75.5 L33 71.5 M21.8 70.8 L26.5 75.5"/><rect x="19.5" y="68.5" width="2.5" height="2.5"/><rect x="19.5" y="75.5" width="2.5" height="2.5"/><rect x="26.5" y="75.5" width="2.5" height="2.5"/><circle cx="24.2" cy="73" r="0.7" fill="#a3a8b5"/></g>
<g stroke="#a3a8b5" stroke-width="1" fill="none"><path d="M18.8 102.4 L23.5 96.8 C25.5 94.6 29.3 95.4 29 98.6 C28.7 101 26.6 102.4 24.2 102.4 Z M28.6 92.6 C27.4 93.6 27.8 95.6 29.6 96.4 L35 92"/></g>
<path d="M22.3 119.8 V117.8 H30.5 V119.8 M26.4 117.8 V128.7 M24.2 128.7 H28.6" stroke="#a3a8b5" stroke-width="1" fill="none"/>
<g stroke="#a3a8b5" stroke-width="1" fill="none"><path d="M20.6 153.5 L25 147.5 L30.3 144 M22.5 144.5 L25 147.5 L32.2 152 M25 147.5 L23.5 150 M30.3 144.5 L32.2 151.5"/><rect x="21.3" y="142.2" width="2.3" height="2.3"/><circle cx="30.3" cy="143.7" r="1.2"/><rect x="19.3" y="153.3" width="2.3" height="2.3"/><circle cx="32.4" cy="152.2" r="1.3"/><rect x="24" y="146.4" width="2.2" height="2.2"/></g>
<g stroke="#a3a8b5" stroke-width="1" fill="none"><path d="M20.8 169.4 H32.8 M20.8 176.1 H31.4 M20.8 180.8 H32.8 M26.1 171 V180 M24.6 172.5 L26.1 171 L27.6 172.5 M24.6 178.5 L26.1 180 L27.6 178.5"/><circle cx="19.6" cy="169.4" r="1.3"/><circle cx="19.6" cy="176.1" r="1.3"/><circle cx="19.6" cy="180.8" r="1.3"/><circle cx="32.8" cy="176.1" r="1.3"/></g>
<path d="M20.5 203 L26 197.5 L31.5 203 M26 198.5 V206.5" stroke="#a9c3e6" stroke-width="3" fill="none" stroke-linejoin="miter"/>
<g stroke="#a3a8b5" stroke-width="1" fill="none"><path d="M19.5 244 L30 233.5 L33.5 237 L23 247.5 Z M22 241.5 L23.5 243 M24.5 239 L26 240.5 M27 236.5 L28.5 238"/></g>
<g stroke="#a3a8b5" stroke-width="1" fill="none"><circle cx="25.5" cy="265" r="5.5"/><path d="M29.5 269 L33 272.5 M23 265 H28 M25.5 262.5 V267.5"/></g>
<g stroke="#a3a8b5" stroke-width="1" fill="none"><path d="M20.5 310 V304 A5.5 5.5 0 0 1 31.5 304 V310 M20.5 310 H23.5 V304 A2.5 2.5 0 0 1 28.5 304 V310 H31.5"/></g>
<g stroke="#a3a8b5" stroke-width="1" fill="none"><path d="M19 334 L27 326 L29 328 L21 336 L19 336 Z"/><rect x="28" y="331.5" width="5" height="4"/><path d="M29 331.5 V330 A1.5 1.5 0 0 1 32 330"/></g>
<g stroke="#a3a8b5" stroke-width="1" fill="none"><rect x="20.5" y="354" width="11" height="8"/><path d="M22.5 354 V350 A3.5 3.5 0 0 1 29 349"/><circle cx="26" cy="358" r="0.8" fill="#a3a8b5"/></g>
<g stroke="#a3a8b5" stroke-width="1" fill="none"><path d="M19 382.5 C22 377 30 377 33 382.5 C30 388 22 388 19 382.5 Z"/><circle cx="26" cy="382.5" r="2.2"/></g>
<g stroke="#a3a8b5" stroke-width="1" fill="none"><path d="M26 415 L33 419 L26 423 L19 419 Z M19 421.5 L26 425.5 L33 421.5 M19 424 L26 428 L33 424"/></g>
<g stroke="#a3a8b5" stroke-width="1" fill="none"><rect x="21.5" y="442" width="9" height="11" rx="1"/><path d="M20 442 H32 M24 440 H28 M24 444 V451 M26 444 V451 M28 444 V451"/></g>
<rect x="51.5" y="878.5" width="6.5" height="59" fill="#272b3a" stroke="#1e212c" stroke-width="1"/>
<path d="M56.5 904.5 L52.5 907.5 L56.5 910.5 Z" fill="#c3c8d4"/>
<g stroke="#a9aebb" stroke-width="1.1" fill="none"><circle cx="123.4" cy="61" r="6.3"/><path d="M120.3 59.7 L123.4 62.8 L126.5 59.7"/><rect x="137.3" y="55.3" width="12.3" height="11.3" rx="1"/><line x1="137.3" y1="61" x2="149.6" y2="61"/></g>
<text x="156.5" y="66.5" font-size="15.5" fill="#c9ced9" text-anchor="start" font-weight="normal" textLength="60" lengthAdjust="spacingAndGlyphs" >Gold, 1D</text>
<path d="M222 59.3 L229.8 59.3 L225.9 63.3 Z" fill="#c8ccd6"/>
<text x="244.5" y="66.8" font-size="14.5" fill="#b9bdc9" text-anchor="start" font-weight="normal" textLength="12" lengthAdjust="spacingAndGlyphs" >O</text>
<text x="259.3" y="66.8" font-size="14.5" fill="#2bd18c" text-anchor="start" font-weight="bold" textLength="53.5" lengthAdjust="spacingAndGlyphs" >1921.24</text>
<text x="323.4" y="66.8" font-size="14.5" fill="#b9bdc9" text-anchor="start" font-weight="normal" textLength="11" lengthAdjust="spacingAndGlyphs" >H</text>
<text x="336.7" y="66.8" font-size="14.5" fill="#2bd18c" text-anchor="start" font-weight="bold" textLength="53.5" lengthAdjust="spacingAndGlyphs" >1989.16</text>
<text x="400.7" y="66.8" font-size="14.5" fill="#b9bdc9" text-anchor="start" font-weight="normal" textLength="9" lengthAdjust="spacingAndGlyphs" >L</text>
<text x="410.7" y="66.8" font-size="14.5" fill="#2bd18c" text-anchor="start" font-weight="bold" textLength="53.5" lengthAdjust="spacingAndGlyphs" >1918.16</text>
<text x="474" y="66.8" font-size="14.5" fill="#b9bdc9" text-anchor="start" font-weight="normal" textLength="12" lengthAdjust="spacingAndGlyphs" >C</text>
<text x="486.8" y="66.8" font-size="14.5" fill="#2bd18c" text-anchor="start" font-weight="bold" textLength="53.5" lengthAdjust="spacingAndGlyphs" >1988.91</text>
<text x="117" y="86.3" font-size="12.7" fill="#c3c8d4" text-anchor="start" font-weight="normal" textLength="51" lengthAdjust="spacingAndGlyphs" >BB (20, 2)</text>
<path d="M172 79.8 L180 79.8 L176 83.8 Z" fill="#d0d4de"/>
<rect x="190" y="75" width="14" height="14" fill="#29a8df" opacity="1"/>
<rect x="207" y="75" width="14" height="14" fill="#5a6170" opacity="0.55"/>
<rect x="224" y="75" width="14" height="14" fill="#5a6170" opacity="0.55"/>
<g fill="none" stroke="#1d2a3a" stroke-width="1.5" opacity="1"><path d="M192 82 C194.5 78 199.5 78 202 82 C199.5 86 194.5 86 192 82 Z"/><circle cx="197" cy="82" r="1.4"/></g>
<circle cx="214" cy="82" r="3.6" fill="none" stroke="#2e3342" stroke-width="2.4" stroke-dasharray="1.6 1.2" opacity="0.9"/><circle cx="214" cy="82" r="2.6" fill="none" stroke="#2e3342" stroke-width="1.3"/>
<path d="M226.5 77.5 L235.5 86.5 M235.5 77.5 L226.5 86.5" stroke="#2e3342" stroke-width="1.3" opacity="0.9"/>
<text x="117.5" y="106.8" font-size="12.7" fill="#c3c8d4" text-anchor="start" font-weight="normal" textLength="92.5" lengthAdjust="spacingAndGlyphs" >EMA (21, close, 0)</text>
<path d="M214 100 L222 100 L218 104 Z" fill="#d0d4de"/>
<rect x="232" y="95" width="14" height="14" fill="#5a6170" opacity="0.55"/>
<rect x="249" y="95" width="14" height="14" fill="#5a6170" opacity="0.55"/>
<rect x="266" y="95" width="14" height="14" fill="#5a6170" opacity="0.55"/>
<g fill="none" stroke="#8c919e" stroke-width="1.5" opacity="0.6"><path d="M234 102 C236.5 98 241.5 98 244 102 C241.5 106 236.5 106 234 102 Z"/><circle cx="239" cy="102" r="1.4"/></g>
<circle cx="256" cy="102" r="3.6" fill="none" stroke="#2e3342" stroke-width="2.4" stroke-dasharray="1.6 1.2" opacity="0.9"/><circle cx="256" cy="102" r="2.6" fill="none" stroke="#2e3342" stroke-width="1.3"/>
<path d="M268.5 97.5 L277.5 106.5 M277.5 97.5 L268.5 106.5" stroke="#2e3342" stroke-width="1.3" opacity="0.9"/>
<text x="289.4" y="107" font-size="12.7" fill="#dd22dd" text-anchor="start" font-weight="normal" textLength="56.5" lengthAdjust="spacingAndGlyphs" >1877.0222</text>
<text x="117.5" y="127.8" font-size="12.7" fill="#c3c8d4" text-anchor="start" font-weight="normal" textLength="85.2" lengthAdjust="spacingAndGlyphs" >MA (50, close, 0)</text>
<path d="M207 121 L215 121 L211 125 Z" fill="#d0d4de"/>
<rect x="225" y="116" width="14" height="14" fill="#5a6170" opacity="0.55"/>
<rect x="242" y="116" width="14" height="14" fill="#5a6170" opacity="0.55"/>
<rect x="259" y="116" width="14" height="14" fill="#5a6170" opacity="0.55"/>
<g fill="none" stroke="#8c919e" stroke-width="1.5" opacity="0.6"><path d="M227 123 C229.5 119 234.5 119 237 123 C234.5 127 229.5 127 227 123 Z"/><circle cx="232" cy="123" r="1.4"/></g>
<circle cx="249" cy="123" r="3.6" fill="none" stroke="#2e3342" stroke-width="2.4" stroke-dasharray="1.6 1.2" opacity="0.9"/><circle cx="249" cy="123" r="2.6" fill="none" stroke="#2e3342" stroke-width="1.3"/>
<path d="M261.5 118.5 L270.5 127.5 M270.5 118.5 L261.5 127.5" stroke="#2e3342" stroke-width="1.3" opacity="0.9"/>
<text x="282.5" y="128" font-size="12.7" fill="#d8181f" text-anchor="start" font-weight="normal" textLength="57" lengthAdjust="spacingAndGlyphs" >1879.4640</text>
<text x="117.5" y="147.8" font-size="12.7" fill="#c3c8d4" text-anchor="start" font-weight="normal" textLength="92.5" lengthAdjust="spacingAndGlyphs" >MA (200, close, 0)</text>
<path d="M214 141 L222 141 L218 145 Z" fill="#d0d4de"/>
<rect x="232" y="136" width="14" height="14" fill="#29a8df" opacity="1"/>
<rect x="249" y="136" width="14" height="14" fill="#5a6170" opacity="0.55"/>
<rect x="266" y="136" width="14" height="14" fill="#5a6170" opacity="0.55"/>
<g fill="none" stroke="#1d2a3a" stroke-width="1.5" opacity="1"><path d="M234 143 C236.5 139 241.5 139 244 143 C241.5 147 236.5 147 234 143 Z"/><circle cx="239" cy="143" r="1.4"/></g>
<circle cx="256" cy="143" r="3.6" fill="none" stroke="#2e3342" stroke-width="2.4" stroke-dasharray="1.6 1.2" opacity="0.9"/><circle cx="256" cy="143" r="2.6" fill="none" stroke="#2e3342" stroke-width="1.3"/>
<path d="M268.5 138.5 L277.5 147.5 M277.5 138.5 L268.5 147.5" stroke="#2e3342" stroke-width="1.3" opacity="0.9"/>
<text x="117.3" y="701" font-size="12.7" fill="#c3c8d4" text-anchor="start" font-weight="normal" textLength="40" lengthAdjust="spacingAndGlyphs" >RSI (14)</text>
<path d="M162 694.5 L170 694.5 L166 698.5 Z" fill="#d0d4de"/>
<rect x="180" y="689" width="14" height="14" fill="#5a6170" opacity="0.55"/>
<rect x="197" y="689" width="14" height="14" fill="#5a6170" opacity="0.55"/>
<rect x="214" y="689" width="14" height="14" fill="#5a6170" opacity="0.55"/>
<g fill="none" stroke="#8c919e" stroke-width="1.5" opacity="0.6"><path d="M182 696 C184.5 692 189.5 692 192 696 C189.5 700 184.5 700 182 696 Z"/><circle cx="187" cy="696" r="1.4"/></g>
<circle cx="204" cy="696" r="3.6" fill="none" stroke="#2e3342" stroke-width="2.4" stroke-dasharray="1.6 1.2" opacity="0.9"/><circle cx="204" cy="696" r="2.6" fill="none" stroke="#2e3342" stroke-width="1.3"/>
<path d="M216.5 691.5 L225.5 700.5 M225.5 691.5 L216.5 700.5" stroke="#2e3342" stroke-width="1.3" opacity="0.9"/>
<text x="236.6" y="701.5" font-size="12.7" fill="#f2f000" text-anchor="start" font-weight="normal" textLength="43.8" lengthAdjust="spacingAndGlyphs" >75.2963</text>
<text x="117" y="827.3" font-size="12.7" fill="#c3c8d4" text-anchor="start" font-weight="normal" textLength="121.5" lengthAdjust="spacingAndGlyphs" >MACD (12, 26, close, 9)</text>
<path d="M243.5 820.5 L251.5 820.5 L247.5 824.5 Z" fill="#d0d4de"/>
<rect x="261" y="815" width="14" height="14" fill="#5a6170" opacity="0.55"/>
<rect x="278" y="815" width="14" height="14" fill="#5a6170" opacity="0.55"/>
<rect x="295" y="815" width="14" height="14" fill="#5a6170" opacity="0.55"/>
<g fill="none" stroke="#8c919e" stroke-width="1.5" opacity="0.6"><path d="M263 822 C265.5 818 270.5 818 273 822 C270.5 826 265.5 826 263 822 Z"/><circle cx="268" cy="822" r="1.4"/></g>
<circle cx="285" cy="822" r="3.6" fill="none" stroke="#2e3342" stroke-width="2.4" stroke-dasharray="1.6 1.2" opacity="0.9"/><circle cx="285" cy="822" r="2.6" fill="none" stroke="#2e3342" stroke-width="1.3"/>
<path d="M297.5 817.5 L306.5 826.5 M306.5 817.5 L297.5 826.5" stroke="#2e3342" stroke-width="1.3" opacity="0.9"/>
<text x="318" y="827.5" font-size="12.7" fill="#d8181f" text-anchor="start" font-weight="normal" textLength="42.7" lengthAdjust="spacingAndGlyphs" >16.3626</text>
<text x="372" y="827.5" font-size="12.7" fill="#18d018" text-anchor="start" font-weight="normal" textLength="43.5" lengthAdjust="spacingAndGlyphs" >19.8530</text>
<text x="426.2" y="827.5" font-size="12.7" fill="#d8181f" text-anchor="start" font-weight="normal" textLength="36.8" lengthAdjust="spacingAndGlyphs" >3.4904</text>
</svg>
</body></html>
